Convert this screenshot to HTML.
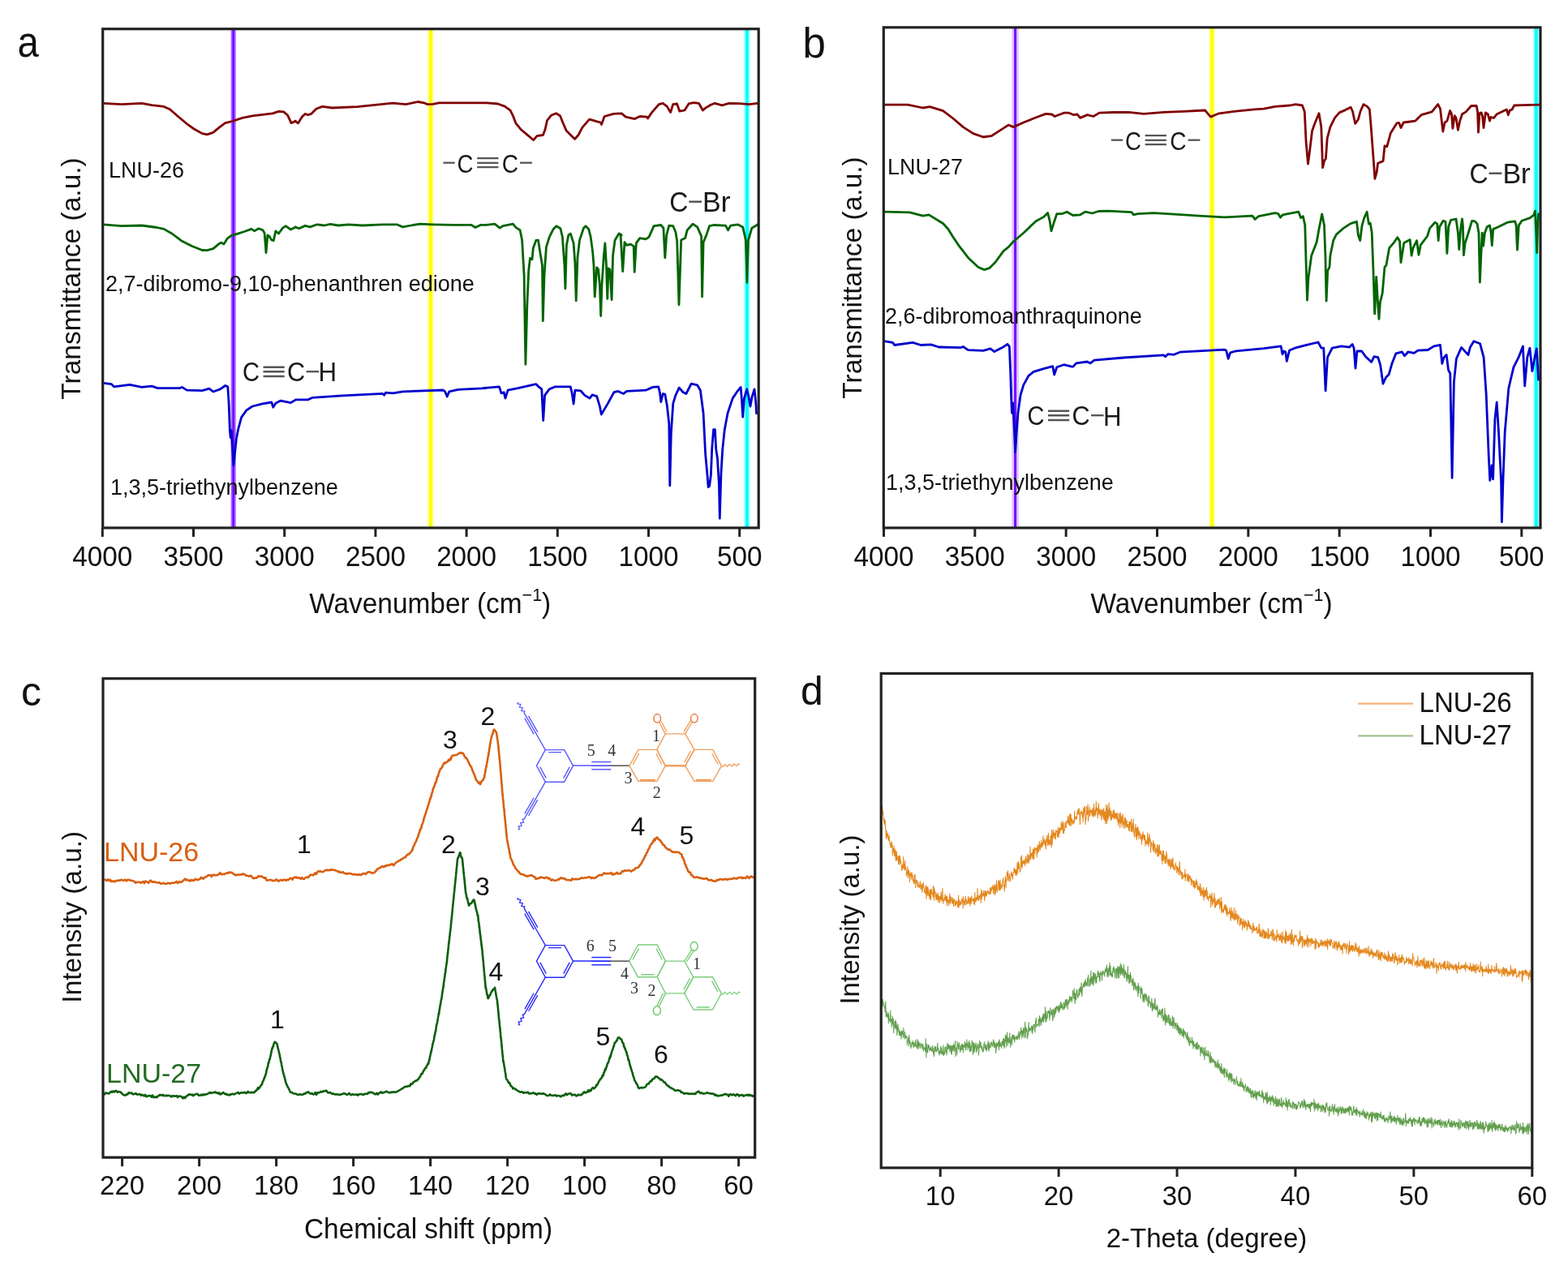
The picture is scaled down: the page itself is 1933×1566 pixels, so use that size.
<!DOCTYPE html>
<html><head><meta charset="utf-8"><title>Figure</title>
<style>html,body{margin:0;padding:0;background:#fff;}svg{display:block;}</style></head>
<body><svg width="1933" height="1566" viewBox="0 0 1933 1566">
<rect width="1933" height="1566" fill="#fff"/>
<line x1="287.7" y1="35.7" x2="287.7" y2="650.9" stroke="#A86AFF" stroke-width="6.2"/>
<line x1="287.7" y1="35.7" x2="287.7" y2="650.9" stroke="#7700FF" stroke-width="2.4"/>
<line x1="531" y1="35.7" x2="531" y2="650.9" stroke="#FFFFB8" stroke-width="8.0"/>
<line x1="531" y1="35.7" x2="531" y2="650.9" stroke="#FFFF00" stroke-width="4.2"/>
<line x1="920.9" y1="35.7" x2="920.9" y2="650.9" stroke="#B0FFFF" stroke-width="7.6"/>
<line x1="920.9" y1="35.7" x2="920.9" y2="650.9" stroke="#00FFFF" stroke-width="4.0"/>
<line x1="1251.6" y1="33.8" x2="1251.6" y2="650.9" stroke="#DCC8FF" stroke-width="8.6"/>
<line x1="1251.6" y1="33.8" x2="1251.6" y2="650.9" stroke="#7700FF" stroke-width="3.0"/>
<line x1="1494.1" y1="33.8" x2="1494.1" y2="650.9" stroke="#FFFFB8" stroke-width="8.0"/>
<line x1="1494.1" y1="33.8" x2="1494.1" y2="650.9" stroke="#FFFF00" stroke-width="4.2"/>
<line x1="1893.8" y1="33.8" x2="1893.8" y2="650.9" stroke="#B0FFFF" stroke-width="7.6"/>
<line x1="1893.8" y1="33.8" x2="1893.8" y2="650.9" stroke="#00FFFF" stroke-width="4.0"/>
<polyline points="127.5,127.4 149.8,128.6 174.7,127.4 187.1,129.6 202.0,131.4 209.4,134.8 219.4,143.5 230.5,152.8 239.2,159.0 249.2,164.6 255.4,165.9 262.8,163.4 270.3,157.2 277.7,151.6 286.4,149.5 298.8,145.4 311.2,142.9 336.1,139.8 343.5,137.3 349.7,137.9 354.7,142.3 359.0,151.6 364.6,149.5 363.7,149.1 367.4,152.0 372.4,144.1 376.1,140.4 379.9,141.7 383.6,140.4 389.8,134.2 397.2,131.4 409.7,133.0 440.7,131.7 484.2,127.1 500.3,128.6 515.2,125.5 522.6,126.8 527.0,128.6 533.8,128.4 541.3,126.8 599.6,126.8 613.6,128.0 622.3,131.1 629.1,136.1 632.2,142.3 636.0,152.2 642.2,159.7 649.6,165.9 657.7,172.7 662.0,167.7 669.5,166.5 672.0,159.7 674.5,148.5 679.4,142.3 685.6,139.8 690.6,142.9 694.3,152.2 698.1,160.9 703.0,165.9 708.6,171.5 713.0,166.5 717.9,157.2 726.6,147.2 735.3,149.7 740.3,151.0 741.5,153.5 745.2,143.5 756.4,140.4 766.3,139.8 771.3,144.1 782.5,146.6 788.7,143.5 797.4,144.1 798.6,146.0 803.6,138.6 812.3,128.6 817.2,127.4 822.2,131.1 826.6,138.6 829.7,128.6 834.6,128.0 837.8,137.2 844.0,136.0 849.0,127.9 855.2,126.7 861.4,127.3 866.4,136.0 870.1,132.9 876.3,129.2 881.3,127.3 890.0,129.8 898.7,127.3 911.1,127.6 923.5,128.6 934.0,127.3" fill="none" stroke="#800000" stroke-width="2.8" stroke-linejoin="round" stroke-linecap="round" />
<polyline points="127.5,276.8 149.8,278.7 174.7,278.0 193.3,280.5 202.0,282.4 211.9,288.0 219.4,293.6 224.3,297.3 236.7,303.5 249.2,308.5 255.4,308.7 262.8,306.6 270.3,300.4 272.7,299.1 275.9,301.0 280.2,294.2 285.2,290.5 290.1,289.2 301.3,285.5 310.0,282.4 313.7,284.9 318.7,281.8 323.7,283.6 326.1,287.3 328.0,311.6 329.9,289.8 331.7,291.1 334.8,296.0 337.3,296.7 339.8,284.9 343.5,288.0 348.5,281.1 352.2,278.7 358.4,283.0 364.6,279.9 363.7,279.9 368.7,281.7 376.1,278.4 382.3,279.9 391.0,276.8 399.7,278.0 407.2,276.4 417.1,278.0 429.5,276.8 446.9,278.0 471.7,276.8 489.1,276.8 496.6,279.9 506.5,278.0 517.7,276.1 533.8,276.8 558.7,277.4 581.0,277.4 586.0,280.5 592.2,277.4 599.6,277.4 609.9,276.2 616.2,281.2 619.9,278.7 632.4,276.2 636.1,280.6 641.1,283.7 643.6,296.1 646.1,339.7 647.9,449.3 649.8,377.1 651.7,333.5 653.5,318.5 656.0,319.8 657.3,306.1 661.0,296.1 663.5,296.1 666.0,312.3 668.5,327.3 669.3,395.7 671.0,339.7 673.4,304.8 677.2,292.4 682.2,282.4 685.9,278.7 690.9,281.8 693.4,292.4 695.9,327.3 696.9,355.9 698.4,302.4 700.8,289.9 703.3,288.0 707.1,299.9 708.9,324.8 710.2,370.8 712.0,317.3 714.5,296.1 719.5,281.2 722.0,278.7 725.7,282.4 728.2,292.4 730.7,311.1 732.0,327.3 733.2,365.9 735.7,329.8 737.6,332.2 739.4,352.2 740.7,389.5 741.9,352.2 744.4,314.8 745.9,299.9 747.5,327.3 748.8,368.4 750.0,331.0 751.9,332.2 754.1,369.6 755.6,314.8 758.1,296.1 763.1,288.0 766.2,289.9 765.0,288.7 767.7,334.7 770.0,298.6 772.5,302.4 777.5,301.1 781.2,303.6 782.2,335.4 784.3,299.9 788.7,293.6 796.1,294.9 799.9,292.4 806.1,278.7 814.8,277.5 817.9,281.2 819.8,317.9 821.7,289.9 824.8,278.1 829.8,278.7 832.9,286.2 834.7,297.4 837.0,375.8 839.7,296.1 844.7,293.6 847.2,283.7 854.0,276.2 859.6,279.9 864.6,291.1 865.6,365.9 867.1,298.6 870.8,289.9 874.6,278.7 879.6,277.5 894.5,278.1 897.6,283.7 900.7,278.1 909.4,276.8 915.7,279.9 919.4,296.1 920.9,348.4 922.5,296.1 926.9,281.2 934.3,276.8" fill="none" stroke="#006400" stroke-width="2.8" stroke-linejoin="round" stroke-linecap="round" />
<polyline points="127.5,472.4 137.4,473.7 140.5,476.8 159.8,474.3 174.7,477.4 187.1,476.1 194.5,478.6 221.8,478.6 224.3,477.4 230.5,481.1 249.2,481.7 257.9,479.2 262.8,483.0 271.5,479.9 277.7,475.5 280.8,476.8 282.1,497.2 283.3,529.5 284.2,539.5 285.2,530.8 287.0,559.3 287.9,574.2 289.5,559.3 291.4,540.7 293.9,528.3 297.6,514.6 303.8,505.9 311.2,501.0 323.7,497.9 334.8,496.0 336.7,502.2 339.8,497.2 346.0,494.1 358.4,496.6 364.6,492.9 365.0,492.8 379.9,492.8 384.8,490.4 422.1,487.9 471.7,485.4 473.6,487.2 475.5,484.1 484.2,484.8 496.6,482.9 546.2,481.0 548.7,482.9 551.2,489.1 553.7,482.9 564.9,480.4 599.6,478.6 595.0,478.7 615.5,476.8 618.0,484.9 621.1,483.7 623.0,491.1 626.1,481.2 638.6,478.7 657.3,474.3 661.0,473.7 664.7,477.4 667.8,479.9 669.7,518.5 671.6,487.4 677.2,479.9 684.7,476.8 703.3,476.8 705.2,484.9 707.1,498.0 708.9,481.2 715.8,481.8 720.8,487.4 727.0,491.1 730.1,486.8 735.7,488.6 739.4,501.1 741.3,511.1 745.7,503.6 749.4,497.4 756.9,483.7 761.9,482.4 768.7,485.5 772.5,482.4 796.1,481.2 804.8,477.4 811.7,476.8 813.6,484.9 814.8,495.5 817.3,485.5 819.8,486.1 822.3,499.8 824.8,522.3 825.8,598.8 827.3,534.7 829.8,497.4 832.9,487.4 837.2,478.1 842.2,483.7 845.9,485.5 852.2,473.1 859.6,474.9 863.4,481.2 867.1,509.8 869.6,559.6 872.1,587.0 873.1,600.7 874.6,599.5 876.4,585.8 877.7,553.4 879.6,529.7 881.4,529.7 882.7,553.4 884.5,565.8 886.4,597.0 887.3,639.3 888.9,584.5 890.8,553.4 893.3,529.7 897.0,509.8 903.2,491.1 908.2,483.7 913.2,477.4 914.4,492.4 915.7,514.2 917.5,491.1 920.7,479.9 923.1,489.9 925.0,501.1 926.9,489.9 930.0,479.9 931.9,497.4 932.5,509.8" fill="none" stroke="#0000CD" stroke-width="2.8" stroke-linejoin="round" stroke-linecap="round" />
<polyline points="1089.9,129.2 1119.0,129.2 1137.7,133.0 1146.4,131.7 1162.5,136.7 1174.9,146.0 1187.3,156.6 1199.7,164.6 1212.2,169.0 1222.1,167.7 1230.8,162.1 1243.2,154.1 1249.4,156.6 1261.8,151.0 1274.2,146.0 1289.1,140.4 1296.6,141.0 1300.3,143.5 1311.5,139.2 1317.7,139.2 1323.9,141.7 1328.0,141.0 1331.7,145.4 1340.4,141.6 1347.8,143.5 1355.3,139.1 1372.7,138.5 1391.3,138.3 1409.9,140.4 1434.7,138.3 1459.6,137.3 1485.6,136.0 1488.1,139.1 1492.5,144.1 1496.8,142.2 1503.0,139.8 1521.7,137.3 1546.5,134.8 1558.0,134.2 1572.0,131.4 1590.6,130.0 1597.1,128.6 1605.5,130.0 1608.3,137.9 1610.1,175.2 1612.5,202.2 1614.8,184.5 1617.6,161.2 1621.3,151.0 1626.0,139.8 1628.8,156.6 1630.6,206.8 1632.5,198.5 1634.4,195.7 1636.2,170.5 1639.9,156.6 1645.5,145.4 1651.1,138.9 1658.6,135.6 1665.1,132.3 1667.4,137.0 1670.7,152.4 1674.4,147.2 1677.2,137.0 1680.9,128.6 1685.6,131.4 1688.4,135.1 1690.2,156.6 1693.0,193.8 1694.9,220.3 1697.2,212.4 1698.6,201.3 1703.3,199.4 1705.1,198.5 1707.0,179.8 1709.8,180.8 1714.4,164.0 1721.9,151.9 1724.7,151.4 1727.0,157.5 1730.3,151.0 1738.2,150.0 1744.8,149.1 1752.2,141.7 1765.2,137.9 1772.7,128.6 1775.5,134.2 1778.8,162.1 1781.1,151.0 1783.9,149.1 1787.6,136.5 1789.5,140.7 1790.9,158.4 1793.2,142.6 1795.0,145.4 1797.4,160.3 1799.7,149.1 1802.5,140.7 1807.2,137.9 1813.7,130.5 1820.2,130.5 1821.6,137.9 1822.5,163.1 1823.9,139.8 1826.2,138.9 1827.6,143.5 1829.0,157.5 1831.4,138.9 1834.2,140.7 1836.5,149.1 1837.9,144.5 1841.6,145.4 1845.3,140.7 1857.4,135.1 1859.3,141.7 1861.2,136.1 1864.0,135.1 1866.7,130.0 1877.0,129.6 1898.4,129.1" fill="none" stroke="#800000" stroke-width="2.8" stroke-linejoin="round" stroke-linecap="round" />
<polyline points="1089.9,261.2 1121.5,261.8 1137.7,266.1 1145.1,264.9 1162.5,275.5 1168.7,282.3 1174.9,292.2 1182.4,303.4 1193.5,317.7 1206.0,329.5 1213.4,332.6 1219.6,330.7 1227.1,323.3 1237.0,309.6 1243.2,304.6 1249.4,297.8 1261.8,287.2 1276.7,273.0 1286.7,267.4 1291.6,262.4 1294.1,272.3 1296.0,284.8 1299.1,274.8 1302.8,263.7 1309.0,263.7 1315.2,261.2 1322.7,265.5 1331.7,264.8 1337.9,261.1 1346.6,263.0 1354.0,260.5 1366.5,260.1 1385.1,261.1 1395.0,261.7 1397.5,264.8 1402.5,263.6 1422.3,262.6 1447.2,264.2 1478.2,266.1 1509.2,267.9 1544.0,266.1 1547.1,270.4 1551.5,266.7 1558.0,265.4 1572.0,262.6 1575.7,263.5 1578.5,268.2 1581.3,264.9 1600.8,261.2 1603.6,268.6 1606.4,266.8 1608.8,277.9 1610.1,324.5 1611.5,370.1 1612.9,343.1 1614.8,329.2 1616.7,315.2 1623.2,298.4 1626.0,282.6 1629.7,264.0 1632.5,277.9 1633.9,315.2 1635.1,371.1 1636.7,333.8 1639.0,329.2 1639.9,315.2 1643.7,296.6 1647.4,289.1 1655.8,281.7 1665.1,275.6 1672.5,273.3 1674.4,290.0 1676.7,296.6 1679.1,277.9 1681.8,268.6 1685.1,261.2 1687.4,276.1 1689.3,275.1 1691.2,287.2 1693.0,333.8 1694.7,386.9 1696.7,341.3 1698.6,373.8 1700.0,393.4 1701.4,372.9 1704.2,361.7 1707.0,329.2 1708.9,327.3 1712.6,305.9 1718.2,299.4 1722.8,292.8 1725.6,297.5 1727.0,323.6 1730.8,299.4 1738.2,295.6 1740.1,315.2 1742.0,305.9 1746.6,296.6 1749.0,314.3 1751.3,302.1 1759.7,291.0 1762.5,281.7 1769.0,274.2 1771.8,276.1 1773.2,296.6 1774.6,279.8 1779.2,272.3 1782.0,273.3 1783.9,312.4 1785.7,279.8 1788.5,271.4 1795.0,270.0 1797.4,287.2 1798.8,307.7 1800.6,282.6 1802.5,270.0 1803.4,277.9 1804.4,314.7 1806.2,299.4 1809.0,291.0 1814.6,272.3 1818.3,272.8 1821.1,276.1 1823.0,287.2 1824.4,348.2 1825.8,315.2 1827.2,287.2 1828.6,303.1 1830.4,287.2 1833.2,279.8 1836.5,277.9 1837.9,285.4 1839.3,302.6 1840.7,282.6 1847.2,279.8 1858.4,274.2 1867.7,272.8 1869.1,277.9 1870.5,308.2 1872.3,277.9 1876.1,272.3 1886.3,268.6 1891.0,264.9 1892.4,260.2 1893.8,287.2 1894.7,311.5 1895.6,277.9 1896.5,264.0" fill="none" stroke="#006400" stroke-width="2.8" stroke-linejoin="round" stroke-linecap="round" />
<polyline points="1089.9,420.6 1100.4,422.4 1102.9,425.5 1125.2,422.4 1135.2,425.5 1147.6,424.9 1157.5,428.0 1184.8,428.6 1187.3,427.4 1193.5,431.7 1212.2,432.3 1220.9,429.9 1225.8,433.6 1235.7,428.6 1242.0,424.3 1244.4,427.4 1245.7,459.7 1246.9,496.9 1247.5,509.3 1248.8,496.9 1250.6,534.2 1251.6,557.7 1253.1,534.2 1255.0,509.3 1258.1,487.0 1261.8,474.6 1268.0,463.4 1274.2,458.4 1286.7,454.7 1297.8,451.6 1299.7,462.1 1302.8,452.8 1311.5,449.7 1321.4,452.2 1323.0,452.2 1326.7,447.9 1340.4,446.0 1344.1,447.9 1349.1,444.1 1385.1,441.0 1434.7,437.9 1436.6,439.8 1439.7,436.7 1447.2,437.3 1454.6,434.2 1509.2,431.1 1511.7,432.3 1514.2,442.3 1516.7,434.8 1522.9,433.0 1558.0,429.6 1579.1,426.8 1581.0,436.8 1582.9,433.0 1584.8,433.9 1586.3,445.4 1589.6,432.0 1596.3,429.2 1610.7,425.3 1625.0,422.0 1628.9,429.2 1631.8,429.2 1634.1,481.8 1636.5,440.7 1642.3,429.2 1653.8,426.8 1663.4,428.2 1667.2,424.4 1669.1,429.2 1671.0,454.1 1672.9,433.0 1678.7,433.0 1683.5,439.7 1690.7,446.4 1694.0,439.7 1698.8,440.7 1701.7,450.2 1705.0,473.2 1708.4,465.6 1712.2,461.7 1716.0,448.3 1720.8,435.9 1728.5,433.9 1731.4,438.7 1735.2,434.9 1732.6,437.6 1735.7,433.8 1743.3,435.3 1747.9,432.2 1760.2,431.5 1767.8,426.9 1775.5,425.3 1777.8,448.3 1780.1,440.7 1783.2,437.6 1785.5,456.0 1787.8,460.6 1790.1,589.3 1792.4,471.3 1795.4,442.2 1801.6,428.4 1810.0,437.6 1812.3,428.4 1816.9,420.7 1824.6,423.8 1829.1,440.7 1832.2,486.6 1835.3,563.3 1836.8,592.4 1839.1,574.0 1840.6,590.8 1842.9,517.3 1845.2,495.8 1847.5,532.6 1850.6,593.9 1851.4,643.7 1852.9,593.9 1855.2,532.6 1859.8,479.0 1865.9,452.9 1872.1,440.7 1877.4,426.9 1879.7,475.9 1882.8,440.7 1885.9,429.2 1888.9,457.5 1892.0,440.7 1894.3,429.9 1896.6,468.2" fill="none" stroke="#0000CD" stroke-width="2.8" stroke-linejoin="round" stroke-linecap="round" />
<polyline points="127.5,1085.3 128.9,1084.7 130.2,1084.8 131.6,1086.2 133.0,1084.4 134.4,1085.9 135.8,1084.7 137.1,1087.0 138.5,1086.6 139.9,1086.6 141.2,1087.3 142.6,1085.9 143.9,1086.4 145.2,1085.8 146.6,1085.4 147.9,1085.8 149.3,1084.7 150.6,1085.2 151.9,1085.7 153.3,1085.2 154.6,1084.7 155.9,1086.3 157.3,1084.7 158.7,1085.1 160.1,1085.1 161.5,1086.0 162.9,1085.9 164.3,1086.4 165.7,1086.8 167.1,1088.7 168.5,1087.8 169.8,1087.8 171.1,1087.8 172.4,1088.1 173.8,1088.9 175.1,1087.4 176.4,1087.1 177.8,1089.1 179.1,1086.5 180.4,1087.2 181.8,1087.8 183.1,1088.8 184.4,1086.7 185.7,1085.6 187.1,1087.2 188.4,1087.8 189.7,1087.2 191.1,1087.5 192.4,1088.2 193.7,1088.2 195.1,1088.4 196.4,1088.1 197.7,1089.4 199.1,1089.8 200.4,1089.0 201.7,1088.8 203.0,1089.8 204.4,1089.8 205.7,1089.7 207.0,1088.8 208.4,1089.0 209.7,1089.8 211.0,1088.9 212.4,1088.6 213.7,1088.7 215.0,1088.4 216.3,1088.2 217.7,1086.8 219.0,1089.0 220.3,1087.8 221.7,1087.0 223.0,1088.0 224.3,1087.2 225.3,1086.5 226.2,1085.3 227.1,1085.1 228.1,1083.5 229.5,1085.3 230.9,1084.6 232.4,1085.7 233.8,1086.5 235.3,1084.9 236.7,1085.9 238.1,1085.3 239.5,1085.8 240.9,1083.8 242.3,1084.4 243.6,1085.1 245.0,1084.5 246.4,1083.9 247.8,1081.9 249.2,1082.8 250.4,1083.9 251.6,1082.2 252.9,1081.8 254.1,1081.2 255.4,1080.4 256.7,1079.1 258.0,1079.1 259.4,1079.0 260.7,1080.9 262.0,1078.9 263.3,1079.1 264.7,1078.9 266.0,1079.3 267.3,1079.1 268.7,1078.8 270.0,1077.6 271.3,1076.2 272.7,1078.2 274.0,1077.9 275.4,1077.8 276.8,1078.1 278.2,1077.0 279.7,1076.4 281.1,1076.8 282.5,1075.3 283.9,1076.0 285.2,1075.8 286.4,1076.3 287.6,1077.6 288.9,1077.9 290.2,1079.4 291.5,1078.6 292.9,1079.0 294.2,1078.5 295.5,1078.7 296.8,1078.3 298.2,1078.6 299.5,1077.3 300.8,1078.2 302.1,1078.3 303.5,1079.8 304.8,1079.8 306.1,1080.2 307.4,1080.6 308.8,1079.7 310.0,1080.3 311.2,1082.0 312.5,1083.3 313.7,1082.8 315.0,1082.4 316.2,1082.7 317.4,1081.5 318.7,1080.1 319.9,1080.8 321.2,1080.4 322.4,1080.4 323.7,1081.7 324.9,1081.9 326.1,1083.0 327.4,1082.1 328.6,1085.4 329.9,1085.6 331.1,1085.3 332.4,1085.1 333.8,1084.8 335.1,1085.5 336.5,1085.9 337.8,1085.8 339.1,1085.9 340.5,1084.4 341.8,1085.0 343.1,1086.6 344.5,1086.0 345.8,1084.9 347.1,1085.3 348.5,1085.9 349.8,1084.7 351.2,1084.7 352.5,1085.8 353.9,1084.6 355.2,1085.1 356.6,1084.2 357.9,1082.8 359.2,1083.0 360.6,1084.7 361.9,1082.3 363.3,1081.8 364.6,1082.2 365.0,1081.4 366.4,1082.6 367.8,1082.2 369.2,1082.5 370.6,1083.8 372.1,1082.0 373.5,1083.8 374.9,1083.9 376.1,1082.6 377.4,1081.7 378.6,1081.5 379.9,1082.2 381.1,1080.7 382.3,1078.9 383.6,1078.8 384.8,1078.9 386.1,1079.3 387.3,1078.3 388.6,1076.3 389.8,1078.0 391.0,1075.6 392.3,1074.4 393.5,1074.6 394.9,1074.3 396.2,1074.9 397.6,1075.2 398.9,1074.6 400.2,1073.5 401.6,1073.3 402.9,1072.5 404.3,1073.3 405.6,1072.8 407.0,1073.2 408.3,1072.0 409.7,1072.7 410.9,1072.8 412.1,1072.9 413.4,1073.1 414.6,1073.6 415.9,1074.1 417.1,1075.2 418.5,1074.6 419.9,1076.0 421.3,1075.9 422.7,1075.2 424.1,1076.7 425.5,1076.8 426.9,1077.8 428.3,1077.0 429.6,1077.1 431.0,1077.2 432.3,1077.1 433.7,1077.7 435.0,1078.2 436.4,1078.1 437.7,1078.0 439.0,1078.7 440.4,1078.5 441.7,1078.8 443.1,1078.1 444.4,1078.9 445.7,1078.6 446.9,1077.3 448.2,1077.0 449.4,1077.2 450.6,1078.0 451.9,1076.8 453.1,1075.7 454.4,1075.2 455.9,1075.2 457.3,1076.1 458.8,1076.5 460.3,1076.5 461.8,1075.8 462.7,1074.6 463.7,1073.8 464.6,1072.3 465.5,1071.5 466.8,1070.8 468.0,1070.0 469.3,1070.0 470.5,1068.3 471.7,1068.5 473.0,1069.1 474.2,1067.8 475.5,1068.3 476.7,1066.7 478.0,1067.1 479.4,1066.6 480.8,1066.8 482.3,1065.5 483.7,1065.4 485.2,1067.2 486.6,1065.3 487.7,1064.0 488.8,1063.2 489.8,1062.5 490.9,1062.1 492.0,1061.2 493.0,1061.1 494.1,1059.7 495.6,1059.5 497.0,1058.1 498.5,1057.4 500.0,1057.0 501.0,1055.1 502.0,1054.0 503.0,1053.5 504.0,1053.5 505.0,1052.1 506.0,1051.5 507.0,1050.0 507.6,1049.4 508.1,1047.5 508.6,1047.8 509.2,1044.9 509.7,1043.6 510.3,1042.6 510.8,1042.4 511.3,1040.4 511.9,1038.8 512.4,1038.4 513.0,1037.7 513.5,1035.6 514.0,1034.5 514.5,1033.1 514.9,1032.8 515.4,1031.5 515.8,1030.2 516.2,1027.9 516.7,1027.3 517.1,1026.2 517.6,1023.5 518.0,1024.3 518.4,1022.3 518.9,1020.8 519.3,1021.3 519.8,1018.7 520.2,1016.8 520.6,1016.1 521.1,1014.9 521.5,1014.0 521.9,1012.9 522.2,1011.1 522.6,1009.3 523.0,1008.2 523.4,1006.8 523.8,1005.4 524.2,1004.9 524.6,1003.3 525.0,1002.4 525.4,1000.6 525.8,999.3 526.1,998.5 526.5,997.2 526.9,996.9 527.3,994.3 527.7,993.8 528.1,992.4 528.5,991.1 528.9,989.0 529.3,989.1 529.7,987.5 530.0,984.8 530.4,985.3 530.8,984.3 531.2,981.9 531.6,982.3 532.0,980.0 532.4,977.9 532.8,977.8 533.2,975.9 533.6,974.0 534.0,972.2 534.3,972.6 534.7,970.7 535.1,969.9 535.6,969.1 536.0,967.7 536.4,965.9 536.9,964.6 537.3,964.9 537.8,963.7 538.2,961.8 538.6,959.8 539.1,958.2 539.5,957.4 540.0,957.5 540.4,955.5 540.8,953.7 541.3,951.9 541.7,951.6 542.1,950.2 542.8,948.4 543.6,947.8 544.3,947.0 545.0,946.0 545.7,944.2 546.4,942.6 547.1,941.8 547.8,940.4 549.2,941.1 550.6,939.7 552.0,939.0 552.9,936.9 553.9,937.7 554.8,935.7 555.7,936.6 556.7,932.8 557.6,932.0 559.0,931.6 560.4,931.1 561.8,931.2 563.2,930.6 564.6,929.8 566.0,928.8 567.4,928.0 568.8,928.8 570.2,928.5 571.0,929.2 571.8,930.3 572.7,933.2 573.5,933.4 574.3,934.7 575.1,934.8 575.9,936.2 576.5,937.6 577.1,938.6 577.7,939.8 578.4,941.7 579.0,942.8 579.6,943.9 580.2,945.0 580.9,945.2 581.5,947.4 582.0,948.2 582.5,950.2 583.0,951.0 583.5,952.0 584.0,954.1 584.5,954.5 585.1,955.9 585.6,958.2 586.1,958.7 586.6,961.1 587.1,961.5 588.1,963.0 589.1,964.3 590.1,965.6 591.0,964.6 592.0,967.1 592.7,965.8 593.4,963.8 594.1,963.2 594.8,962.2 595.5,961.9 596.2,959.8 596.9,958.7 597.2,958.4 597.4,955.7 597.7,954.7 597.9,953.4 598.2,952.7 598.4,950.7 598.7,949.0 598.9,947.9 599.2,945.8 599.4,946.3 599.7,944.6 599.9,943.1 600.2,941.7 600.4,939.8 600.7,938.6 600.9,938.0 601.1,936.2 601.4,934.3 601.6,933.0 601.8,933.2 602.0,931.9 602.3,929.7 602.5,928.6 602.7,927.0 602.9,926.5 603.1,923.9 603.4,922.9 603.6,921.9 603.8,921.2 604.0,918.7 604.3,917.7 604.5,915.9 604.7,914.5 604.9,913.1 605.1,912.3 605.4,910.9 605.8,910.2 606.1,908.0 606.5,906.8 606.9,905.6 607.3,904.9 607.7,903.9 608.1,901.3 608.5,901.1 608.9,899.7 609.8,900.0 610.7,902.0 611.7,902.5 611.9,903.3 612.2,904.6 612.4,906.2 612.6,908.1 612.9,908.9 613.1,911.0 613.3,912.4 613.6,913.8 613.8,915.1 613.9,916.6 614.1,918.4 614.2,918.7 614.3,920.5 614.5,921.8 614.6,921.8 614.7,924.7 614.9,925.3 615.0,926.7 615.1,928.2 615.3,929.9 615.4,931.4 615.5,932.8 615.7,933.4 615.8,935.6 615.9,936.8 616.1,937.6 616.2,939.2 616.3,941.1 616.5,942.2 616.6,943.2 616.7,945.0 616.8,945.9 616.9,947.9 617.0,949.9 617.1,950.0 617.2,950.0 617.3,953.4 617.4,953.3 617.5,954.0 617.6,954.7 617.7,957.8 617.9,959.5 618.0,960.8 618.1,961.2 618.2,963.7 618.3,964.0 618.4,964.9 618.5,966.7 618.6,968.1 618.7,969.3 618.8,970.8 618.9,970.4 619.0,974.2 619.1,974.1 619.2,976.2 619.3,976.5 619.4,978.3 619.5,979.8 619.7,980.9 619.8,981.3 619.9,983.9 620.1,985.4 620.2,985.6 620.3,986.3 620.5,988.6 620.6,989.8 620.8,991.8 620.9,993.0 621.0,995.4 621.2,996.2 621.3,996.9 621.4,998.5 621.6,997.9 621.7,1000.5 621.8,1001.8 622.0,1003.7 622.1,1005.3 622.2,1006.4 622.4,1007.9 622.5,1009.7 622.6,1010.0 622.8,1012.0 622.9,1013.0 623.0,1014.5 623.2,1016.0 623.3,1017.0 623.4,1018.6 623.6,1019.8 623.7,1021.8 623.8,1022.4 624.0,1024.0 624.1,1026.9 624.2,1026.9 624.4,1028.2 624.5,1029.9 624.6,1029.9 624.8,1032.3 624.9,1033.7 625.0,1034.5 625.3,1036.1 625.5,1037.8 625.8,1039.0 626.0,1040.6 626.3,1040.7 626.5,1042.7 626.8,1043.4 627.0,1045.9 627.3,1046.5 627.5,1046.9 627.8,1049.1 628.0,1049.8 628.3,1052.4 628.5,1052.8 628.8,1052.9 629.0,1055.4 629.2,1057.0 629.8,1058.9 630.4,1059.8 630.9,1060.4 631.5,1062.5 632.1,1063.7 632.6,1065.6 633.2,1066.4 633.7,1067.4 634.3,1067.9 634.9,1069.7 635.8,1071.0 636.7,1072.2 637.7,1073.2 638.6,1074.6 639.5,1074.7 640.5,1076.7 641.7,1077.6 642.9,1077.7 644.1,1078.4 645.3,1078.6 646.5,1079.0 647.7,1079.9 648.9,1080.2 650.3,1080.6 651.7,1079.7 653.1,1080.0 654.5,1079.1 655.9,1079.5 657.1,1080.6 658.2,1081.2 659.3,1081.2 660.4,1083.6 661.6,1083.7 663.0,1082.8 664.4,1083.2 665.8,1082.0 667.2,1081.5 668.6,1082.3 670.0,1082.3 671.4,1083.0 672.7,1082.0 674.1,1081.8 675.5,1083.4 676.9,1082.8 678.2,1084.0 679.6,1085.6 681.0,1084.5 682.3,1085.3 683.7,1085.7 685.1,1085.7 686.5,1085.2 687.8,1084.2 689.2,1084.6 690.6,1082.9 691.9,1082.3 693.3,1083.0 694.7,1083.4 696.0,1083.1 697.4,1084.7 698.8,1085.0 700.2,1085.0 701.5,1085.3 702.9,1085.2 704.3,1085.7 705.6,1083.4 707.0,1084.2 708.4,1084.2 709.8,1083.8 711.1,1084.3 712.5,1084.3 713.9,1083.8 715.2,1083.7 716.6,1082.3 718.0,1082.6 719.4,1082.9 720.7,1082.4 722.1,1082.1 723.5,1082.2 724.8,1081.8 726.2,1081.1 727.6,1081.6 728.9,1083.1 730.3,1082.0 731.7,1082.9 733.1,1082.7 734.4,1082.0 735.8,1081.5 737.2,1079.8 738.5,1079.5 739.9,1078.6 741.3,1079.2 742.7,1078.9 744.0,1076.9 745.4,1076.5 746.8,1077.5 748.1,1077.3 749.5,1077.1 750.9,1077.3 752.3,1076.8 753.6,1076.2 755.0,1078.6 756.4,1077.6 757.7,1077.9 759.1,1077.3 760.5,1075.9 761.9,1077.5 763.2,1077.0 764.6,1077.5 765.5,1076.6 766.4,1075.1 767.3,1074.0 768.7,1074.4 770.1,1073.3 771.4,1073.6 772.8,1073.7 774.2,1073.2 775.6,1073.3 776.9,1073.9 778.3,1074.7 779.7,1073.3 780.8,1072.5 782.0,1072.5 783.2,1070.6 784.4,1070.3 785.5,1070.1 786.7,1069.6 787.9,1068.5 788.6,1066.7 789.3,1066.6 790.0,1065.2 790.6,1064.8 791.3,1063.4 792.0,1062.0 792.7,1060.3 793.4,1059.6 794.1,1057.7 794.8,1056.6 795.4,1054.8 796.1,1054.8 796.7,1052.8 797.2,1051.6 797.8,1051.1 798.3,1050.0 798.9,1047.8 799.4,1047.4 800.0,1046.5 800.5,1045.6 801.1,1043.7 801.6,1042.5 802.4,1041.6 803.3,1040.1 804.1,1039.9 805.0,1037.2 805.8,1037.3 806.6,1034.6 807.5,1036.1 808.3,1034.6 809.1,1032.9 810.3,1032.5 811.4,1034.4 812.6,1035.6 813.5,1035.8 814.4,1036.6 815.3,1038.6 816.2,1039.3 817.1,1041.6 818.1,1041.7 819.0,1042.4 819.9,1044.1 820.8,1045.2 822.0,1046.3 823.2,1047.3 824.3,1047.9 825.5,1047.4 826.7,1048.6 827.9,1049.8 829.0,1050.7 830.4,1050.2 831.8,1051.2 833.1,1050.5 834.5,1050.7 835.9,1050.7 837.3,1051.4 838.6,1052.6 840.0,1053.5 840.5,1053.7 841.0,1057.2 841.4,1056.7 841.9,1057.8 842.4,1058.4 842.9,1060.7 843.4,1061.0 843.9,1063.3 844.3,1065.1 844.8,1065.9 845.3,1066.5 845.8,1068.8 846.3,1069.1 846.8,1070.4 847.3,1071.6 847.7,1072.5 848.2,1074.0 849.2,1075.4 850.2,1075.4 851.2,1076.1 852.1,1079.1 853.1,1078.9 854.1,1080.3 855.1,1081.6 856.4,1082.0 857.8,1081.7 859.2,1081.4 860.6,1082.3 861.9,1082.0 863.3,1083.1 864.7,1082.7 866.0,1083.0 867.4,1083.9 868.8,1083.6 870.2,1082.9 871.5,1083.2 872.9,1084.9 874.3,1085.5 875.6,1085.0 877.0,1084.8 878.4,1086.3 879.8,1086.1 881.1,1086.7 882.5,1086.4 883.9,1084.8 885.2,1085.5 886.6,1084.5 888.0,1084.0 889.3,1084.3 890.7,1084.6 892.1,1084.6 893.5,1083.8 894.8,1083.9 896.2,1084.8 897.6,1084.3 898.9,1083.7 900.3,1084.1 901.7,1083.8 903.1,1083.6 904.4,1082.7 905.8,1083.0 907.2,1083.4 908.5,1083.5 909.9,1082.2 911.3,1082.3 912.7,1082.3 914.0,1081.6 915.4,1083.1 916.8,1082.3 918.1,1082.5 919.5,1082.9 920.9,1080.6 922.3,1081.4 923.6,1083.0 925.0,1080.9 926.4,1080.5 927.7,1081.8 929.1,1081.6" fill="none" stroke="#D95F0E" stroke-width="2.6" stroke-linejoin="round" stroke-linecap="round" />
<polyline points="127.5,1349.5 128.8,1349.4 130.2,1347.6 131.5,1347.9 132.9,1348.1 134.2,1348.6 135.6,1347.3 136.9,1345.8 138.2,1346.8 139.6,1345.4 140.9,1346.6 142.3,1345.3 143.6,1345.1 144.9,1346.9 146.1,1346.3 147.3,1346.3 148.6,1346.6 149.8,1348.0 151.1,1349.1 152.3,1350.2 153.6,1350.3 154.8,1350.7 156.0,1349.4 157.3,1349.5 158.5,1347.4 159.8,1347.6 161.1,1348.1 162.3,1347.5 163.6,1349.2 164.9,1349.1 166.2,1348.9 167.5,1348.2 168.8,1349.5 170.1,1349.6 171.4,1349.2 172.7,1349.3 173.9,1350.8 175.2,1349.9 176.5,1350.7 177.8,1351.5 179.1,1349.9 180.4,1352.2 181.7,1351.9 183.0,1351.0 184.3,1351.1 185.6,1351.1 186.8,1352.7 188.1,1350.7 189.4,1353.1 190.7,1352.9 192.0,1352.5 193.3,1353.2 194.5,1351.8 195.8,1350.9 197.0,1350.1 198.3,1350.0 199.6,1350.9 200.9,1349.9 202.2,1351.2 203.5,1351.3 204.8,1350.6 206.1,1351.2 207.4,1350.6 208.7,1351.1 210.0,1351.5 211.3,1352.5 212.6,1351.3 213.9,1351.4 215.2,1351.6 216.4,1351.6 217.7,1351.1 219.0,1353.1 220.3,1351.6 221.6,1351.8 222.9,1351.8 224.2,1352.8 225.5,1354.4 226.8,1352.6 228.1,1354.0 229.3,1352.2 230.5,1351.2 231.8,1350.5 233.0,1349.3 234.3,1349.5 235.6,1350.1 237.0,1349.6 238.3,1351.2 239.7,1349.7 241.0,1349.4 242.4,1348.9 243.7,1349.1 245.1,1350.8 246.5,1350.7 247.8,1349.8 249.2,1350.7 250.5,1349.3 251.8,1350.2 253.2,1349.4 254.5,1349.4 255.9,1348.9 257.2,1348.0 258.6,1347.0 259.9,1347.9 261.3,1347.5 262.6,1347.2 264.0,1347.3 265.3,1346.4 266.5,1347.6 267.8,1347.3 269.0,1348.6 270.3,1347.4 271.5,1349.5 272.7,1349.1 274.0,1347.8 275.2,1347.0 276.5,1348.4 277.7,1349.2 279.0,1348.7 280.2,1350.1 281.5,1349.8 282.9,1350.5 284.2,1349.2 285.5,1349.4 286.9,1348.8 288.2,1349.4 289.5,1349.0 290.8,1348.1 292.2,1347.6 293.5,1346.9 294.8,1348.7 296.2,1347.7 297.5,1347.3 298.8,1347.6 300.2,1347.2 301.6,1346.9 302.9,1347.9 304.3,1347.8 305.7,1345.8 307.0,1347.2 308.4,1347.2 309.7,1346.9 311.1,1347.1 312.5,1347.0 313.6,1347.1 314.7,1345.3 315.7,1345.0 316.8,1343.9 317.9,1341.3 319.0,1342.6 320.1,1340.6 321.2,1339.5 321.8,1338.1 322.4,1337.6 323.0,1337.3 323.7,1334.0 324.3,1332.9 324.9,1332.3 325.5,1329.7 326.1,1329.6 326.5,1327.5 326.8,1327.0 327.2,1326.1 327.6,1324.6 327.9,1323.5 328.3,1322.3 328.6,1320.0 329.0,1318.7 329.3,1317.4 329.7,1316.1 330.0,1315.7 330.4,1314.2 330.7,1310.9 331.1,1311.0 331.4,1310.0 331.8,1307.6 332.1,1306.3 332.4,1306.5 332.8,1305.2 333.1,1303.8 333.4,1302.2 333.8,1301.6 334.1,1298.3 334.4,1298.3 334.7,1296.0 335.1,1294.7 335.4,1292.7 335.7,1293.4 336.1,1291.1 336.6,1291.0 337.1,1289.2 337.6,1287.0 338.1,1286.3 338.6,1284.9 339.6,1285.0 340.6,1286.4 341.7,1287.4 342.0,1289.8 342.3,1291.2 342.6,1291.9 342.9,1293.4 343.2,1294.1 343.5,1295.8 343.8,1296.8 344.1,1298.6 344.5,1299.3 344.8,1301.0 345.0,1303.0 345.3,1303.6 345.6,1305.2 345.8,1306.3 346.1,1308.7 346.4,1309.6 346.6,1309.8 346.9,1311.1 347.2,1313.4 347.4,1314.4 347.7,1315.5 348.0,1317.2 348.2,1319.4 348.5,1319.7 348.8,1321.0 349.2,1323.3 349.5,1323.4 349.8,1324.9 350.2,1326.7 350.5,1327.8 350.9,1328.8 351.2,1329.8 351.5,1331.6 351.9,1333.0 352.2,1334.6 352.8,1335.8 353.5,1337.8 354.1,1338.6 354.7,1340.3 355.3,1340.9 355.9,1342.3 356.6,1343.7 357.2,1345.0 357.8,1346.4 358.4,1347.0 360.0,1347.1 361.5,1348.2 363.1,1348.5 364.6,1348.8 365.0,1348.7 366.5,1349.8 368.1,1349.9 369.6,1349.3 371.2,1349.9 372.4,1349.7 373.7,1349.4 374.9,1348.4 376.1,1348.7 377.4,1347.6 378.6,1346.8 380.1,1346.4 381.5,1347.9 383.0,1348.6 384.4,1348.0 385.9,1349.4 387.3,1349.3 388.7,1347.1 390.1,1349.9 391.5,1347.2 392.8,1347.4 394.2,1347.1 395.6,1345.9 397.0,1346.6 398.4,1345.4 399.7,1345.6 401.1,1345.0 402.4,1344.7 403.8,1347.0 405.1,1347.6 406.5,1347.0 407.8,1347.6 409.1,1348.8 410.5,1348.4 411.8,1349.2 413.2,1349.4 414.5,1349.5 415.9,1349.3 417.2,1349.7 418.5,1350.1 419.9,1349.5 421.2,1349.4 422.5,1348.9 423.9,1348.0 425.2,1348.7 426.5,1349.1 427.8,1350.0 429.2,1349.1 430.5,1348.0 431.8,1349.8 433.2,1350.2 434.5,1349.3 435.9,1349.6 437.2,1349.7 438.6,1349.7 440.0,1349.6 441.3,1350.6 442.7,1349.2 444.1,1349.3 445.4,1348.9 446.8,1349.6 448.2,1349.9 449.4,1349.1 450.6,1348.7 451.9,1348.8 453.1,1348.9 454.4,1346.9 455.6,1347.4 456.8,1346.8 458.1,1346.9 459.3,1347.4 460.6,1348.1 461.8,1349.1 463.1,1349.3 464.4,1347.9 465.8,1349.6 467.1,1348.2 468.5,1347.4 469.9,1346.4 471.2,1347.8 472.6,1347.2 474.0,1347.0 475.3,1346.1 476.7,1345.6 478.1,1346.9 479.5,1347.0 480.9,1347.5 482.3,1346.5 483.7,1347.0 485.1,1346.3 486.5,1346.8 487.9,1346.8 489.1,1346.0 490.4,1345.5 491.6,1344.8 492.9,1344.0 494.1,1343.3 495.3,1342.7 496.6,1341.9 497.8,1341.0 499.1,1340.2 500.3,1339.7 501.5,1339.9 502.8,1339.3 504.0,1338.9 505.3,1339.2 506.5,1336.3 507.7,1336.9 509.0,1335.7 510.0,1334.0 511.1,1333.7 512.1,1332.7 513.1,1332.4 514.2,1332.4 515.2,1330.7 516.0,1330.6 516.8,1328.7 517.6,1328.0 518.4,1326.6 519.2,1324.4 520.0,1324.0 520.7,1324.0 521.5,1321.4 522.2,1320.4 523.0,1319.5 523.7,1317.8 524.5,1316.9 525.2,1316.8 525.9,1314.5 526.7,1313.6 527.4,1311.8 528.2,1311.8 528.5,1309.2 528.8,1309.4 529.0,1308.1 529.3,1306.3 529.6,1306.4 529.9,1303.3 530.2,1302.9 530.5,1300.8 530.8,1299.9 531.1,1299.0 531.4,1296.4 531.7,1296.9 532.0,1294.7 532.3,1293.4 532.6,1292.0 532.8,1291.0 533.1,1288.6 533.4,1287.4 533.7,1287.1 534.0,1285.4 534.3,1283.9 534.6,1283.1 534.9,1282.6 535.2,1279.6 535.5,1277.3 535.8,1277.4 536.1,1275.2 536.3,1275.0 536.6,1273.6 536.8,1271.8 537.0,1271.2 537.3,1271.1 537.5,1268.5 537.7,1266.2 538.0,1265.3 538.2,1264.0 538.4,1262.5 538.7,1262.5 538.9,1261.0 539.1,1260.3 539.4,1258.9 539.6,1256.9 539.9,1255.4 540.1,1254.1 540.3,1253.1 540.6,1251.4 540.8,1249.5 541.0,1250.9 541.3,1249.0 541.5,1246.6 541.7,1245.2 542.0,1243.9 542.2,1243.2 542.4,1241.4 542.7,1238.9 542.9,1239.2 543.1,1238.1 543.4,1235.6 543.6,1234.2 543.8,1233.8 544.1,1231.9 544.3,1232.0 544.5,1230.0 544.7,1229.3 544.9,1226.3 545.1,1226.5 545.3,1223.9 545.4,1223.1 545.6,1223.1 545.8,1220.8 546.0,1220.1 546.2,1218.1 546.4,1218.4 546.6,1215.7 546.8,1216.5 546.9,1213.5 547.1,1211.6 547.3,1210.6 547.5,1209.1 547.7,1209.0 547.9,1206.0 548.1,1205.9 548.2,1205.0 548.4,1203.5 548.6,1200.6 548.8,1201.0 549.0,1199.4 549.2,1198.3 549.4,1195.6 549.5,1195.1 549.7,1194.4 549.9,1192.4 550.1,1191.2 550.3,1189.5 550.5,1188.3 550.7,1187.1 550.8,1185.8 551.0,1186.2 551.1,1183.1 551.3,1181.5 551.4,1179.8 551.6,1179.5 551.7,1178.0 551.9,1176.2 552.0,1174.1 552.2,1175.2 552.3,1172.5 552.5,1170.8 552.6,1170.1 552.8,1168.0 552.9,1167.1 553.1,1164.7 553.2,1164.3 553.4,1161.6 553.5,1162.5 553.7,1160.6 553.8,1159.2 554.0,1158.0 554.1,1155.8 554.3,1155.4 554.4,1154.0 554.6,1153.3 554.7,1150.9 554.9,1149.7 555.0,1148.7 555.2,1147.6 555.3,1146.2 555.5,1145.0 555.6,1144.0 555.8,1142.2 555.9,1141.0 556.0,1139.7 556.2,1138.1 556.3,1135.9 556.4,1135.9 556.6,1134.0 556.7,1132.8 556.8,1130.8 556.9,1131.4 557.1,1129.7 557.2,1127.4 557.3,1126.7 557.5,1125.6 557.6,1125.1 557.7,1122.5 557.9,1121.7 558.0,1119.2 558.1,1118.3 558.3,1117.0 558.4,1115.6 558.5,1113.7 558.7,1113.5 558.8,1111.2 558.9,1109.9 559.1,1109.1 559.2,1108.8 559.3,1107.3 559.5,1105.1 559.6,1103.2 559.7,1101.6 559.8,1101.3 560.0,1100.0 560.1,1099.2 560.2,1097.9 560.4,1095.9 560.5,1094.2 560.6,1093.7 560.8,1092.9 560.9,1090.7 561.0,1089.7 561.2,1087.9 561.3,1086.6 561.4,1086.4 561.6,1083.8 561.7,1083.7 561.8,1081.3 562.0,1080.2 562.1,1079.4 562.2,1078.0 562.4,1075.9 562.5,1074.9 562.6,1073.6 562.7,1072.3 562.9,1070.9 563.0,1070.2 563.1,1067.7 563.3,1067.6 563.4,1066.3 563.5,1063.6 563.7,1063.0 563.8,1061.2 563.9,1060.4 564.4,1058.1 564.8,1057.8 565.2,1056.9 565.7,1054.9 566.1,1054.1 566.6,1052.6 567.0,1051.2 567.4,1051.2 567.9,1053.7 568.3,1055.8 568.8,1057.4 569.2,1057.0 569.6,1058.1 570.1,1060.4 570.2,1062.0 570.3,1062.9 570.5,1064.5 570.6,1065.4 570.7,1067.5 570.9,1068.8 571.0,1069.4 571.1,1071.0 571.3,1072.2 571.4,1074.0 571.5,1075.1 571.6,1076.5 571.8,1078.0 571.9,1079.0 572.0,1079.9 572.2,1082.1 572.3,1082.5 572.4,1083.3 572.6,1084.9 572.7,1086.8 572.8,1087.8 573.0,1089.2 573.1,1090.9 573.2,1092.4 573.4,1093.2 573.5,1094.4 573.6,1096.1 573.8,1097.9 573.9,1097.8 574.0,1099.6 574.2,1101.3 574.5,1101.8 574.8,1103.4 575.2,1105.6 575.5,1107.8 575.9,1107.6 576.2,1108.3 576.5,1109.6 576.9,1112.0 577.2,1113.5 577.6,1114.7 577.9,1115.9 578.2,1116.6 579.1,1115.3 580.0,1114.1 580.9,1113.6 581.7,1113.1 582.6,1111.2 583.5,1109.8 584.4,1109.5 584.7,1111.6 585.0,1111.1 585.3,1114.5 585.6,1114.0 585.9,1116.5 586.2,1117.1 586.5,1119.5 586.8,1119.8 587.1,1121.4 587.4,1123.0 587.7,1123.8 588.0,1124.5 588.3,1126.2 588.6,1127.4 588.9,1129.4 589.2,1128.2 589.5,1132.0 589.6,1134.0 589.8,1135.9 590.0,1136.0 590.1,1136.6 590.3,1138.1 590.5,1139.3 590.6,1140.5 590.8,1143.4 591.0,1142.3 591.1,1144.5 591.3,1146.4 591.5,1146.8 591.6,1150.2 591.8,1150.2 591.9,1151.8 592.1,1152.8 592.3,1154.2 592.4,1155.1 592.6,1157.8 592.8,1157.7 592.9,1159.1 593.1,1161.4 593.3,1161.5 593.4,1164.8 593.6,1164.7 593.8,1166.1 593.9,1168.7 594.1,1167.9 594.3,1171.4 594.4,1171.0 594.6,1172.8 594.7,1173.7 594.8,1176.0 594.9,1177.9 595.1,1178.0 595.2,1179.5 595.3,1180.8 595.4,1182.0 595.5,1183.6 595.7,1184.8 595.8,1185.5 595.9,1186.7 596.0,1187.2 596.1,1190.2 596.3,1190.9 596.4,1192.7 596.5,1194.3 596.6,1195.3 596.7,1197.1 596.9,1198.1 597.0,1199.9 597.1,1200.5 597.2,1201.5 597.3,1203.7 597.5,1203.8 597.6,1206.7 597.7,1206.9 597.8,1208.1 598.0,1210.3 598.1,1212.3 598.2,1211.8 598.3,1213.5 598.4,1215.7 598.6,1218.2 598.7,1217.8 599.0,1217.7 599.3,1220.2 599.6,1221.3 599.9,1222.3 600.2,1225.8 600.5,1226.0 600.8,1227.2 601.1,1228.2 601.4,1230.6 601.7,1231.1 602.4,1230.4 603.0,1228.6 603.7,1227.2 604.3,1226.8 604.9,1225.3 605.6,1223.5 606.2,1222.7 606.8,1221.9 607.9,1220.0 608.9,1220.0 609.9,1217.8 610.2,1218.1 610.4,1220.9 610.7,1221.9 610.9,1223.1 611.2,1224.2 611.4,1226.7 611.7,1227.1 612.0,1229.5 612.2,1230.3 612.5,1231.5 612.7,1232.3 613.0,1234.1 613.1,1235.4 613.2,1237.0 613.4,1238.8 613.5,1238.7 613.6,1240.3 613.8,1241.5 613.9,1243.0 614.0,1243.6 614.2,1246.7 614.3,1248.4 614.4,1247.7 614.6,1251.0 614.7,1251.1 614.8,1253.1 615.0,1255.1 615.1,1255.3 615.2,1257.3 615.4,1258.0 615.5,1259.5 615.6,1260.4 615.8,1262.3 615.9,1263.5 616.0,1264.8 616.2,1266.8 616.3,1267.4 616.4,1267.8 616.6,1269.6 616.7,1272.3 616.8,1272.2 617.0,1274.3 617.1,1274.9 617.2,1276.9 617.4,1278.9 617.5,1280.7 617.6,1279.8 617.8,1281.4 617.9,1282.6 618.0,1284.1 618.2,1285.8 618.3,1287.1 618.4,1289.2 618.5,1290.1 618.7,1291.0 618.8,1292.5 618.9,1293.9 619.1,1295.6 619.2,1297.6 619.3,1297.5 619.5,1299.7 619.6,1300.5 619.7,1301.5 619.9,1303.3 620.0,1303.8 620.1,1305.6 620.3,1308.8 620.6,1308.7 620.8,1309.3 621.0,1310.9 621.2,1311.8 621.4,1313.2 621.6,1314.5 621.8,1315.4 622.1,1316.6 622.3,1319.4 622.5,1319.8 622.7,1321.5 622.9,1322.2 623.1,1323.4 623.4,1324.7 623.6,1328.0 623.8,1328.4 624.0,1329.5 624.2,1330.2 625.0,1331.4 625.7,1332.2 626.4,1333.9 627.2,1335.3 627.9,1334.9 628.7,1336.2 629.4,1338.5 630.2,1339.2 630.9,1340.0 631.6,1340.6 632.4,1342.4 633.7,1341.9 634.9,1342.8 636.2,1343.5 637.5,1344.5 638.8,1345.4 640.1,1345.8 641.3,1346.6 642.6,1346.5 644.0,1346.4 645.3,1347.9 646.7,1347.1 648.1,1347.3 649.4,1347.4 650.8,1346.6 652.1,1348.4 653.5,1348.4 654.9,1348.3 656.2,1348.0 657.6,1347.4 659.0,1348.6 660.3,1348.4 661.7,1349.9 663.0,1348.6 664.4,1348.2 665.8,1348.5 667.1,1348.6 668.5,1348.6 669.9,1348.4 671.2,1349.0 672.6,1349.5 673.9,1351.0 675.3,1351.0 676.7,1350.8 678.0,1349.4 679.4,1350.5 680.7,1350.9 682.1,1350.9 683.5,1350.6 684.8,1350.3 686.1,1351.7 687.4,1351.0 688.7,1351.0 690.0,1351.4 691.3,1352.3 692.5,1351.4 693.8,1350.7 695.1,1351.1 696.3,1349.7 697.6,1348.4 698.9,1350.1 700.1,1348.9 701.4,1348.6 702.7,1348.2 703.9,1348.6 705.2,1350.6 706.5,1349.9 707.7,1350.0 709.0,1349.9 710.3,1351.4 711.5,1351.1 712.8,1349.7 714.1,1350.2 715.3,1350.1 716.6,1350.2 717.9,1349.0 719.2,1347.4 720.4,1346.3 721.7,1347.6 722.8,1346.9 724.0,1346.6 725.1,1344.4 726.3,1345.9 727.4,1344.2 728.6,1344.8 729.8,1342.0 730.9,1341.2 732.1,1342.3 733.2,1341.5 734.4,1340.0 735.1,1338.0 735.8,1338.3 736.6,1337.0 737.3,1335.5 738.1,1333.7 738.8,1332.8 739.5,1331.6 740.3,1330.6 741.0,1329.5 741.8,1329.3 742.5,1326.4 743.2,1326.0 743.7,1326.4 744.2,1323.1 744.8,1322.7 745.3,1320.2 745.8,1320.2 746.3,1317.7 746.8,1318.8 747.3,1316.2 747.8,1315.5 748.3,1313.7 748.8,1311.7 749.3,1310.9 749.8,1310.3 750.3,1309.0 750.8,1307.0 751.3,1304.7 751.7,1305.1 752.1,1302.4 752.5,1303.3 753.0,1301.4 753.4,1299.5 753.8,1298.3 754.2,1296.8 754.6,1295.6 755.1,1294.8 755.5,1293.2 755.9,1292.3 756.3,1290.5 756.8,1290.2 757.2,1288.0 757.9,1285.5 758.6,1285.5 759.3,1284.5 760.1,1283.1 760.8,1282.6 761.5,1280.2 762.2,1279.2 763.5,1279.5 764.8,1280.9 766.0,1281.7 766.6,1282.7 767.1,1284.8 767.6,1285.6 768.1,1286.1 768.6,1287.0 769.1,1290.6 769.6,1290.1 770.1,1292.7 770.6,1292.9 771.1,1294.4 771.5,1295.4 771.9,1297.0 772.2,1296.9 772.6,1298.8 773.0,1300.9 773.4,1301.3 773.7,1302.5 774.1,1303.6 774.5,1306.8 774.8,1307.0 775.2,1306.9 775.6,1308.7 776.0,1310.9 776.3,1312.1 776.7,1313.9 777.1,1314.5 777.5,1315.9 777.8,1317.7 778.2,1318.4 778.6,1319.7 779.0,1321.0 779.4,1322.5 779.8,1322.9 780.2,1325.6 780.6,1326.7 781.0,1327.5 781.4,1329.2 781.7,1329.4 782.1,1331.4 782.5,1332.4 783.2,1333.5 783.8,1334.3 784.4,1336.2 785.1,1336.5 785.7,1337.8 786.3,1339.8 787.0,1341.1 787.6,1341.9 789.1,1341.4 790.6,1340.9 792.2,1341.4 793.7,1341.0 795.2,1340.6 796.1,1339.8 797.0,1338.2 797.9,1336.7 798.7,1336.5 799.6,1336.5 800.5,1335.0 801.4,1333.8 802.3,1332.9 803.2,1333.1 804.1,1331.1 805.3,1330.2 806.6,1329.7 807.9,1327.8 809.1,1327.3 810.4,1328.0 811.7,1329.0 812.9,1329.8 814.2,1331.5 815.5,1331.1 816.5,1332.1 817.6,1333.2 818.6,1334.6 819.7,1334.5 820.8,1336.3 821.8,1337.5 822.9,1338.8 824.0,1338.7 825.1,1340.5 826.2,1341.3 827.2,1341.4 828.3,1342.2 829.4,1342.5 830.7,1343.3 832.0,1344.8 833.2,1344.7 834.5,1344.4 835.8,1344.4 837.0,1344.8 838.3,1344.9 839.6,1346.9 840.8,1346.7 842.1,1347.6 843.5,1348.7 844.9,1348.1 846.3,1348.3 847.7,1348.4 849.1,1348.6 850.5,1348.9 852.0,1348.5 853.4,1348.7 854.8,1348.9 856.0,1348.5 857.3,1349.0 858.6,1347.1 859.8,1346.6 861.1,1345.6 862.4,1347.0 863.7,1348.2 865.1,1347.5 866.5,1348.5 867.8,1348.6 869.2,1348.3 870.6,1347.9 871.9,1347.3 873.3,1347.9 874.7,1348.4 876.0,1348.2 877.4,1348.7 878.8,1348.6 880.1,1348.9 881.4,1350.6 882.7,1349.8 883.9,1351.0 885.2,1351.4 886.5,1351.1 887.7,1351.0 889.0,1350.6 890.3,1350.4 891.5,1350.2 892.8,1349.5 894.2,1348.8 895.6,1349.5 897.0,1349.7 898.4,1351.7 899.8,1349.2 901.2,1349.5 902.7,1350.4 904.1,1349.3 905.5,1350.1 906.9,1351.1 908.3,1349.4 909.7,1349.5 911.1,1351.4 912.5,1350.4 913.9,1350.5 915.3,1350.1 916.7,1351.6 918.1,1350.8 919.6,1350.4 921.0,1349.8 922.4,1350.9 923.8,1349.7 925.3,1351.2 926.7,1350.5 928.1,1351.9 929.5,1350.8" fill="none" stroke="#0B5E0B" stroke-width="2.6" stroke-linejoin="round" stroke-linecap="round" />
<polyline points="1086.4,995.4 1086.8,999.2 1087.1,995.0 1087.4,993.8 1087.8,995.1 1088.1,1003.9 1088.5,1000.8 1088.8,1000.3 1089.2,1010.2 1089.5,1011.5 1089.9,1015.2 1090.2,1009.6 1090.6,1015.8 1090.9,1017.1 1091.3,1011.6 1091.6,1023.1 1092.0,1023.2 1092.3,1034.4 1092.7,1024.8 1093.0,1024.2 1093.4,1032.0 1093.7,1028.1 1094.1,1032.7 1094.4,1027.6 1094.8,1031.5 1095.1,1036.5 1095.5,1036.1 1095.8,1034.4 1096.2,1029.8 1096.5,1038.2 1096.9,1037.3 1097.2,1041.2 1097.6,1039.7 1097.9,1044.7 1098.3,1040.1 1098.6,1042.2 1099.0,1045.2 1099.3,1037.8 1099.7,1041.9 1100.0,1042.3 1100.4,1054.8 1100.7,1046.0 1101.1,1050.3 1101.4,1051.1 1101.8,1047.7 1102.1,1042.7 1102.5,1055.2 1102.8,1049.7 1103.2,1055.7 1103.5,1047.0 1103.9,1051.6 1104.2,1060.1 1104.6,1061.5 1104.9,1049.6 1105.3,1050.1 1105.6,1056.6 1106.0,1060.8 1106.3,1058.8 1106.7,1060.1 1107.0,1054.9 1107.4,1062.7 1107.7,1065.7 1108.1,1059.3 1108.4,1055.2 1108.8,1058.8 1109.1,1066.2 1109.5,1055.3 1109.8,1063.3 1110.2,1059.7 1110.5,1064.1 1110.9,1064.1 1111.2,1065.7 1111.6,1072.9 1111.9,1068.5 1112.3,1073.1 1112.6,1067.0 1113.0,1065.9 1113.3,1070.3 1113.7,1056.4 1114.0,1069.4 1114.4,1070.8 1114.7,1065.0 1115.1,1073.1 1115.4,1069.0 1115.8,1061.1 1116.1,1071.6 1116.5,1068.7 1116.8,1071.2 1117.2,1073.3 1117.5,1080.0 1117.9,1075.4 1118.2,1075.3 1118.6,1077.7 1118.9,1068.4 1119.3,1082.4 1119.6,1072.6 1120.0,1079.6 1120.3,1073.1 1120.7,1074.1 1121.0,1077.0 1121.4,1087.4 1121.7,1082.5 1122.1,1077.2 1122.4,1078.9 1122.8,1075.5 1123.1,1080.7 1123.5,1078.7 1123.8,1084.7 1124.2,1076.0 1124.5,1080.8 1124.9,1078.9 1125.2,1079.8 1125.6,1086.4 1125.9,1084.2 1126.3,1086.5 1126.6,1089.5 1127.0,1089.7 1127.3,1079.1 1127.7,1087.7 1128.0,1078.1 1128.4,1085.8 1128.7,1094.7 1129.1,1086.0 1129.4,1085.6 1129.8,1088.2 1130.1,1087.9 1130.5,1088.3 1130.8,1085.3 1131.2,1093.5 1131.5,1092.9 1131.9,1088.5 1132.2,1091.0 1132.6,1092.7 1132.9,1094.6 1133.3,1092.1 1133.6,1093.7 1134.0,1089.8 1134.3,1086.6 1134.7,1089.4 1135.0,1096.1 1135.4,1096.2 1135.7,1092.9 1136.1,1090.1 1136.4,1094.1 1136.8,1100.2 1137.1,1099.1 1137.5,1090.7 1137.8,1093.7 1138.2,1088.0 1138.5,1089.6 1138.9,1095.5 1139.2,1095.0 1139.6,1099.3 1139.9,1100.8 1140.3,1099.2 1140.6,1101.6 1141.0,1093.9 1141.3,1091.7 1141.7,1098.9 1142.0,1108.3 1142.4,1098.8 1142.7,1092.7 1143.1,1098.8 1143.4,1104.1 1143.8,1094.0 1144.1,1102.0 1144.5,1096.3 1144.8,1104.5 1145.2,1102.6 1145.5,1100.8 1145.9,1108.1 1146.2,1098.1 1146.6,1097.1 1146.9,1108.0 1147.3,1096.7 1147.6,1109.7 1148.0,1100.5 1148.3,1096.5 1148.7,1101.0 1149.0,1101.8 1149.4,1102.2 1149.7,1100.8 1150.1,1106.3 1150.4,1092.2 1150.8,1099.8 1151.1,1101.2 1151.5,1110.0 1151.8,1094.3 1152.2,1101.4 1152.5,1098.2 1152.9,1100.4 1153.2,1106.0 1153.6,1105.2 1153.9,1109.6 1154.3,1101.3 1154.6,1105.1 1155.0,1109.1 1155.3,1108.1 1155.7,1103.1 1156.0,1109.4 1156.4,1101.0 1156.7,1112.5 1157.1,1105.9 1157.4,1104.9 1157.8,1106.7 1158.1,1109.3 1158.5,1113.1 1158.8,1105.5 1159.2,1104.7 1159.5,1108.9 1159.9,1103.0 1160.2,1099.8 1160.6,1110.4 1160.9,1105.5 1161.3,1111.8 1161.6,1103.0 1162.0,1095.4 1162.3,1108.6 1162.7,1108.1 1163.0,1114.2 1163.4,1109.8 1163.7,1109.0 1164.1,1110.2 1164.4,1106.4 1164.8,1108.3 1165.1,1102.5 1165.5,1110.3 1165.8,1104.9 1166.2,1106.4 1166.5,1111.2 1166.9,1112.2 1167.2,1104.4 1167.6,1116.9 1167.9,1106.2 1168.3,1112.2 1168.6,1112.7 1169.0,1109.8 1169.3,1109.7 1169.7,1116.5 1170.0,1112.8 1170.4,1111.0 1170.7,1101.8 1171.1,1106.3 1171.4,1114.2 1171.8,1110.3 1172.1,1105.7 1172.5,1107.0 1172.8,1108.5 1173.2,1112.7 1173.5,1111.5 1173.9,1114.1 1174.2,1106.7 1174.6,1114.2 1174.9,1108.2 1175.3,1109.1 1175.6,1117.5 1176.0,1110.8 1176.3,1110.0 1176.7,1109.7 1177.0,1109.1 1177.4,1117.2 1177.7,1116.5 1178.1,1113.9 1178.4,1111.8 1178.8,1115.4 1179.1,1110.8 1179.5,1113.1 1179.8,1113.0 1180.2,1111.8 1180.5,1118.2 1180.9,1118.7 1181.2,1117.0 1181.6,1103.9 1181.9,1119.2 1182.3,1114.5 1182.6,1109.7 1183.0,1111.4 1183.3,1116.1 1183.7,1116.3 1184.0,1114.9 1184.4,1111.9 1184.7,1111.5 1185.1,1114.7 1185.4,1110.8 1185.8,1107.5 1186.1,1108.6 1186.5,1110.5 1186.8,1112.4 1187.2,1120.3 1187.5,1105.3 1187.9,1112.9 1188.2,1110.5 1188.6,1112.1 1188.9,1116.3 1189.3,1115.8 1189.6,1110.0 1190.0,1108.4 1190.3,1105.0 1190.7,1110.3 1191.0,1115.6 1191.4,1109.4 1191.7,1113.3 1192.1,1113.3 1192.4,1112.0 1192.8,1114.8 1193.1,1109.8 1193.5,1106.8 1193.8,1105.4 1194.2,1113.9 1194.5,1108.6 1194.9,1108.8 1195.2,1113.4 1195.6,1106.7 1195.9,1117.2 1196.3,1112.6 1196.6,1107.7 1197.0,1107.2 1197.3,1114.2 1197.7,1104.8 1198.0,1107.0 1198.4,1109.6 1198.7,1110.4 1199.1,1109.6 1199.4,1111.1 1199.8,1107.9 1200.1,1108.8 1200.5,1114.4 1200.8,1111.7 1201.2,1107.0 1201.5,1115.8 1201.9,1100.4 1202.2,1108.8 1202.6,1111.0 1202.9,1112.1 1203.3,1108.4 1203.6,1106.2 1204.0,1110.1 1204.3,1106.7 1204.7,1109.3 1205.0,1095.4 1205.4,1108.6 1205.7,1103.6 1206.1,1110.7 1206.4,1109.7 1206.8,1109.5 1207.1,1104.6 1207.5,1108.0 1207.8,1104.6 1208.2,1106.8 1208.5,1105.2 1208.9,1101.9 1209.2,1113.6 1209.6,1108.3 1209.9,1096.6 1210.3,1108.7 1210.6,1099.0 1211.0,1103.7 1211.3,1102.1 1211.7,1102.1 1212.0,1105.2 1212.4,1102.7 1212.7,1097.9 1213.1,1103.7 1213.4,1105.1 1213.8,1110.8 1214.1,1101.6 1214.5,1098.2 1214.8,1101.4 1215.2,1105.6 1215.5,1099.0 1215.9,1099.5 1216.2,1104.7 1216.6,1102.1 1216.9,1102.8 1217.3,1099.1 1217.6,1098.0 1218.0,1099.9 1218.3,1100.4 1218.7,1099.4 1219.0,1102.4 1219.4,1102.7 1219.7,1102.5 1220.1,1102.0 1220.4,1096.0 1220.8,1094.8 1221.1,1102.7 1221.5,1099.1 1221.8,1099.4 1222.2,1093.7 1222.5,1097.5 1222.9,1095.5 1223.2,1094.3 1223.6,1095.1 1223.9,1091.2 1224.3,1097.7 1224.6,1102.0 1225.0,1093.9 1225.3,1097.1 1225.7,1091.8 1226.0,1099.1 1226.4,1103.9 1226.7,1090.6 1227.1,1094.6 1227.4,1101.4 1227.8,1096.7 1228.1,1095.4 1228.5,1086.0 1228.8,1093.8 1229.2,1098.2 1229.5,1100.1 1229.9,1096.5 1230.2,1091.1 1230.6,1090.5 1230.9,1085.4 1231.3,1088.4 1231.6,1097.5 1232.0,1092.0 1232.3,1086.6 1232.7,1097.7 1233.0,1084.7 1233.4,1097.0 1233.7,1090.0 1234.1,1092.6 1234.4,1093.9 1234.8,1091.7 1235.1,1095.7 1235.5,1090.0 1235.8,1088.1 1236.2,1086.4 1236.5,1082.6 1236.9,1085.5 1237.2,1092.4 1237.6,1091.4 1237.9,1093.5 1238.3,1098.9 1238.6,1089.8 1239.0,1088.6 1239.3,1080.4 1239.7,1084.6 1240.0,1094.9 1240.4,1087.3 1240.7,1084.1 1241.1,1085.6 1241.4,1075.7 1241.8,1080.0 1242.1,1077.6 1242.5,1073.6 1242.8,1085.9 1243.2,1086.4 1243.5,1081.1 1243.9,1083.0 1244.2,1076.7 1244.6,1082.8 1244.9,1083.8 1245.3,1086.8 1245.6,1086.6 1246.0,1081.5 1246.3,1078.5 1246.7,1075.1 1247.0,1075.7 1247.4,1080.7 1247.7,1080.1 1248.1,1077.4 1248.4,1084.3 1248.8,1079.5 1249.1,1076.3 1249.5,1075.1 1249.8,1075.9 1250.2,1071.0 1250.5,1070.5 1250.9,1076.1 1251.2,1071.7 1251.6,1072.7 1251.9,1079.1 1252.3,1072.5 1252.6,1078.9 1253.0,1072.7 1253.3,1079.2 1253.7,1074.2 1254.0,1064.0 1254.4,1077.0 1254.7,1070.3 1255.1,1062.1 1255.4,1071.1 1255.8,1071.0 1256.1,1064.2 1256.5,1067.0 1256.8,1071.8 1257.2,1075.4 1257.5,1073.9 1257.9,1073.9 1258.2,1073.2 1258.6,1056.7 1258.9,1064.3 1259.3,1068.1 1259.6,1054.9 1260.0,1070.1 1260.3,1070.3 1260.7,1062.5 1261.0,1064.0 1261.4,1061.2 1261.7,1065.0 1262.1,1064.6 1262.4,1064.5 1262.8,1059.6 1263.1,1065.7 1263.5,1062.1 1263.8,1067.6 1264.2,1064.4 1264.5,1056.0 1264.9,1055.8 1265.2,1062.4 1265.6,1059.6 1265.9,1063.6 1266.3,1064.8 1266.6,1060.9 1267.0,1052.9 1267.3,1054.8 1267.7,1062.6 1268.0,1054.8 1268.4,1064.4 1268.7,1058.6 1269.1,1061.1 1269.4,1054.3 1269.8,1057.5 1270.1,1044.1 1270.5,1056.3 1270.8,1059.6 1271.2,1052.5 1271.5,1052.4 1271.9,1055.7 1272.2,1055.8 1272.6,1051.5 1272.9,1058.0 1273.3,1046.9 1273.6,1059.3 1274.0,1047.3 1274.3,1049.6 1274.7,1059.3 1275.0,1048.1 1275.4,1044.7 1275.7,1052.4 1276.1,1047.4 1276.4,1046.2 1276.8,1047.7 1277.1,1047.2 1277.5,1045.8 1277.8,1045.2 1278.2,1057.1 1278.5,1046.1 1278.9,1053.4 1279.2,1042.0 1279.6,1050.7 1279.9,1042.0 1280.3,1045.4 1280.6,1050.1 1281.0,1044.3 1281.3,1037.3 1281.7,1043.5 1282.0,1045.0 1282.4,1048.1 1282.7,1040.4 1283.1,1043.3 1283.4,1044.6 1283.8,1036.2 1284.1,1043.1 1284.5,1039.4 1284.8,1045.0 1285.2,1042.1 1285.5,1041.5 1285.9,1030.5 1286.2,1041.0 1286.6,1039.4 1286.9,1036.4 1287.3,1038.1 1287.6,1034.2 1288.0,1040.7 1288.3,1042.7 1288.7,1042.1 1289.0,1036.5 1289.4,1046.6 1289.7,1042.4 1290.1,1033.5 1290.4,1037.1 1290.8,1029.7 1291.1,1036.6 1291.5,1040.2 1291.8,1042.6 1292.2,1034.2 1292.5,1027.4 1292.9,1034.8 1293.2,1041.8 1293.6,1035.7 1293.9,1040.8 1294.3,1038.3 1294.6,1041.5 1295.0,1036.6 1295.3,1030.3 1295.7,1035.3 1296.0,1045.0 1296.4,1030.0 1296.7,1023.3 1297.1,1042.1 1297.4,1033.6 1297.8,1028.3 1298.1,1028.1 1298.5,1023.3 1298.8,1033.8 1299.2,1030.8 1299.5,1026.7 1299.9,1027.4 1300.2,1027.1 1300.6,1034.0 1300.9,1027.7 1301.3,1034.9 1301.6,1023.9 1302.0,1024.7 1302.3,1025.0 1302.7,1024.4 1303.0,1026.3 1303.4,1031.4 1303.7,1032.0 1304.1,1020.6 1304.4,1031.7 1304.8,1025.7 1305.1,1032.6 1305.5,1023.8 1305.8,1020.2 1306.2,1027.8 1306.5,1026.8 1306.9,1021.2 1307.2,1023.2 1307.6,1023.5 1307.9,1024.1 1308.3,1013.9 1308.6,1016.1 1309.0,1022.0 1309.3,1022.7 1309.7,1018.6 1310.0,1012.2 1310.4,1027.2 1310.7,1018.8 1311.1,1014.8 1311.4,1027.6 1311.8,1025.0 1312.1,1024.3 1312.5,1023.0 1312.8,1021.4 1313.2,1013.5 1313.5,1018.2 1313.9,1019.5 1314.2,1020.6 1314.6,1019.5 1314.9,1011.9 1315.3,1013.6 1315.6,1014.6 1316.0,1015.0 1316.3,1011.4 1316.7,1006.4 1317.0,1009.1 1317.4,1016.4 1317.7,1014.5 1318.1,1017.2 1318.4,1004.6 1318.8,1011.6 1319.1,1017.9 1319.5,1003.4 1319.8,1007.5 1320.2,1004.3 1320.5,1018.3 1320.9,1012.2 1321.2,1008.9 1321.6,1012.2 1321.9,1010.7 1322.3,1015.4 1322.6,1016.4 1323.0,1014.9 1323.3,1011.7 1323.7,1013.6 1324.0,1013.5 1324.4,1015.1 1324.7,999.9 1325.1,1010.6 1325.4,1009.1 1325.8,1009.4 1326.1,1007.1 1326.5,1007.8 1326.8,1010.5 1327.2,1008.9 1327.5,1008.3 1327.9,1002.1 1328.2,1001.0 1328.6,1003.4 1328.9,998.0 1329.3,1004.2 1329.6,1002.3 1330.0,997.4 1330.3,996.5 1330.7,1003.7 1331.0,1003.0 1331.4,1016.7 1331.7,1009.9 1332.1,1001.5 1332.4,1002.7 1332.8,999.9 1333.1,1000.9 1333.5,1002.9 1333.8,1004.3 1334.2,1001.2 1334.5,1008.3 1334.9,1007.3 1335.2,1013.7 1335.6,997.0 1335.9,1006.9 1336.3,1001.4 1336.6,995.0 1337.0,1001.4 1337.3,994.4 1337.7,1002.5 1338.0,1016.4 1338.4,1009.0 1338.7,1011.6 1339.1,1008.3 1339.4,994.3 1339.8,1004.2 1340.1,1002.8 1340.5,1004.2 1340.8,996.6 1341.2,991.8 1341.5,1012.5 1341.9,1007.8 1342.2,1003.2 1342.6,999.1 1342.9,1002.4 1343.3,995.1 1343.6,1006.2 1344.0,1002.1 1344.3,1000.4 1344.7,999.0 1345.0,1000.7 1345.4,1001.7 1345.7,998.9 1346.1,1005.8 1346.4,1001.9 1346.8,1000.2 1347.1,996.3 1347.5,1006.8 1347.8,1007.1 1348.2,1004.0 1348.5,991.0 1348.9,998.5 1349.2,1005.3 1349.6,1000.4 1349.9,1006.8 1350.3,998.1 1350.6,1004.5 1351.0,1003.2 1351.3,988.1 1351.7,998.6 1352.0,999.5 1352.4,997.6 1352.7,996.3 1353.1,1009.0 1353.4,1000.4 1353.8,1005.1 1354.1,994.3 1354.5,990.6 1354.8,998.9 1355.2,1003.4 1355.5,997.8 1355.9,1004.2 1356.2,1005.7 1356.6,999.4 1356.9,1001.4 1357.3,998.0 1357.6,1007.3 1358.0,1010.9 1358.3,1004.5 1358.7,999.5 1359.0,998.5 1359.4,1000.8 1359.7,1006.8 1360.1,998.5 1360.4,1009.9 1360.8,996.3 1361.1,1002.5 1361.5,1009.3 1361.8,1011.8 1362.2,1000.8 1362.5,1006.9 1362.9,1015.8 1363.2,1009.0 1363.6,992.1 1363.9,1004.7 1364.3,1015.4 1364.6,997.6 1365.0,1008.2 1365.3,993.0 1365.7,1011.8 1366.0,999.5 1366.4,1008.0 1366.7,1008.6 1367.1,990.0 1367.4,996.9 1367.8,1005.9 1368.1,996.6 1368.5,1004.3 1368.8,999.7 1369.2,1011.4 1369.5,1002.1 1369.9,1000.2 1370.2,1008.1 1370.6,1011.1 1370.9,1004.3 1371.3,1006.6 1371.6,1007.7 1372.0,1002.8 1372.3,999.4 1372.7,1008.2 1373.0,1003.8 1373.4,998.8 1373.7,1010.1 1374.1,1008.0 1374.4,1006.7 1374.8,1002.3 1375.1,1005.2 1375.5,1009.6 1375.8,1009.2 1376.2,1002.9 1376.5,1002.7 1376.9,1009.2 1377.2,1008.6 1377.6,1012.2 1377.9,1002.4 1378.3,1013.0 1378.6,1017.5 1379.0,1013.7 1379.3,1009.8 1379.7,1013.9 1380.0,1003.1 1380.4,1007.6 1380.7,1020.4 1381.1,1002.1 1381.4,1004.7 1381.8,1014.9 1382.1,1007.7 1382.5,1008.4 1382.8,1005.9 1383.2,1020.1 1383.5,1008.9 1383.9,1010.8 1384.2,1003.4 1384.6,1016.5 1384.9,1012.8 1385.3,1015.6 1385.6,1021.2 1386.0,1014.4 1386.3,1007.9 1386.7,1009.0 1387.0,1014.7 1387.4,1021.1 1387.7,1008.8 1388.1,1013.8 1388.4,1014.5 1388.8,1018.8 1389.1,1011.4 1389.5,1017.7 1389.8,1020.3 1390.2,1016.6 1390.5,1016.6 1390.9,1020.4 1391.2,1020.6 1391.6,1024.2 1391.9,1013.0 1392.3,1024.7 1392.6,1017.8 1393.0,1013.6 1393.3,1016.8 1393.7,1013.8 1394.0,1019.2 1394.4,1025.5 1394.7,1009.7 1395.1,1015.3 1395.4,1025.1 1395.8,1020.2 1396.1,1025.9 1396.5,1015.8 1396.8,1022.3 1397.2,1010.1 1397.5,1019.1 1397.9,1027.1 1398.2,1029.8 1398.6,1032.1 1398.9,1024.2 1399.3,1020.5 1399.6,1023.2 1400.0,1016.0 1400.3,1032.3 1400.7,1031.7 1401.0,1021.8 1401.4,1035.5 1401.7,1020.3 1402.1,1029.9 1402.4,1023.6 1402.8,1019.4 1403.1,1030.0 1403.5,1022.8 1403.8,1034.5 1404.2,1024.7 1404.5,1029.8 1404.9,1027.3 1405.2,1030.6 1405.6,1027.2 1405.9,1034.5 1406.3,1033.8 1406.6,1031.5 1407.0,1030.9 1407.3,1041.3 1407.7,1028.8 1408.0,1030.3 1408.4,1036.5 1408.7,1033.0 1409.1,1025.5 1409.4,1033.0 1409.8,1032.2 1410.1,1029.6 1410.5,1035.6 1410.8,1029.5 1411.2,1034.1 1411.5,1030.1 1411.9,1043.4 1412.2,1034.9 1412.6,1038.6 1412.9,1038.2 1413.3,1040.5 1413.6,1036.7 1414.0,1041.4 1414.3,1038.7 1414.7,1026.8 1415.0,1040.2 1415.4,1032.9 1415.7,1043.9 1416.1,1040.7 1416.4,1038.2 1416.8,1028.3 1417.1,1030.5 1417.5,1035.4 1417.8,1039.5 1418.2,1035.0 1418.5,1051.2 1418.9,1044.4 1419.2,1042.1 1419.6,1038.2 1419.9,1041.5 1420.3,1042.3 1420.6,1041.7 1421.0,1043.7 1421.3,1048.2 1421.7,1036.4 1422.0,1046.1 1422.4,1050.5 1422.7,1039.2 1423.1,1045.1 1423.4,1044.5 1423.8,1041.2 1424.1,1051.4 1424.5,1045.7 1424.8,1052.9 1425.2,1049.8 1425.5,1046.9 1425.9,1049.8 1426.2,1047.1 1426.6,1041.5 1426.9,1056.1 1427.3,1051.5 1427.6,1055.4 1428.0,1042.0 1428.3,1055.6 1428.7,1054.8 1429.0,1051.1 1429.4,1041.8 1429.7,1052.4 1430.1,1049.2 1430.4,1051.7 1430.8,1053.2 1431.1,1049.0 1431.5,1052.9 1431.8,1053.9 1432.2,1060.9 1432.5,1054.0 1432.9,1065.6 1433.2,1049.6 1433.6,1054.8 1433.9,1061.4 1434.3,1048.8 1434.6,1059.2 1435.0,1058.5 1435.3,1054.2 1435.7,1056.2 1436.0,1064.7 1436.4,1055.9 1436.7,1059.5 1437.1,1060.5 1437.4,1064.4 1437.8,1049.7 1438.1,1052.8 1438.5,1053.7 1438.8,1058.8 1439.2,1063.2 1439.5,1064.5 1439.9,1059.7 1440.2,1068.2 1440.6,1061.3 1440.9,1065.1 1441.3,1058.9 1441.6,1066.4 1442.0,1059.7 1442.3,1068.5 1442.7,1067.5 1443.0,1072.3 1443.4,1062.3 1443.7,1059.2 1444.1,1068.6 1444.4,1066.6 1444.8,1063.0 1445.1,1059.7 1445.5,1069.7 1445.8,1057.6 1446.2,1064.6 1446.5,1071.8 1446.9,1066.2 1447.2,1069.7 1447.6,1070.1 1447.9,1070.9 1448.3,1073.3 1448.6,1071.8 1449.0,1067.5 1449.3,1064.0 1449.7,1068.5 1450.0,1067.2 1450.4,1072.3 1450.7,1076.3 1451.1,1074.6 1451.4,1068.3 1451.8,1072.6 1452.1,1072.0 1452.5,1070.2 1452.8,1078.4 1453.2,1075.7 1453.5,1074.9 1453.9,1068.2 1454.2,1062.3 1454.6,1071.0 1454.9,1079.6 1455.3,1073.9 1455.6,1075.1 1456.0,1074.3 1456.3,1077.9 1456.7,1076.1 1457.0,1084.0 1457.4,1076.2 1457.7,1075.9 1458.1,1083.6 1458.4,1081.0 1458.8,1081.1 1459.1,1080.6 1459.5,1078.5 1459.8,1080.3 1460.2,1081.6 1460.5,1080.0 1460.9,1071.7 1461.2,1086.2 1461.6,1078.4 1461.9,1078.3 1462.3,1079.7 1462.6,1078.3 1463.0,1078.0 1463.3,1081.7 1463.7,1086.3 1464.0,1081.4 1464.4,1085.1 1464.7,1077.5 1465.1,1087.0 1465.4,1079.0 1465.8,1087.3 1466.1,1081.4 1466.5,1082.3 1466.8,1079.8 1467.2,1080.1 1467.5,1084.9 1467.9,1082.0 1468.2,1085.5 1468.6,1091.7 1468.9,1083.5 1469.3,1086.1 1469.6,1087.3 1470.0,1085.4 1470.3,1088.3 1470.7,1089.7 1471.0,1093.5 1471.4,1086.2 1471.7,1088.7 1472.1,1089.3 1472.4,1095.5 1472.8,1086.3 1473.1,1091.6 1473.5,1094.5 1473.8,1094.1 1474.2,1088.8 1474.5,1087.8 1474.9,1084.6 1475.2,1090.5 1475.6,1092.0 1475.9,1087.0 1476.3,1097.3 1476.6,1094.7 1477.0,1093.3 1477.3,1092.3 1477.7,1096.9 1478.0,1094.0 1478.4,1097.6 1478.7,1093.7 1479.1,1100.5 1479.4,1089.4 1479.8,1092.1 1480.1,1104.5 1480.5,1101.6 1480.8,1104.4 1481.2,1094.4 1481.5,1101.1 1481.9,1102.5 1482.2,1102.5 1482.6,1098.1 1482.9,1105.4 1483.3,1101.2 1483.6,1094.3 1484.0,1110.3 1484.3,1100.8 1484.7,1105.8 1485.0,1097.9 1485.4,1097.2 1485.7,1105.1 1486.1,1105.1 1486.4,1098.8 1486.8,1103.3 1487.1,1097.0 1487.5,1094.2 1487.8,1107.6 1488.2,1098.6 1488.5,1106.7 1488.9,1108.4 1489.2,1105.7 1489.6,1110.8 1489.9,1106.3 1490.3,1106.3 1490.6,1105.3 1491.0,1107.3 1491.3,1107.3 1491.7,1102.3 1492.0,1106.2 1492.4,1105.2 1492.7,1118.8 1493.1,1112.4 1493.4,1104.3 1493.8,1110.3 1494.1,1100.9 1494.5,1108.6 1494.8,1116.2 1495.2,1109.3 1495.5,1114.5 1495.9,1108.0 1496.2,1111.7 1496.6,1111.6 1496.9,1101.3 1497.3,1107.3 1497.6,1118.7 1498.0,1107.8 1498.3,1116.4 1498.7,1118.8 1499.0,1111.9 1499.4,1116.4 1499.7,1114.1 1500.1,1110.5 1500.4,1115.5 1500.8,1115.2 1501.1,1109.7 1501.5,1112.2 1501.8,1108.8 1502.2,1113.2 1502.5,1114.7 1502.9,1111.1 1503.2,1107.8 1503.6,1118.4 1503.9,1121.1 1504.3,1112.5 1504.6,1116.8 1505.0,1114.1 1505.3,1106.4 1505.7,1125.9 1506.0,1118.8 1506.4,1112.2 1506.7,1123.3 1507.1,1121.4 1507.4,1124.5 1507.8,1122.0 1508.1,1121.5 1508.5,1125.4 1508.8,1118.8 1509.2,1121.1 1509.5,1116.1 1509.9,1116.1 1510.2,1121.8 1510.6,1122.2 1510.9,1115.2 1511.3,1123.3 1511.6,1126.2 1512.0,1117.4 1512.3,1121.3 1512.7,1129.8 1513.0,1119.8 1513.4,1125.8 1513.7,1126.9 1514.1,1124.8 1514.4,1124.9 1514.8,1126.9 1515.1,1126.1 1515.5,1125.8 1515.8,1119.6 1516.2,1126.7 1516.5,1122.9 1516.9,1132.3 1517.2,1135.4 1517.6,1131.3 1517.9,1118.7 1518.3,1131.4 1518.6,1128.2 1519.0,1123.7 1519.3,1123.5 1519.7,1132.7 1520.0,1126.3 1520.4,1128.8 1520.7,1129.7 1521.1,1133.4 1521.4,1119.4 1521.8,1135.1 1522.1,1127.3 1522.5,1129.2 1522.8,1133.5 1523.2,1132.8 1523.5,1122.6 1523.9,1134.3 1524.2,1131.6 1524.6,1128.4 1524.9,1130.4 1525.3,1126.8 1525.6,1136.4 1526.0,1139.4 1526.3,1131.4 1526.7,1132.2 1527.0,1128.6 1527.4,1131.7 1527.7,1130.7 1528.1,1134.9 1528.4,1141.8 1528.8,1139.4 1529.1,1139.3 1529.5,1131.9 1529.8,1139.1 1530.2,1133.3 1530.5,1132.9 1530.9,1139.4 1531.2,1136.4 1531.6,1146.6 1531.9,1137.9 1532.3,1136.2 1532.6,1140.5 1533.0,1133.3 1533.3,1140.6 1533.7,1144.2 1534.0,1137.9 1534.4,1136.7 1534.7,1143.2 1535.1,1134.8 1535.4,1140.7 1535.8,1137.5 1536.1,1140.8 1536.5,1136.9 1536.8,1142.4 1537.2,1142.5 1537.5,1147.3 1537.9,1139.3 1538.2,1142.6 1538.6,1134.4 1538.9,1138.4 1539.3,1142.6 1539.6,1136.6 1540.0,1141.6 1540.3,1138.8 1540.7,1144.2 1541.0,1144.9 1541.4,1141.0 1541.7,1145.6 1542.1,1141.1 1542.4,1143.9 1542.8,1145.7 1543.1,1146.0 1543.5,1146.4 1543.8,1150.8 1544.2,1142.1 1544.5,1144.1 1544.9,1138.0 1545.2,1148.5 1545.6,1141.1 1545.9,1143.3 1546.3,1143.8 1546.6,1147.6 1547.0,1145.1 1547.3,1145.3 1547.7,1146.9 1548.0,1145.6 1548.4,1147.0 1548.7,1143.5 1549.1,1145.4 1549.4,1142.9 1549.8,1150.9 1550.1,1151.1 1550.5,1150.4 1550.8,1149.2 1551.2,1145.8 1551.5,1150.3 1551.9,1142.4 1552.2,1139.0 1552.6,1144.0 1552.9,1154.2 1553.3,1149.6 1553.6,1154.6 1554.0,1146.2 1554.3,1152.8 1554.7,1155.1 1555.0,1152.9 1555.4,1150.4 1555.7,1153.5 1556.1,1147.8 1556.4,1156.3 1556.8,1145.4 1557.1,1147.0 1557.5,1150.0 1557.8,1147.2 1558.2,1156.7 1558.5,1152.8 1558.9,1147.6 1559.2,1156.8 1559.6,1155.7 1559.9,1149.3 1560.3,1156.6 1560.6,1155.3 1561.0,1149.1 1561.3,1149.0 1561.7,1152.4 1562.0,1155.6 1562.4,1157.3 1562.7,1157.1 1563.1,1149.8 1563.4,1145.1 1563.8,1145.5 1564.1,1157.6 1564.5,1156.0 1564.8,1156.6 1565.2,1152.3 1565.5,1152.7 1565.9,1154.3 1566.2,1154.3 1566.6,1153.0 1566.9,1149.2 1567.3,1147.8 1567.6,1153.6 1568.0,1152.5 1568.3,1158.5 1568.7,1149.3 1569.0,1146.0 1569.4,1146.2 1569.7,1153.5 1570.1,1160.0 1570.4,1152.6 1570.8,1151.3 1571.1,1155.5 1571.5,1159.9 1571.8,1158.3 1572.2,1157.6 1572.5,1157.8 1572.9,1153.4 1573.2,1154.8 1573.6,1156.1 1573.9,1161.3 1574.3,1146.5 1574.6,1152.7 1575.0,1156.1 1575.3,1153.9 1575.7,1154.4 1576.0,1153.9 1576.4,1151.4 1576.7,1156.9 1577.1,1159.9 1577.4,1153.8 1577.8,1156.8 1578.1,1159.3 1578.5,1152.8 1578.8,1155.0 1579.2,1150.5 1579.5,1161.3 1579.9,1161.8 1580.2,1154.8 1580.6,1163.0 1580.9,1158.8 1581.3,1148.9 1581.6,1157.5 1582.0,1156.7 1582.3,1157.7 1582.7,1158.4 1583.0,1154.3 1583.4,1160.2 1583.7,1157.2 1584.1,1163.1 1584.4,1155.7 1584.8,1146.9 1585.1,1163.3 1585.5,1158.4 1585.8,1149.6 1586.2,1154.2 1586.5,1153.5 1586.9,1160.0 1587.2,1154.2 1587.6,1160.9 1587.9,1154.8 1588.3,1160.3 1588.6,1154.5 1589.0,1152.4 1589.3,1159.1 1589.7,1156.1 1590.0,1158.9 1590.4,1150.9 1590.7,1153.3 1591.1,1155.9 1591.4,1164.5 1591.8,1158.7 1592.1,1151.1 1592.5,1146.3 1592.8,1164.2 1593.2,1158.7 1593.5,1152.8 1593.9,1161.2 1594.2,1160.7 1594.6,1165.6 1594.9,1158.4 1595.3,1155.9 1595.6,1160.8 1596.0,1152.9 1596.3,1156.3 1596.7,1154.3 1597.0,1155.9 1597.4,1153.3 1597.7,1152.8 1598.1,1154.1 1598.4,1159.7 1598.8,1158.4 1599.1,1158.0 1599.5,1160.1 1599.8,1161.2 1600.2,1160.2 1600.5,1166.2 1600.9,1159.6 1601.2,1160.0 1601.6,1156.9 1601.9,1162.7 1602.3,1164.1 1602.6,1147.9 1603.0,1161.9 1603.3,1154.9 1603.7,1160.3 1604.0,1159.4 1604.4,1154.5 1604.7,1154.2 1605.1,1158.3 1605.4,1168.9 1605.8,1154.8 1606.1,1157.9 1606.5,1158.4 1606.8,1158.5 1607.2,1163.6 1607.5,1167.1 1607.9,1159.5 1608.2,1161.2 1608.6,1158.5 1608.9,1165.5 1609.3,1159.6 1609.6,1162.4 1610.0,1159.2 1610.3,1164.1 1610.7,1159.8 1611.0,1157.0 1611.4,1167.1 1611.7,1153.1 1612.1,1160.9 1612.4,1159.0 1612.8,1157.0 1613.1,1168.0 1613.5,1161.7 1613.8,1159.0 1614.2,1157.3 1614.5,1161.8 1614.9,1160.6 1615.2,1159.8 1615.6,1158.3 1615.9,1166.4 1616.3,1161.7 1616.6,1160.2 1617.0,1156.4 1617.3,1158.2 1617.7,1163.7 1618.0,1158.4 1618.4,1163.6 1618.7,1160.8 1619.1,1162.7 1619.4,1162.6 1619.8,1159.8 1620.1,1160.5 1620.5,1161.2 1620.8,1163.9 1621.2,1170.4 1621.5,1164.8 1621.9,1156.9 1622.2,1169.9 1622.6,1161.4 1622.9,1159.3 1623.3,1162.4 1623.6,1161.8 1624.0,1163.0 1624.3,1162.0 1624.7,1162.0 1625.0,1166.8 1625.4,1168.4 1625.7,1162.7 1626.1,1168.1 1626.4,1165.8 1626.8,1166.8 1627.1,1163.5 1627.5,1163.3 1627.8,1165.5 1628.2,1159.2 1628.5,1162.9 1628.9,1158.7 1629.2,1166.1 1629.6,1163.7 1629.9,1165.1 1630.3,1161.8 1630.6,1160.2 1631.0,1166.6 1631.3,1161.6 1631.7,1162.4 1632.0,1163.4 1632.4,1165.0 1632.7,1163.6 1633.1,1159.6 1633.4,1159.7 1633.8,1167.2 1634.1,1162.4 1634.5,1162.8 1634.8,1160.5 1635.2,1167.1 1635.5,1165.5 1635.9,1161.9 1636.2,1157.6 1636.6,1170.5 1636.9,1162.0 1637.3,1159.8 1637.6,1162.3 1638.0,1160.0 1638.3,1164.2 1638.7,1162.3 1639.0,1160.0 1639.4,1166.8 1639.7,1161.3 1640.1,1157.8 1640.4,1165.8 1640.8,1162.6 1641.1,1160.7 1641.5,1158.7 1641.8,1162.2 1642.2,1162.6 1642.5,1163.1 1642.9,1163.1 1643.2,1169.5 1643.6,1168.8 1643.9,1166.2 1644.3,1167.1 1644.6,1163.5 1645.0,1159.9 1645.3,1167.2 1645.7,1170.3 1646.0,1162.8 1646.4,1162.9 1646.7,1162.9 1647.1,1160.7 1647.4,1167.6 1647.8,1161.7 1648.1,1170.6 1648.5,1171.7 1648.8,1166.1 1649.2,1165.7 1649.5,1162.8 1649.9,1169.2 1650.2,1166.3 1650.6,1160.7 1650.9,1162.7 1651.3,1167.8 1651.6,1164.4 1652.0,1167.8 1652.3,1167.2 1652.7,1171.5 1653.0,1166.0 1653.4,1170.3 1653.7,1170.5 1654.1,1171.3 1654.4,1165.4 1654.8,1167.7 1655.1,1175.9 1655.5,1166.1 1655.8,1164.6 1656.2,1167.3 1656.5,1162.7 1656.9,1163.9 1657.2,1165.5 1657.6,1166.0 1657.9,1170.7 1658.3,1163.2 1658.6,1166.6 1659.0,1168.2 1659.3,1166.3 1659.7,1170.0 1660.0,1175.5 1660.4,1163.6 1660.7,1164.4 1661.1,1165.7 1661.4,1165.7 1661.8,1165.7 1662.1,1169.3 1662.5,1174.1 1662.8,1176.7 1663.2,1167.6 1663.5,1160.6 1663.9,1173.6 1664.2,1168.1 1664.6,1166.7 1664.9,1172.2 1665.3,1167.9 1665.6,1167.6 1666.0,1165.4 1666.3,1171.9 1666.7,1171.7 1667.0,1165.7 1667.4,1166.9 1667.7,1173.4 1668.1,1166.5 1668.4,1167.7 1668.8,1166.5 1669.1,1168.5 1669.5,1172.5 1669.8,1169.7 1670.2,1173.1 1670.5,1171.8 1670.9,1162.5 1671.2,1169.8 1671.6,1169.9 1671.9,1164.1 1672.3,1172.9 1672.6,1170.0 1673.0,1168.5 1673.3,1172.2 1673.7,1173.9 1674.0,1173.1 1674.4,1168.8 1674.7,1170.6 1675.1,1179.6 1675.4,1166.3 1675.8,1171.3 1676.1,1171.2 1676.5,1176.5 1676.8,1173.5 1677.2,1172.1 1677.5,1170.4 1677.9,1175.9 1678.2,1171.9 1678.6,1171.4 1678.9,1172.4 1679.3,1174.3 1679.6,1172.1 1680.0,1173.0 1680.3,1175.0 1680.7,1169.7 1681.0,1171.5 1681.4,1172.7 1681.7,1174.9 1682.1,1174.6 1682.4,1171.0 1682.8,1169.1 1683.1,1171.5 1683.5,1171.2 1683.8,1176.2 1684.2,1175.4 1684.5,1173.4 1684.9,1169.5 1685.2,1168.8 1685.6,1173.9 1685.9,1175.7 1686.3,1175.0 1686.6,1172.8 1687.0,1175.8 1687.3,1166.9 1687.7,1178.1 1688.0,1179.4 1688.4,1174.8 1688.7,1175.1 1689.1,1173.6 1689.4,1177.6 1689.8,1171.3 1690.1,1172.6 1690.5,1176.1 1690.8,1169.8 1691.2,1176.6 1691.5,1176.6 1691.9,1175.0 1692.2,1173.4 1692.6,1181.4 1692.9,1173.4 1693.3,1175.9 1693.6,1178.3 1694.0,1175.5 1694.3,1179.3 1694.7,1175.7 1695.0,1176.7 1695.4,1175.9 1695.7,1178.3 1696.1,1173.8 1696.4,1179.3 1696.8,1179.9 1697.1,1172.7 1697.5,1171.2 1697.8,1171.9 1698.2,1173.8 1698.5,1179.1 1698.9,1177.0 1699.2,1183.5 1699.6,1182.5 1699.9,1171.7 1700.3,1175.8 1700.6,1176.2 1701.0,1182.9 1701.3,1180.1 1701.7,1180.7 1702.0,1174.7 1702.4,1184.8 1702.7,1173.9 1703.1,1177.9 1703.4,1174.5 1703.8,1174.9 1704.1,1179.0 1704.5,1175.0 1704.8,1180.6 1705.2,1180.1 1705.5,1178.6 1705.9,1180.7 1706.2,1182.5 1706.6,1182.5 1706.9,1174.8 1707.3,1181.1 1707.6,1182.1 1708.0,1177.7 1708.3,1177.8 1708.7,1183.4 1709.0,1181.6 1709.4,1179.8 1709.7,1184.5 1710.1,1182.8 1710.4,1185.7 1710.8,1178.3 1711.1,1183.2 1711.5,1172.9 1711.8,1177.6 1712.2,1185.8 1712.5,1176.7 1712.9,1179.6 1713.2,1179.0 1713.6,1181.9 1713.9,1184.3 1714.3,1186.0 1714.6,1179.9 1715.0,1181.7 1715.3,1183.6 1715.7,1184.7 1716.0,1179.8 1716.4,1185.5 1716.7,1175.9 1717.1,1181.9 1717.4,1176.2 1717.8,1179.5 1718.1,1178.4 1718.5,1187.4 1718.8,1187.1 1719.2,1184.1 1719.5,1182.0 1719.9,1174.7 1720.2,1175.7 1720.6,1182.3 1720.9,1184.2 1721.3,1183.6 1721.6,1179.3 1722.0,1179.2 1722.3,1183.9 1722.7,1189.9 1723.0,1184.7 1723.4,1182.1 1723.7,1181.9 1724.1,1183.9 1724.4,1183.5 1724.8,1177.5 1725.1,1187.9 1725.5,1184.2 1725.8,1184.6 1726.2,1181.2 1726.5,1186.7 1726.9,1186.4 1727.2,1180.5 1727.6,1186.6 1727.9,1180.7 1728.3,1176.8 1728.6,1186.1 1729.0,1179.9 1729.3,1181.5 1729.7,1180.2 1730.0,1183.3 1730.4,1182.4 1730.7,1184.2 1731.1,1185.4 1731.4,1189.4 1731.8,1185.5 1732.1,1185.7 1732.5,1185.7 1732.8,1186.9 1733.2,1187.3 1733.5,1185.2 1733.9,1180.3 1734.2,1181.1 1734.6,1185.4 1734.9,1183.4 1735.3,1183.2 1735.6,1182.9 1736.0,1182.3 1736.3,1188.5 1736.7,1187.5 1737.0,1180.6 1737.4,1185.7 1737.7,1185.0 1738.1,1183.6 1738.4,1188.8 1738.8,1186.4 1739.1,1185.6 1739.5,1182.5 1739.8,1188.8 1740.2,1186.4 1740.5,1186.6 1740.9,1183.3 1741.2,1190.9 1741.6,1175.6 1741.9,1181.2 1742.3,1180.3 1742.6,1181.6 1743.0,1182.6 1743.3,1184.5 1743.7,1185.1 1744.0,1187.0 1744.4,1191.0 1744.7,1188.4 1745.1,1187.0 1745.4,1186.1 1745.8,1188.0 1746.1,1189.5 1746.5,1184.3 1746.8,1192.9 1747.2,1186.9 1747.5,1190.0 1747.9,1178.7 1748.2,1187.8 1748.6,1185.9 1748.9,1192.0 1749.3,1190.8 1749.6,1188.5 1750.0,1189.7 1750.3,1186.5 1750.7,1184.6 1751.0,1191.6 1751.4,1183.7 1751.7,1186.1 1752.1,1184.0 1752.4,1184.8 1752.8,1186.7 1753.1,1191.0 1753.5,1184.9 1753.8,1190.8 1754.2,1182.0 1754.5,1185.6 1754.9,1185.6 1755.2,1190.8 1755.6,1193.1 1755.9,1180.8 1756.3,1189.0 1756.6,1194.3 1757.0,1188.9 1757.3,1194.4 1757.7,1192.8 1758.0,1189.9 1758.4,1184.2 1758.7,1186.7 1759.1,1194.3 1759.4,1186.0 1759.8,1185.4 1760.1,1187.6 1760.5,1193.5 1760.8,1189.6 1761.2,1184.1 1761.5,1187.1 1761.9,1191.6 1762.2,1193.2 1762.6,1194.5 1762.9,1191.1 1763.3,1191.0 1763.6,1186.2 1764.0,1187.6 1764.3,1184.9 1764.7,1189.1 1765.0,1191.0 1765.4,1189.8 1765.7,1186.5 1766.1,1191.7 1766.4,1192.9 1766.8,1194.0 1767.1,1182.5 1767.5,1181.7 1767.8,1186.2 1768.2,1191.8 1768.5,1193.5 1768.9,1192.5 1769.2,1190.2 1769.6,1190.9 1769.9,1189.3 1770.3,1187.9 1770.6,1186.8 1771.0,1200.4 1771.3,1189.4 1771.7,1192.2 1772.0,1192.2 1772.4,1193.4 1772.7,1190.2 1773.1,1193.6 1773.4,1197.2 1773.8,1188.3 1774.1,1188.6 1774.5,1187.2 1774.8,1189.4 1775.2,1186.5 1775.5,1191.8 1775.9,1193.0 1776.2,1194.8 1776.6,1195.1 1776.9,1189.5 1777.3,1191.5 1777.6,1188.2 1778.0,1191.1 1778.3,1191.3 1778.7,1192.7 1779.0,1190.8 1779.4,1187.5 1779.7,1194.5 1780.1,1190.7 1780.4,1186.5 1780.8,1185.4 1781.1,1193.5 1781.5,1185.3 1781.8,1193.6 1782.2,1196.4 1782.5,1193.2 1782.9,1194.1 1783.2,1193.4 1783.6,1189.5 1783.9,1192.3 1784.3,1185.3 1784.6,1193.7 1785.0,1193.8 1785.3,1192.2 1785.7,1195.3 1786.0,1191.2 1786.4,1186.0 1786.7,1196.5 1787.1,1192.2 1787.4,1189.8 1787.8,1190.2 1788.1,1190.7 1788.5,1192.7 1788.8,1187.8 1789.2,1192.4 1789.5,1190.9 1789.9,1194.3 1790.2,1191.1 1790.6,1194.3 1790.9,1189.3 1791.3,1193.4 1791.6,1191.3 1792.0,1195.9 1792.3,1193.6 1792.7,1195.8 1793.0,1190.8 1793.4,1190.4 1793.7,1192.4 1794.1,1189.1 1794.4,1191.7 1794.8,1196.8 1795.1,1189.0 1795.5,1190.8 1795.8,1193.0 1796.2,1198.2 1796.5,1199.9 1796.9,1191.0 1797.2,1191.3 1797.6,1193.8 1797.9,1190.7 1798.3,1186.3 1798.6,1194.9 1799.0,1194.3 1799.3,1194.0 1799.7,1194.9 1800.0,1193.7 1800.4,1191.1 1800.7,1195.3 1801.1,1193.1 1801.4,1193.8 1801.8,1189.7 1802.1,1193.6 1802.5,1193.2 1802.8,1190.6 1803.2,1190.9 1803.5,1192.1 1803.9,1193.5 1804.2,1191.5 1804.6,1189.9 1804.9,1193.9 1805.3,1189.6 1805.6,1194.8 1806.0,1190.9 1806.3,1193.1 1806.7,1197.5 1807.0,1186.4 1807.4,1189.4 1807.7,1192.2 1808.1,1193.4 1808.4,1191.1 1808.8,1190.9 1809.1,1192.0 1809.5,1190.7 1809.8,1194.4 1810.2,1191.8 1810.5,1193.6 1810.9,1194.3 1811.2,1196.5 1811.6,1192.2 1811.9,1192.9 1812.3,1195.7 1812.6,1187.2 1813.0,1194.6 1813.3,1191.5 1813.7,1197.4 1814.0,1193.4 1814.4,1191.7 1814.7,1198.0 1815.1,1192.8 1815.4,1191.8 1815.8,1196.2 1816.1,1188.3 1816.5,1194.2 1816.8,1197.1 1817.2,1190.7 1817.5,1198.0 1817.9,1193.9 1818.2,1193.1 1818.6,1189.5 1818.9,1199.7 1819.3,1199.5 1819.6,1193.9 1820.0,1196.3 1820.3,1188.9 1820.7,1195.4 1821.0,1196.4 1821.4,1192.7 1821.7,1193.2 1822.1,1194.6 1822.4,1192.7 1822.8,1189.8 1823.1,1197.9 1823.5,1198.3 1823.8,1197.4 1824.2,1197.9 1824.5,1199.0 1824.9,1194.5 1825.2,1185.8 1825.6,1195.7 1825.9,1193.9 1826.3,1191.9 1826.6,1197.4 1827.0,1192.5 1827.3,1191.9 1827.7,1203.7 1828.0,1194.6 1828.4,1196.5 1828.7,1197.9 1829.1,1198.0 1829.4,1195.7 1829.8,1197.8 1830.1,1195.8 1830.5,1194.7 1830.8,1195.3 1831.2,1198.2 1831.5,1198.5 1831.9,1197.7 1832.2,1191.4 1832.6,1195.6 1832.9,1198.1 1833.3,1195.1 1833.6,1198.1 1834.0,1196.9 1834.3,1200.4 1834.7,1189.1 1835.0,1197.2 1835.4,1200.1 1835.7,1198.9 1836.1,1195.0 1836.4,1196.0 1836.8,1195.6 1837.1,1198.2 1837.5,1199.3 1837.8,1195.0 1838.2,1200.4 1838.5,1198.5 1838.9,1190.2 1839.2,1195.8 1839.6,1196.6 1839.9,1194.9 1840.3,1197.4 1840.6,1197.0 1841.0,1196.9 1841.3,1196.3 1841.7,1198.2 1842.0,1195.4 1842.4,1199.1 1842.7,1191.6 1843.1,1197.6 1843.4,1195.9 1843.8,1196.2 1844.1,1198.5 1844.5,1195.5 1844.8,1187.6 1845.2,1192.9 1845.5,1197.0 1845.9,1196.8 1846.2,1196.1 1846.6,1195.7 1846.9,1200.0 1847.3,1197.9 1847.6,1194.5 1848.0,1195.1 1848.3,1201.0 1848.7,1198.3 1849.0,1199.2 1849.4,1198.1 1849.7,1198.8 1850.1,1196.4 1850.4,1195.0 1850.8,1195.0 1851.1,1195.4 1851.5,1204.0 1851.8,1200.3 1852.2,1198.5 1852.5,1198.0 1852.9,1193.1 1853.2,1200.9 1853.6,1192.8 1853.9,1201.8 1854.3,1196.9 1854.6,1194.0 1855.0,1203.4 1855.3,1195.4 1855.7,1197.8 1856.0,1198.2 1856.4,1193.9 1856.7,1200.2 1857.1,1194.5 1857.4,1198.2 1857.8,1195.2 1858.1,1204.1 1858.5,1199.1 1858.8,1203.7 1859.2,1197.3 1859.5,1199.8 1859.9,1200.8 1860.2,1199.4 1860.6,1198.3 1860.9,1202.8 1861.3,1200.5 1861.6,1199.5 1862.0,1202.0 1862.3,1190.5 1862.7,1196.0 1863.0,1201.0 1863.4,1198.3 1863.7,1198.6 1864.1,1194.7 1864.4,1198.4 1864.8,1204.1 1865.1,1198.0 1865.5,1196.4 1865.8,1198.8 1866.2,1203.2 1866.5,1197.7 1866.9,1194.5 1867.2,1200.6 1867.6,1198.7 1867.9,1200.4 1868.3,1194.4 1868.6,1196.4 1869.0,1199.0 1869.3,1201.1 1869.7,1205.7 1870.0,1204.6 1870.4,1203.8 1870.7,1203.3 1871.1,1203.6 1871.4,1202.3 1871.8,1202.3 1872.1,1199.0 1872.5,1198.7 1872.8,1204.6 1873.2,1196.6 1873.5,1198.5 1873.9,1199.7 1874.2,1201.0 1874.6,1198.3 1874.9,1199.0 1875.3,1198.0 1875.6,1198.1 1876.0,1199.3 1876.3,1210.5 1876.7,1196.8 1877.0,1208.5 1877.4,1196.6 1877.7,1201.3 1878.1,1200.5 1878.4,1202.8 1878.8,1199.8 1879.1,1197.3 1879.5,1199.0 1879.8,1199.8 1880.2,1196.1 1880.5,1200.6 1880.9,1201.2 1881.2,1196.1 1881.6,1196.7 1881.9,1203.6 1882.3,1198.0 1882.6,1198.9 1883.0,1199.2 1883.3,1199.0 1883.7,1202.8 1884.0,1201.9 1884.4,1208.0 1884.7,1200.0 1885.1,1202.4 1885.4,1199.0 1885.8,1204.4 1886.1,1196.4 1886.5,1198.6 1886.8,1200.6 1887.2,1210.4" fill="none" stroke="#E4881E" stroke-width="1.05" stroke-linejoin="round" stroke-linecap="round" />
<polyline points="1086.6,1244.5 1086.9,1231.9 1087.3,1237.6 1087.6,1237.4 1088.0,1241.4 1088.3,1232.3 1088.7,1237.7 1089.0,1237.1 1089.4,1236.6 1089.7,1238.6 1090.1,1240.9 1090.4,1242.9 1090.8,1241.1 1091.1,1247.8 1091.5,1244.5 1091.8,1234.7 1092.2,1253.9 1092.5,1247.9 1092.9,1247.3 1093.2,1252.7 1093.6,1253.4 1093.9,1253.6 1094.3,1250.4 1094.6,1255.4 1095.0,1248.4 1095.3,1261.8 1095.7,1250.6 1096.0,1255.6 1096.4,1257.0 1096.7,1258.4 1097.1,1256.9 1097.4,1260.4 1097.8,1246.0 1098.1,1258.3 1098.5,1258.6 1098.8,1257.9 1099.2,1266.7 1099.5,1256.5 1099.9,1260.8 1100.2,1252.9 1100.6,1263.2 1100.9,1255.6 1101.3,1256.3 1101.6,1273.5 1102.0,1266.9 1102.3,1264.4 1102.7,1265.6 1103.0,1259.2 1103.4,1261.4 1103.7,1268.1 1104.1,1257.8 1104.4,1268.4 1104.8,1260.4 1105.1,1268.7 1105.5,1264.0 1105.8,1276.6 1106.2,1273.9 1106.5,1267.9 1106.9,1262.6 1107.2,1267.7 1107.6,1271.3 1107.9,1267.8 1108.3,1273.5 1108.6,1276.7 1109.0,1272.6 1109.3,1271.2 1109.7,1276.6 1110.0,1272.3 1110.4,1277.4 1110.7,1272.8 1111.1,1281.2 1111.4,1273.5 1111.8,1270.5 1112.1,1275.6 1112.5,1272.8 1112.8,1271.8 1113.2,1275.4 1113.5,1279.4 1113.9,1267.4 1114.2,1276.6 1114.6,1276.4 1114.9,1276.7 1115.3,1280.9 1115.6,1272.4 1116.0,1280.8 1116.3,1277.4 1116.7,1279.1 1117.0,1278.0 1117.4,1277.8 1117.7,1277.2 1118.1,1281.4 1118.4,1288.7 1118.8,1284.6 1119.1,1284.0 1119.5,1283.1 1119.8,1279.1 1120.2,1283.8 1120.5,1290.1 1120.9,1276.6 1121.2,1285.5 1121.6,1286.6 1121.9,1283.8 1122.3,1286.2 1122.6,1288.9 1123.0,1292.6 1123.3,1289.1 1123.7,1290.8 1124.0,1285.7 1124.4,1288.0 1124.7,1285.6 1125.1,1286.3 1125.4,1283.5 1125.8,1288.5 1126.1,1291.9 1126.5,1285.5 1126.8,1287.4 1127.2,1289.0 1127.5,1286.7 1127.9,1290.6 1128.2,1287.9 1128.6,1282.3 1128.9,1283.0 1129.3,1290.3 1129.6,1290.0 1130.0,1292.1 1130.3,1288.7 1130.7,1288.7 1131.0,1281.6 1131.4,1293.8 1131.7,1284.5 1132.1,1292.6 1132.4,1283.9 1132.8,1286.0 1133.1,1289.4 1133.5,1287.2 1133.8,1286.2 1134.2,1292.8 1134.5,1292.1 1134.9,1291.1 1135.2,1288.2 1135.6,1286.4 1135.9,1287.9 1136.3,1287.9 1136.6,1290.0 1137.0,1293.4 1137.3,1289.7 1137.7,1287.4 1138.0,1288.2 1138.4,1296.0 1138.7,1291.6 1139.1,1292.0 1139.4,1292.3 1139.8,1293.7 1140.1,1292.1 1140.5,1296.3 1140.8,1295.0 1141.2,1280.6 1141.5,1291.5 1141.9,1304.0 1142.2,1287.2 1142.6,1292.9 1142.9,1296.9 1143.3,1292.7 1143.6,1298.2 1144.0,1287.9 1144.3,1288.1 1144.7,1292.5 1145.0,1290.4 1145.4,1289.1 1145.7,1295.7 1146.1,1294.6 1146.4,1293.6 1146.8,1292.0 1147.1,1294.7 1147.5,1293.2 1147.8,1290.8 1148.2,1295.8 1148.5,1295.3 1148.9,1294.2 1149.2,1296.7 1149.6,1289.6 1149.9,1293.5 1150.3,1292.0 1150.6,1299.4 1151.0,1296.2 1151.3,1302.6 1151.7,1300.5 1152.0,1292.9 1152.4,1290.0 1152.7,1296.4 1153.1,1293.4 1153.4,1293.9 1153.8,1290.4 1154.1,1297.0 1154.5,1295.4 1154.8,1296.3 1155.2,1296.0 1155.5,1291.3 1155.9,1286.0 1156.2,1293.9 1156.6,1292.5 1156.9,1292.9 1157.3,1298.9 1157.6,1294.7 1158.0,1301.2 1158.3,1296.0 1158.7,1298.0 1159.0,1297.3 1159.4,1298.6 1159.7,1290.5 1160.1,1299.8 1160.4,1296.0 1160.8,1291.7 1161.1,1298.0 1161.5,1296.8 1161.8,1300.5 1162.2,1298.2 1162.5,1296.7 1162.9,1288.7 1163.2,1301.7 1163.6,1300.9 1163.9,1298.0 1164.3,1296.7 1164.6,1299.6 1165.0,1291.3 1165.3,1297.4 1165.7,1294.6 1166.0,1290.5 1166.4,1295.8 1166.7,1295.7 1167.1,1301.0 1167.4,1297.9 1167.8,1287.7 1168.1,1286.2 1168.5,1293.6 1168.8,1293.0 1169.2,1290.0 1169.5,1287.9 1169.9,1292.8 1170.2,1288.9 1170.6,1290.7 1170.9,1296.8 1171.3,1294.2 1171.6,1290.2 1172.0,1288.7 1172.3,1292.3 1172.7,1299.9 1173.0,1290.9 1173.4,1299.7 1173.7,1289.6 1174.1,1291.8 1174.4,1295.4 1174.8,1289.4 1175.1,1292.7 1175.5,1287.0 1175.8,1294.9 1176.2,1296.8 1176.5,1289.5 1176.9,1292.8 1177.2,1290.3 1177.6,1283.3 1177.9,1302.7 1178.3,1294.2 1178.6,1294.9 1179.0,1293.1 1179.3,1292.2 1179.7,1300.9 1180.0,1284.1 1180.4,1290.0 1180.7,1289.5 1181.1,1290.3 1181.4,1293.8 1181.8,1288.1 1182.1,1285.7 1182.5,1286.5 1182.8,1292.8 1183.2,1294.8 1183.5,1294.2 1183.9,1297.4 1184.2,1288.9 1184.6,1295.0 1184.9,1293.7 1185.3,1290.3 1185.6,1288.0 1186.0,1294.5 1186.3,1288.3 1186.7,1289.8 1187.0,1287.1 1187.4,1298.0 1187.7,1290.8 1188.1,1289.0 1188.4,1290.0 1188.8,1290.1 1189.1,1291.4 1189.5,1284.2 1189.8,1286.4 1190.2,1293.0 1190.5,1295.3 1190.9,1287.0 1191.2,1291.4 1191.6,1288.7 1191.9,1281.9 1192.3,1289.8 1192.6,1286.7 1193.0,1294.5 1193.3,1290.2 1193.7,1290.8 1194.0,1285.2 1194.4,1291.6 1194.7,1283.2 1195.1,1291.9 1195.4,1296.5 1195.8,1286.2 1196.1,1294.4 1196.5,1296.6 1196.8,1290.2 1197.2,1295.4 1197.5,1291.3 1197.9,1289.0 1198.2,1283.0 1198.6,1286.7 1198.9,1285.1 1199.3,1300.5 1199.6,1292.0 1200.0,1290.3 1200.3,1285.6 1200.7,1297.9 1201.0,1286.4 1201.4,1296.9 1201.7,1295.3 1202.1,1291.3 1202.4,1288.4 1202.8,1290.8 1203.1,1285.7 1203.5,1293.6 1203.8,1297.7 1204.2,1294.6 1204.5,1295.2 1204.9,1288.2 1205.2,1292.2 1205.6,1286.9 1205.9,1289.2 1206.3,1293.9 1206.6,1301.0 1207.0,1291.3 1207.3,1291.1 1207.7,1283.4 1208.0,1291.7 1208.4,1287.4 1208.7,1285.4 1209.1,1285.0 1209.4,1291.6 1209.8,1289.4 1210.1,1293.7 1210.5,1290.1 1210.8,1291.0 1211.2,1296.9 1211.5,1294.2 1211.9,1294.1 1212.2,1296.9 1212.6,1291.9 1212.9,1287.0 1213.3,1287.8 1213.6,1284.7 1214.0,1292.4 1214.3,1289.4 1214.7,1293.0 1215.0,1294.3 1215.4,1287.7 1215.7,1291.7 1216.1,1296.1 1216.4,1291.3 1216.8,1294.7 1217.1,1290.2 1217.5,1287.2 1217.8,1290.1 1218.2,1283.4 1218.5,1293.8 1218.9,1288.8 1219.2,1296.2 1219.6,1285.7 1219.9,1291.1 1220.3,1291.9 1220.6,1289.6 1221.0,1291.9 1221.3,1287.2 1221.7,1285.8 1222.0,1284.4 1222.4,1287.7 1222.7,1286.6 1223.1,1290.8 1223.4,1288.2 1223.8,1287.0 1224.1,1286.6 1224.5,1281.8 1224.8,1287.9 1225.2,1290.9 1225.5,1283.8 1225.9,1288.1 1226.2,1291.7 1226.6,1286.1 1226.9,1289.6 1227.3,1287.0 1227.6,1298.6 1228.0,1294.2 1228.3,1293.3 1228.7,1285.6 1229.0,1290.9 1229.4,1287.6 1229.7,1289.6 1230.1,1285.7 1230.4,1288.6 1230.8,1284.8 1231.1,1289.0 1231.5,1294.9 1231.8,1282.0 1232.2,1282.2 1232.5,1289.5 1232.9,1290.6 1233.2,1285.7 1233.6,1289.6 1233.9,1288.8 1234.3,1289.2 1234.6,1292.5 1235.0,1284.2 1235.3,1289.4 1235.7,1287.5 1236.0,1283.7 1236.4,1288.5 1236.7,1281.0 1237.1,1280.1 1237.4,1290.4 1237.8,1281.3 1238.1,1292.6 1238.5,1289.8 1238.8,1283.2 1239.2,1281.5 1239.5,1275.8 1239.9,1284.5 1240.2,1277.9 1240.6,1290.9 1240.9,1277.3 1241.3,1284.4 1241.6,1272.7 1242.0,1282.3 1242.3,1289.0 1242.7,1281.5 1243.0,1279.8 1243.4,1281.1 1243.7,1284.4 1244.1,1286.4 1244.4,1281.5 1244.8,1273.8 1245.1,1283.4 1245.5,1286.0 1245.8,1291.4 1246.2,1282.3 1246.5,1282.2 1246.9,1279.0 1247.2,1284.2 1247.6,1288.3 1247.9,1276.6 1248.3,1280.9 1248.6,1276.1 1249.0,1277.4 1249.3,1279.3 1249.7,1281.9 1250.0,1276.2 1250.4,1278.3 1250.7,1285.1 1251.1,1281.3 1251.4,1281.9 1251.8,1280.5 1252.1,1277.9 1252.5,1280.2 1252.8,1280.5 1253.2,1278.1 1253.5,1282.3 1253.9,1277.8 1254.2,1281.4 1254.6,1277.5 1254.9,1280.3 1255.3,1274.2 1255.6,1274.5 1256.0,1271.7 1256.3,1281.5 1256.7,1278.3 1257.0,1276.9 1257.4,1278.4 1257.7,1272.0 1258.1,1275.7 1258.4,1272.9 1258.8,1267.0 1259.1,1273.5 1259.5,1270.7 1259.8,1280.3 1260.2,1270.8 1260.5,1271.1 1260.9,1277.7 1261.2,1273.3 1261.6,1267.4 1261.9,1273.9 1262.3,1269.5 1262.6,1279.7 1263.0,1267.7 1263.3,1268.9 1263.7,1260.1 1264.0,1268.7 1264.4,1279.4 1264.7,1270.6 1265.1,1266.8 1265.4,1271.9 1265.8,1269.2 1266.1,1270.1 1266.5,1280.7 1266.8,1278.5 1267.2,1276.5 1267.5,1276.5 1267.9,1265.2 1268.2,1260.6 1268.6,1271.9 1268.9,1270.2 1269.3,1268.5 1269.6,1267.6 1270.0,1271.0 1270.3,1270.1 1270.7,1268.6 1271.0,1269.3 1271.4,1266.1 1271.7,1265.2 1272.1,1272.6 1272.4,1265.3 1272.8,1274.7 1273.1,1268.7 1273.5,1266.0 1273.8,1270.3 1274.2,1263.0 1274.5,1264.1 1274.9,1263.2 1275.2,1264.4 1275.6,1267.1 1275.9,1272.9 1276.3,1265.9 1276.6,1258.7 1277.0,1259.5 1277.3,1255.0 1277.7,1265.7 1278.0,1266.1 1278.4,1263.5 1278.7,1263.4 1279.1,1263.8 1279.4,1263.1 1279.8,1263.8 1280.1,1261.7 1280.5,1256.2 1280.8,1264.3 1281.2,1265.8 1281.5,1252.5 1281.9,1258.4 1282.2,1254.2 1282.6,1261.1 1282.9,1257.4 1283.3,1264.6 1283.6,1263.0 1284.0,1255.8 1284.3,1255.5 1284.7,1254.8 1285.0,1259.6 1285.4,1252.7 1285.7,1258.5 1286.1,1250.1 1286.4,1260.7 1286.8,1257.9 1287.1,1250.4 1287.5,1251.8 1287.8,1255.6 1288.2,1256.0 1288.5,1241.8 1288.9,1255.1 1289.2,1260.7 1289.6,1251.7 1289.9,1247.4 1290.3,1258.6 1290.6,1254.0 1291.0,1253.5 1291.3,1255.1 1291.7,1246.7 1292.0,1248.9 1292.4,1246.6 1292.7,1246.4 1293.1,1249.8 1293.4,1246.3 1293.8,1258.0 1294.1,1252.8 1294.5,1254.0 1294.8,1242.7 1295.2,1248.9 1295.5,1249.0 1295.9,1250.2 1296.2,1251.3 1296.6,1245.5 1296.9,1244.7 1297.3,1252.9 1297.6,1258.5 1298.0,1257.5 1298.3,1246.7 1298.7,1244.2 1299.0,1248.4 1299.4,1249.4 1299.7,1255.0 1300.1,1245.8 1300.4,1243.3 1300.8,1251.1 1301.1,1242.9 1301.5,1242.1 1301.8,1248.2 1302.2,1244.7 1302.5,1240.6 1302.9,1243.9 1303.2,1243.0 1303.6,1243.7 1303.9,1241.1 1304.3,1246.8 1304.6,1242.4 1305.0,1241.1 1305.3,1248.4 1305.7,1239.2 1306.0,1246.5 1306.4,1245.6 1306.7,1241.4 1307.1,1243.4 1307.4,1235.5 1307.8,1243.2 1308.1,1237.1 1308.5,1237.7 1308.8,1242.6 1309.2,1237.8 1309.5,1241.5 1309.9,1242.6 1310.2,1245.2 1310.6,1242.0 1310.9,1244.6 1311.3,1236.2 1311.6,1237.6 1312.0,1241.9 1312.3,1244.0 1312.7,1240.4 1313.0,1235.7 1313.4,1232.9 1313.7,1233.1 1314.1,1242.3 1314.4,1232.4 1314.8,1235.5 1315.1,1239.1 1315.5,1237.9 1315.8,1232.4 1316.2,1244.4 1316.5,1235.8 1316.9,1236.0 1317.2,1238.1 1317.6,1232.7 1317.9,1237.0 1318.3,1232.8 1318.6,1229.1 1319.0,1228.5 1319.3,1234.3 1319.7,1232.7 1320.0,1231.2 1320.4,1229.6 1320.7,1230.2 1321.1,1234.7 1321.4,1235.8 1321.8,1229.3 1322.1,1231.3 1322.5,1221.3 1322.8,1224.2 1323.2,1226.0 1323.5,1224.7 1323.9,1231.8 1324.2,1218.7 1324.6,1230.2 1324.9,1230.8 1325.3,1237.5 1325.6,1224.8 1326.0,1228.8 1326.3,1233.3 1326.7,1230.5 1327.0,1221.5 1327.4,1223.9 1327.7,1219.9 1328.1,1225.2 1328.4,1227.8 1328.8,1230.6 1329.1,1226.5 1329.5,1227.7 1329.8,1228.1 1330.2,1219.1 1330.5,1225.7 1330.9,1226.7 1331.2,1221.0 1331.6,1217.0 1331.9,1221.9 1332.3,1221.5 1332.6,1223.7 1333.0,1211.7 1333.3,1218.0 1333.7,1228.8 1334.0,1225.1 1334.4,1218.0 1334.7,1217.0 1335.1,1216.7 1335.4,1213.1 1335.8,1215.2 1336.1,1216.8 1336.5,1211.0 1336.8,1215.9 1337.2,1217.1 1337.5,1209.5 1337.9,1213.1 1338.2,1207.5 1338.6,1214.7 1338.9,1215.2 1339.3,1211.4 1339.6,1213.8 1340.0,1215.7 1340.3,1216.0 1340.7,1206.1 1341.0,1210.5 1341.4,1204.9 1341.7,1202.4 1342.1,1215.8 1342.4,1214.3 1342.8,1216.3 1343.1,1213.6 1343.5,1207.2 1343.8,1210.2 1344.2,1206.3 1344.5,1215.0 1344.9,1197.0 1345.2,1210.0 1345.6,1205.2 1345.9,1211.1 1346.3,1213.2 1346.6,1204.2 1347.0,1213.5 1347.3,1212.0 1347.7,1199.1 1348.0,1215.2 1348.4,1200.6 1348.7,1199.6 1349.1,1210.3 1349.4,1202.2 1349.8,1206.5 1350.1,1205.0 1350.5,1200.2 1350.8,1212.5 1351.2,1211.8 1351.5,1204.8 1351.9,1211.8 1352.2,1204.0 1352.6,1205.1 1352.9,1202.2 1353.3,1197.1 1353.6,1201.6 1354.0,1198.5 1354.3,1204.8 1354.7,1203.4 1355.0,1199.7 1355.4,1208.4 1355.7,1203.8 1356.1,1210.6 1356.4,1199.8 1356.8,1199.6 1357.1,1197.7 1357.5,1202.2 1357.8,1200.1 1358.2,1200.8 1358.5,1208.9 1358.9,1204.1 1359.2,1197.0 1359.6,1201.8 1359.9,1198.4 1360.3,1198.0 1360.6,1198.2 1361.0,1199.4 1361.3,1202.1 1361.7,1203.9 1362.0,1199.1 1362.4,1194.9 1362.7,1198.8 1363.1,1197.8 1363.4,1197.4 1363.8,1192.7 1364.1,1197.9 1364.5,1189.7 1364.8,1204.6 1365.2,1201.9 1365.5,1202.0 1365.9,1193.8 1366.2,1199.4 1366.6,1204.4 1366.9,1197.1 1367.3,1192.9 1367.6,1197.4 1368.0,1187.0 1368.3,1202.4 1368.7,1199.9 1369.0,1191.1 1369.4,1201.1 1369.7,1203.2 1370.1,1200.7 1370.4,1200.7 1370.8,1204.9 1371.1,1198.5 1371.5,1204.2 1371.8,1196.3 1372.2,1193.9 1372.5,1195.6 1372.9,1192.0 1373.2,1199.0 1373.6,1193.6 1373.9,1198.7 1374.3,1198.4 1374.6,1204.7 1375.0,1205.5 1375.3,1194.4 1375.7,1196.4 1376.0,1196.5 1376.4,1194.5 1376.7,1206.4 1377.1,1203.8 1377.4,1196.9 1377.8,1191.4 1378.1,1195.1 1378.5,1198.5 1378.8,1206.1 1379.2,1192.4 1379.5,1205.8 1379.9,1192.0 1380.2,1200.7 1380.6,1193.6 1380.9,1197.3 1381.3,1187.9 1381.6,1202.5 1382.0,1199.9 1382.3,1194.9 1382.7,1189.8 1383.0,1199.8 1383.4,1200.2 1383.7,1193.5 1384.1,1202.9 1384.4,1200.1 1384.8,1195.4 1385.1,1197.1 1385.5,1189.3 1385.8,1204.8 1386.2,1206.2 1386.5,1200.9 1386.9,1196.1 1387.2,1197.1 1387.6,1201.4 1387.9,1199.0 1388.3,1204.9 1388.6,1199.7 1389.0,1208.6 1389.3,1210.3 1389.7,1202.1 1390.0,1201.4 1390.4,1191.6 1390.7,1206.2 1391.1,1208.1 1391.4,1202.2 1391.8,1212.3 1392.1,1204.2 1392.5,1202.1 1392.8,1212.0 1393.2,1210.6 1393.5,1199.0 1393.9,1205.8 1394.2,1203.4 1394.6,1208.8 1394.9,1211.0 1395.3,1208.4 1395.6,1211.6 1396.0,1215.5 1396.3,1210.1 1396.7,1206.0 1397.0,1207.7 1397.4,1216.6 1397.7,1221.1 1398.1,1212.6 1398.4,1215.6 1398.8,1210.5 1399.1,1211.9 1399.5,1219.5 1399.8,1213.1 1400.2,1216.7 1400.5,1216.8 1400.9,1222.1 1401.2,1218.2 1401.6,1217.2 1401.9,1216.5 1402.3,1215.8 1402.6,1223.4 1403.0,1229.1 1403.3,1212.2 1403.7,1224.7 1404.0,1215.8 1404.4,1217.9 1404.7,1219.8 1405.1,1219.5 1405.4,1220.3 1405.8,1219.6 1406.1,1231.1 1406.5,1216.5 1406.8,1220.6 1407.2,1220.5 1407.5,1225.3 1407.9,1218.9 1408.2,1225.2 1408.6,1226.2 1408.9,1235.0 1409.3,1229.4 1409.6,1226.6 1410.0,1227.8 1410.3,1236.1 1410.7,1227.6 1411.0,1225.4 1411.4,1226.1 1411.7,1227.6 1412.1,1233.6 1412.4,1225.5 1412.8,1227.7 1413.1,1230.6 1413.5,1226.8 1413.8,1234.3 1414.2,1230.0 1414.5,1234.3 1414.9,1234.7 1415.2,1239.5 1415.6,1240.9 1415.9,1229.6 1416.3,1227.9 1416.6,1229.0 1417.0,1236.7 1417.3,1237.2 1417.7,1235.2 1418.0,1235.4 1418.4,1242.7 1418.7,1240.3 1419.1,1237.6 1419.4,1239.8 1419.8,1230.7 1420.1,1242.9 1420.5,1247.2 1420.8,1239.0 1421.2,1236.8 1421.5,1244.6 1421.9,1237.3 1422.2,1240.2 1422.6,1242.9 1422.9,1239.8 1423.3,1244.0 1423.6,1232.7 1424.0,1230.8 1424.3,1245.2 1424.7,1244.6 1425.0,1243.6 1425.4,1241.3 1425.7,1243.5 1426.1,1245.6 1426.4,1239.0 1426.8,1245.5 1427.1,1241.3 1427.5,1254.2 1427.8,1247.0 1428.2,1247.0 1428.5,1250.6 1428.9,1250.6 1429.2,1251.0 1429.6,1244.4 1429.9,1248.2 1430.3,1251.7 1430.6,1249.1 1431.0,1249.0 1431.3,1246.3 1431.7,1249.9 1432.0,1255.4 1432.4,1244.5 1432.7,1244.1 1433.1,1245.1 1433.4,1243.9 1433.8,1256.4 1434.1,1259.3 1434.5,1253.6 1434.8,1252.2 1435.2,1258.1 1435.5,1256.9 1435.9,1242.9 1436.2,1252.7 1436.6,1263.9 1436.9,1251.9 1437.3,1250.9 1437.6,1251.6 1438.0,1261.3 1438.3,1253.0 1438.7,1257.0 1439.0,1260.6 1439.4,1256.6 1439.7,1256.2 1440.1,1251.9 1440.4,1251.4 1440.8,1261.6 1441.1,1251.8 1441.5,1262.2 1441.8,1263.2 1442.2,1264.6 1442.5,1257.7 1442.9,1255.2 1443.2,1259.5 1443.6,1264.9 1443.9,1262.0 1444.3,1262.1 1444.6,1259.8 1445.0,1264.5 1445.3,1252.7 1445.7,1256.3 1446.0,1268.1 1446.4,1263.8 1446.7,1265.1 1447.1,1254.5 1447.4,1259.2 1447.8,1261.3 1448.1,1262.9 1448.5,1268.7 1448.8,1261.7 1449.2,1265.0 1449.5,1261.7 1449.9,1264.2 1450.2,1267.0 1450.6,1267.5 1450.9,1270.3 1451.3,1261.3 1451.6,1270.1 1452.0,1269.1 1452.3,1264.3 1452.7,1273.4 1453.0,1265.5 1453.4,1267.1 1453.7,1271.2 1454.1,1275.2 1454.4,1268.0 1454.8,1276.1 1455.1,1272.0 1455.5,1267.6 1455.8,1274.1 1456.2,1271.7 1456.5,1268.8 1456.9,1271.5 1457.2,1277.6 1457.6,1274.3 1457.9,1272.2 1458.3,1276.8 1458.6,1268.1 1459.0,1276.9 1459.3,1280.0 1459.7,1270.2 1460.0,1270.8 1460.4,1272.1 1460.7,1275.1 1461.1,1273.3 1461.4,1276.6 1461.8,1273.0 1462.1,1278.5 1462.5,1280.0 1462.8,1279.9 1463.2,1276.1 1463.5,1282.2 1463.9,1272.8 1464.2,1276.8 1464.6,1279.5 1464.9,1285.3 1465.3,1279.0 1465.6,1283.3 1466.0,1287.8 1466.3,1289.5 1466.7,1288.9 1467.0,1279.1 1467.4,1283.7 1467.7,1284.9 1468.1,1285.9 1468.4,1285.6 1468.8,1283.4 1469.1,1284.4 1469.5,1279.1 1469.8,1287.8 1470.2,1286.5 1470.5,1283.3 1470.9,1293.1 1471.2,1286.3 1471.6,1284.0 1471.9,1289.3 1472.3,1289.0 1472.6,1290.2 1473.0,1287.5 1473.3,1291.3 1473.7,1289.1 1474.0,1293.7 1474.4,1290.5 1474.7,1286.3 1475.1,1285.9 1475.4,1292.5 1475.8,1294.3 1476.1,1285.2 1476.5,1293.6 1476.8,1291.3 1477.2,1293.0 1477.5,1289.1 1477.9,1288.2 1478.2,1290.6 1478.6,1290.1 1478.9,1291.9 1479.3,1294.3 1479.6,1294.4 1480.0,1301.9 1480.3,1291.2 1480.7,1293.5 1481.0,1295.9 1481.4,1298.2 1481.7,1292.1 1482.1,1290.9 1482.4,1297.7 1482.8,1298.5 1483.1,1299.6 1483.5,1300.2 1483.8,1292.1 1484.2,1302.4 1484.5,1298.2 1484.9,1307.0 1485.2,1297.8 1485.6,1291.3 1485.9,1299.5 1486.3,1300.9 1486.6,1301.8 1487.0,1301.6 1487.3,1299.1 1487.7,1295.1 1488.0,1301.1 1488.4,1300.9 1488.7,1299.9 1489.1,1303.0 1489.4,1301.9 1489.8,1295.7 1490.1,1300.5 1490.5,1300.8 1490.8,1303.3 1491.2,1310.8 1491.5,1304.8 1491.9,1307.3 1492.2,1297.6 1492.6,1310.5 1492.9,1304.2 1493.3,1308.5 1493.6,1302.7 1494.0,1307.0 1494.3,1310.5 1494.7,1307.7 1495.0,1308.9 1495.4,1305.5 1495.7,1306.0 1496.1,1310.0 1496.4,1308.6 1496.8,1310.1 1497.1,1307.5 1497.5,1308.8 1497.8,1313.4 1498.2,1316.2 1498.5,1309.7 1498.9,1309.1 1499.2,1312.3 1499.6,1315.6 1499.9,1313.5 1500.3,1316.8 1500.6,1312.4 1501.0,1309.9 1501.3,1306.8 1501.7,1317.2 1502.0,1315.3 1502.4,1312.3 1502.7,1316.3 1503.1,1311.1 1503.4,1319.4 1503.8,1319.8 1504.1,1320.6 1504.5,1315.0 1504.8,1322.1 1505.2,1320.2 1505.5,1323.4 1505.9,1311.6 1506.2,1321.6 1506.6,1323.3 1506.9,1317.8 1507.3,1322.6 1507.6,1319.9 1508.0,1325.1 1508.3,1319.2 1508.7,1320.6 1509.0,1316.4 1509.4,1328.5 1509.7,1318.3 1510.1,1317.8 1510.4,1318.7 1510.8,1322.6 1511.1,1322.8 1511.5,1324.5 1511.8,1328.8 1512.2,1327.1 1512.5,1318.6 1512.9,1324.8 1513.2,1323.8 1513.6,1327.5 1513.9,1325.6 1514.3,1330.2 1514.6,1326.2 1515.0,1333.1 1515.3,1323.0 1515.7,1330.9 1516.0,1330.3 1516.4,1324.7 1516.7,1322.9 1517.1,1325.6 1517.4,1329.6 1517.8,1334.5 1518.1,1323.7 1518.5,1328.2 1518.8,1325.0 1519.2,1332.6 1519.5,1330.7 1519.9,1330.6 1520.2,1333.4 1520.6,1332.2 1520.9,1336.6 1521.3,1330.7 1521.6,1329.9 1522.0,1332.4 1522.3,1332.5 1522.7,1337.5 1523.0,1331.9 1523.4,1331.8 1523.7,1331.6 1524.1,1331.5 1524.4,1327.6 1524.8,1335.3 1525.1,1337.0 1525.5,1336.1 1525.8,1333.1 1526.2,1339.3 1526.5,1338.8 1526.9,1337.4 1527.2,1338.9 1527.6,1336.5 1527.9,1338.5 1528.3,1339.2 1528.6,1333.3 1529.0,1336.0 1529.3,1335.5 1529.7,1339.6 1530.0,1329.4 1530.4,1339.6 1530.7,1338.7 1531.1,1338.4 1531.4,1340.6 1531.8,1334.2 1532.1,1340.4 1532.5,1337.2 1532.8,1337.9 1533.2,1345.1 1533.5,1339.3 1533.9,1344.4 1534.2,1340.8 1534.6,1340.1 1534.9,1340.0 1535.3,1336.5 1535.6,1340.6 1536.0,1342.4 1536.3,1347.0 1536.7,1345.0 1537.0,1345.4 1537.4,1339.6 1537.7,1340.4 1538.1,1344.5 1538.4,1345.2 1538.8,1340.0 1539.1,1347.4 1539.5,1341.9 1539.8,1345.2 1540.2,1342.8 1540.5,1347.2 1540.9,1347.9 1541.2,1348.6 1541.6,1342.2 1541.9,1346.0 1542.3,1353.4 1542.6,1346.0 1543.0,1347.8 1543.3,1346.8 1543.7,1344.8 1544.0,1352.7 1544.4,1352.4 1544.7,1344.9 1545.1,1349.2 1545.4,1354.0 1545.8,1349.4 1546.1,1348.3 1546.5,1351.6 1546.8,1351.3 1547.2,1344.6 1547.5,1346.1 1547.9,1354.5 1548.2,1347.4 1548.6,1349.4 1548.9,1347.5 1549.3,1356.4 1549.6,1345.8 1550.0,1350.8 1550.3,1349.0 1550.7,1349.4 1551.0,1346.4 1551.4,1348.0 1551.7,1350.2 1552.1,1351.8 1552.4,1344.9 1552.8,1351.6 1553.1,1348.5 1553.5,1351.4 1553.8,1350.2 1554.2,1351.4 1554.5,1351.1 1554.9,1353.7 1555.2,1352.3 1555.6,1346.7 1555.9,1344.4 1556.3,1347.8 1556.6,1353.8 1557.0,1347.3 1557.3,1349.6 1557.7,1359.4 1558.0,1352.1 1558.4,1352.8 1558.7,1354.8 1559.1,1355.9 1559.4,1352.2 1559.8,1354.4 1560.1,1347.3 1560.5,1355.4 1560.8,1356.4 1561.2,1348.8 1561.5,1357.8 1561.9,1361.3 1562.2,1346.4 1562.6,1354.5 1562.9,1360.0 1563.3,1357.7 1563.6,1353.2 1564.0,1353.6 1564.3,1354.6 1564.7,1358.3 1565.0,1353.2 1565.4,1351.3 1565.7,1356.8 1566.1,1353.9 1566.4,1362.3 1566.8,1353.3 1567.1,1357.9 1567.5,1356.3 1567.8,1352.3 1568.2,1355.6 1568.5,1350.8 1568.9,1358.9 1569.2,1354.6 1569.6,1353.8 1569.9,1352.8 1570.3,1362.9 1570.6,1360.1 1571.0,1355.1 1571.3,1358.1 1571.7,1360.8 1572.0,1360.8 1572.4,1359.0 1572.7,1352.0 1573.1,1364.7 1573.4,1358.6 1573.8,1363.8 1574.1,1354.9 1574.5,1361.9 1574.8,1363.8 1575.2,1363.2 1575.5,1355.3 1575.9,1358.6 1576.2,1364.7 1576.6,1356.8 1576.9,1361.9 1577.3,1359.1 1577.6,1354.7 1578.0,1363.0 1578.3,1363.5 1578.7,1362.0 1579.0,1360.8 1579.4,1363.4 1579.7,1353.4 1580.1,1360.0 1580.4,1365.9 1580.8,1361.8 1581.1,1363.9 1581.5,1359.5 1581.8,1361.5 1582.2,1356.5 1582.5,1362.2 1582.9,1361.4 1583.2,1359.3 1583.6,1360.6 1583.9,1361.0 1584.3,1361.4 1584.6,1363.3 1585.0,1364.2 1585.3,1353.7 1585.7,1361.8 1586.0,1364.8 1586.4,1357.2 1586.7,1360.5 1587.1,1369.1 1587.4,1359.1 1587.8,1364.6 1588.1,1362.1 1588.5,1356.6 1588.8,1360.5 1589.2,1355.3 1589.5,1360.3 1589.9,1364.6 1590.2,1363.8 1590.6,1362.7 1590.9,1359.9 1591.3,1363.9 1591.6,1365.9 1592.0,1364.4 1592.3,1365.2 1592.7,1363.5 1593.0,1363.5 1593.4,1359.1 1593.7,1367.2 1594.1,1358.7 1594.4,1359.3 1594.8,1359.9 1595.1,1359.9 1595.5,1366.8 1595.8,1361.7 1596.2,1361.5 1596.5,1361.5 1596.9,1362.4 1597.2,1366.9 1597.6,1367.5 1597.9,1361.0 1598.3,1368.2 1598.6,1364.5 1599.0,1363.6 1599.3,1366.9 1599.7,1363.0 1600.0,1363.7 1600.4,1363.1 1600.7,1358.8 1601.1,1358.5 1601.4,1359.4 1601.8,1359.7 1602.1,1360.7 1602.5,1360.9 1602.8,1366.4 1603.2,1362.8 1603.5,1365.3 1603.9,1363.9 1604.2,1359.9 1604.6,1361.8 1604.9,1357.8 1605.3,1357.1 1605.6,1364.1 1606.0,1362.7 1606.3,1363.1 1606.7,1366.1 1607.0,1358.3 1607.4,1362.3 1607.7,1355.4 1608.1,1360.0 1608.4,1364.9 1608.8,1357.8 1609.1,1358.6 1609.5,1361.9 1609.8,1368.5 1610.2,1365.5 1610.5,1362.4 1610.9,1365.0 1611.2,1363.3 1611.6,1361.7 1611.9,1361.3 1612.3,1364.5 1612.6,1362.7 1613.0,1365.6 1613.3,1361.3 1613.7,1365.9 1614.0,1361.8 1614.4,1367.1 1614.7,1366.5 1615.1,1360.9 1615.4,1370.8 1615.8,1364.4 1616.1,1361.0 1616.5,1359.1 1616.8,1363.6 1617.2,1363.7 1617.5,1360.8 1617.9,1359.7 1618.2,1361.8 1618.6,1359.9 1618.9,1361.3 1619.3,1360.6 1619.6,1365.0 1620.0,1355.2 1620.3,1370.3 1620.7,1362.3 1621.0,1363.7 1621.4,1359.5 1621.7,1367.5 1622.1,1363.5 1622.4,1362.8 1622.8,1361.0 1623.1,1366.1 1623.5,1365.7 1623.8,1362.1 1624.2,1369.6 1624.5,1361.3 1624.9,1368.3 1625.2,1365.0 1625.6,1360.0 1625.9,1363.7 1626.3,1366.4 1626.6,1363.3 1627.0,1365.0 1627.3,1364.4 1627.7,1366.2 1628.0,1362.7 1628.4,1371.0 1628.7,1366.0 1629.1,1369.9 1629.4,1364.3 1629.8,1365.8 1630.1,1362.0 1630.5,1365.4 1630.8,1370.3 1631.2,1366.4 1631.5,1363.0 1631.9,1363.7 1632.2,1367.4 1632.6,1365.0 1632.9,1372.3 1633.3,1366.4 1633.6,1365.8 1634.0,1368.2 1634.3,1371.2 1634.7,1360.9 1635.0,1363.6 1635.4,1363.7 1635.7,1359.6 1636.1,1365.6 1636.4,1365.9 1636.8,1369.0 1637.1,1368.4 1637.5,1368.5 1637.8,1368.4 1638.2,1365.0 1638.5,1375.9 1638.9,1371.4 1639.2,1365.6 1639.6,1363.7 1639.9,1368.4 1640.3,1370.1 1640.6,1368.4 1641.0,1369.4 1641.3,1370.2 1641.7,1368.4 1642.0,1364.0 1642.4,1365.5 1642.7,1361.3 1643.1,1370.2 1643.4,1365.5 1643.8,1367.9 1644.1,1374.3 1644.5,1364.8 1644.8,1367.5 1645.2,1364.9 1645.5,1361.6 1645.9,1370.8 1646.2,1367.4 1646.6,1367.5 1646.9,1370.3 1647.3,1367.2 1647.6,1370.1 1648.0,1372.0 1648.3,1365.7 1648.7,1369.4 1649.0,1368.6 1649.4,1371.6 1649.7,1376.2 1650.1,1365.0 1650.4,1373.3 1650.8,1368.7 1651.1,1370.6 1651.5,1369.7 1651.8,1368.1 1652.2,1364.5 1652.5,1368.6 1652.9,1365.8 1653.2,1373.4 1653.6,1370.2 1653.9,1366.9 1654.3,1367.7 1654.6,1372.5 1655.0,1364.4 1655.3,1369.6 1655.7,1369.5 1656.0,1366.2 1656.4,1372.6 1656.7,1367.9 1657.1,1372.7 1657.4,1370.0 1657.8,1367.3 1658.1,1369.1 1658.5,1372.7 1658.8,1366.5 1659.2,1366.9 1659.5,1369.3 1659.9,1371.5 1660.2,1371.7 1660.6,1366.7 1660.9,1366.0 1661.3,1369.6 1661.6,1369.2 1662.0,1370.9 1662.3,1365.1 1662.7,1368.5 1663.0,1366.5 1663.4,1375.3 1663.7,1363.6 1664.1,1367.3 1664.4,1368.7 1664.8,1364.8 1665.1,1369.0 1665.5,1368.1 1665.8,1365.6 1666.2,1369.1 1666.5,1375.0 1666.9,1371.3 1667.2,1375.2 1667.6,1375.1 1667.9,1371.5 1668.3,1370.2 1668.6,1364.1 1669.0,1364.7 1669.3,1372.0 1669.7,1371.6 1670.0,1372.0 1670.4,1368.8 1670.7,1370.7 1671.1,1368.2 1671.4,1374.5 1671.8,1372.1 1672.1,1365.5 1672.5,1370.1 1672.8,1375.9 1673.2,1368.8 1673.5,1368.6 1673.9,1369.1 1674.2,1370.5 1674.6,1372.7 1674.9,1371.9 1675.3,1373.0 1675.6,1370.7 1676.0,1374.7 1676.3,1377.2 1676.7,1370.0 1677.0,1373.8 1677.4,1373.9 1677.7,1373.6 1678.1,1373.0 1678.4,1374.7 1678.8,1372.6 1679.1,1371.3 1679.5,1370.9 1679.8,1375.8 1680.2,1371.9 1680.5,1367.9 1680.9,1372.2 1681.2,1372.1 1681.6,1376.5 1681.9,1377.1 1682.3,1370.5 1682.6,1377.9 1683.0,1375.2 1683.3,1379.0 1683.7,1372.6 1684.0,1376.4 1684.4,1376.7 1684.7,1379.4 1685.1,1370.5 1685.4,1374.5 1685.8,1375.1 1686.1,1374.1 1686.5,1372.0 1686.8,1374.1 1687.2,1375.2 1687.5,1381.1 1687.9,1375.2 1688.2,1378.5 1688.6,1373.6 1688.9,1376.0 1689.3,1375.3 1689.6,1375.7 1690.0,1371.0 1690.3,1375.6 1690.7,1383.8 1691.0,1375.7 1691.4,1371.7 1691.7,1383.1 1692.1,1377.4 1692.4,1377.1 1692.8,1371.3 1693.1,1375.2 1693.5,1375.5 1693.8,1375.8 1694.2,1373.2 1694.5,1378.5 1694.9,1372.4 1695.2,1380.1 1695.6,1376.6 1695.9,1375.3 1696.3,1371.9 1696.6,1377.9 1697.0,1378.1 1697.3,1372.4 1697.7,1382.3 1698.0,1376.4 1698.4,1372.4 1698.7,1381.1 1699.1,1374.0 1699.4,1374.6 1699.8,1373.0 1700.1,1374.6 1700.5,1376.7 1700.8,1374.3 1701.2,1378.5 1701.5,1374.6 1701.9,1377.5 1702.2,1370.9 1702.6,1376.3 1702.9,1377.8 1703.3,1380.0 1703.6,1377.0 1704.0,1378.6 1704.3,1379.3 1704.7,1375.6 1705.0,1380.1 1705.4,1379.4 1705.7,1376.9 1706.1,1374.8 1706.4,1382.6 1706.8,1382.1 1707.1,1379.4 1707.5,1382.3 1707.8,1383.5 1708.2,1378.6 1708.5,1380.9 1708.9,1381.0 1709.2,1380.8 1709.6,1379.0 1709.9,1378.0 1710.3,1381.8 1710.6,1380.2 1711.0,1384.6 1711.3,1381.0 1711.7,1379.9 1712.0,1375.8 1712.4,1379.3 1712.7,1380.6 1713.1,1379.3 1713.4,1377.5 1713.8,1370.9 1714.1,1377.0 1714.5,1380.3 1714.8,1384.9 1715.2,1376.4 1715.5,1381.6 1715.9,1376.0 1716.2,1382.9 1716.6,1379.4 1716.9,1380.1 1717.3,1381.2 1717.6,1378.1 1718.0,1378.2 1718.3,1383.3 1718.7,1375.9 1719.0,1377.4 1719.4,1382.8 1719.7,1382.6 1720.1,1377.9 1720.4,1378.1 1720.8,1380.8 1721.1,1386.3 1721.5,1385.1 1721.8,1379.7 1722.2,1378.9 1722.5,1380.4 1722.9,1375.3 1723.2,1381.6 1723.6,1379.5 1723.9,1384.0 1724.3,1378.3 1724.6,1381.9 1725.0,1379.0 1725.3,1379.3 1725.7,1386.4 1726.0,1378.2 1726.4,1380.7 1726.7,1382.3 1727.1,1387.0 1727.4,1382.1 1727.8,1379.9 1728.1,1382.1 1728.5,1386.7 1728.8,1383.0 1729.2,1383.4 1729.5,1388.3 1729.9,1378.7 1730.2,1385.0 1730.6,1378.9 1730.9,1385.4 1731.3,1383.2 1731.6,1383.6 1732.0,1382.5 1732.3,1382.5 1732.7,1372.7 1733.0,1378.0 1733.4,1388.4 1733.7,1382.2 1734.1,1381.5 1734.4,1383.8 1734.8,1384.9 1735.1,1382.6 1735.5,1385.2 1735.8,1384.0 1736.2,1380.3 1736.5,1382.7 1736.9,1385.3 1737.2,1379.4 1737.6,1382.4 1737.9,1380.0 1738.3,1381.5 1738.6,1377.6 1739.0,1382.7 1739.3,1380.4 1739.7,1385.8 1740.0,1381.4 1740.4,1388.8 1740.7,1386.0 1741.1,1380.3 1741.4,1389.0 1741.8,1383.0 1742.1,1383.9 1742.5,1378.8 1742.8,1382.5 1743.2,1380.7 1743.5,1378.8 1743.9,1379.4 1744.2,1387.0 1744.6,1381.2 1744.9,1382.8 1745.3,1380.5 1745.6,1381.6 1746.0,1381.3 1746.3,1382.6 1746.7,1383.1 1747.0,1385.7 1747.4,1382.9 1747.7,1382.7 1748.1,1380.5 1748.4,1385.0 1748.8,1384.5 1749.1,1382.3 1749.5,1377.7 1749.8,1383.0 1750.2,1376.9 1750.5,1387.9 1750.9,1383.5 1751.2,1387.3 1751.6,1382.8 1751.9,1386.1 1752.3,1388.7 1752.6,1386.1 1753.0,1380.4 1753.3,1378.9 1753.7,1381.9 1754.0,1384.2 1754.4,1380.0 1754.7,1377.8 1755.1,1381.7 1755.4,1383.2 1755.8,1378.0 1756.1,1383.2 1756.5,1386.0 1756.8,1380.1 1757.2,1384.1 1757.5,1383.4 1757.9,1384.5 1758.2,1384.6 1758.6,1380.8 1758.9,1385.4 1759.3,1390.1 1759.6,1384.9 1760.0,1379.4 1760.3,1382.8 1760.7,1389.6 1761.0,1383.2 1761.4,1384.3 1761.7,1379.9 1762.1,1379.1 1762.4,1383.6 1762.8,1385.0 1763.1,1381.9 1763.5,1385.1 1763.8,1382.8 1764.2,1377.6 1764.5,1383.1 1764.9,1385.9 1765.2,1391.1 1765.6,1379.5 1765.9,1385.1 1766.3,1385.2 1766.6,1385.5 1767.0,1384.7 1767.3,1388.9 1767.7,1387.9 1768.0,1382.2 1768.4,1381.7 1768.7,1384.3 1769.1,1379.8 1769.4,1384.8 1769.8,1386.8 1770.1,1382.7 1770.5,1383.5 1770.8,1382.3 1771.2,1384.9 1771.5,1386.0 1771.9,1381.4 1772.2,1387.4 1772.6,1381.5 1772.9,1384.8 1773.3,1385.4 1773.6,1381.6 1774.0,1383.6 1774.3,1381.3 1774.7,1387.8 1775.0,1384.2 1775.4,1380.1 1775.7,1387.1 1776.1,1383.6 1776.4,1390.5 1776.8,1384.4 1777.1,1386.8 1777.5,1381.4 1777.8,1384.1 1778.2,1384.4 1778.5,1387.6 1778.9,1389.0 1779.2,1385.3 1779.6,1384.5 1779.9,1382.2 1780.3,1382.9 1780.6,1384.6 1781.0,1388.3 1781.3,1390.6 1781.7,1384.3 1782.0,1383.0 1782.4,1382.1 1782.7,1387.7 1783.1,1389.5 1783.4,1387.2 1783.8,1390.3 1784.1,1385.4 1784.5,1384.0 1784.8,1385.9 1785.2,1381.6 1785.5,1384.6 1785.9,1383.5 1786.2,1379.5 1786.6,1385.5 1786.9,1387.2 1787.3,1389.5 1787.6,1385.0 1788.0,1389.0 1788.3,1383.0 1788.7,1389.2 1789.0,1383.3 1789.4,1385.1 1789.7,1381.4 1790.1,1390.8 1790.4,1384.3 1790.8,1389.1 1791.1,1385.4 1791.5,1386.5 1791.8,1387.9 1792.2,1382.1 1792.5,1387.0 1792.9,1384.7 1793.2,1382.7 1793.6,1389.1 1793.9,1385.3 1794.3,1389.9 1794.6,1386.3 1795.0,1384.8 1795.3,1384.1 1795.7,1386.0 1796.0,1384.1 1796.4,1388.9 1796.7,1384.2 1797.1,1390.3 1797.4,1384.9 1797.8,1385.9 1798.1,1384.1 1798.5,1393.2 1798.8,1379.8 1799.2,1388.7 1799.5,1389.6 1799.9,1389.8 1800.2,1391.8 1800.6,1390.9 1800.9,1381.2 1801.3,1386.7 1801.6,1383.3 1802.0,1385.7 1802.3,1385.7 1802.7,1389.6 1803.0,1389.0 1803.4,1386.4 1803.7,1384.0 1804.1,1387.6 1804.4,1386.7 1804.8,1385.2 1805.1,1389.4 1805.5,1390.8 1805.8,1384.1 1806.2,1390.7 1806.5,1383.3 1806.9,1385.3 1807.2,1381.9 1807.6,1387.9 1807.9,1392.2 1808.3,1383.1 1808.6,1384.9 1809.0,1383.7 1809.3,1387.2 1809.7,1390.3 1810.0,1382.6 1810.4,1389.4 1810.7,1393.1 1811.1,1386.2 1811.4,1387.1 1811.8,1389.0 1812.1,1381.2 1812.5,1384.4 1812.8,1388.8 1813.2,1387.3 1813.5,1389.6 1813.9,1384.3 1814.2,1386.9 1814.6,1385.1 1814.9,1384.0 1815.3,1389.6 1815.6,1392.8 1816.0,1384.8 1816.3,1388.8 1816.7,1389.6 1817.0,1391.9 1817.4,1385.6 1817.7,1383.1 1818.1,1389.3 1818.4,1385.5 1818.8,1384.0 1819.1,1386.9 1819.5,1387.8 1819.8,1388.5 1820.2,1387.4 1820.5,1381.7 1820.9,1381.4 1821.2,1389.5 1821.6,1392.3 1821.9,1389.7 1822.3,1384.9 1822.6,1391.2 1823.0,1385.4 1823.3,1392.4 1823.7,1389.3 1824.0,1391.1 1824.4,1385.9 1824.7,1390.4 1825.1,1382.3 1825.4,1392.5 1825.8,1384.8 1826.1,1388.4 1826.5,1391.4 1826.8,1391.6 1827.2,1389.2 1827.5,1384.0 1827.9,1392.9 1828.2,1387.8 1828.6,1384.6 1828.9,1393.5 1829.3,1397.2 1829.6,1387.9 1830.0,1392.5 1830.3,1392.1 1830.7,1390.3 1831.0,1391.1 1831.4,1390.1 1831.7,1382.8 1832.1,1386.8 1832.4,1387.6 1832.8,1386.5 1833.1,1389.4 1833.5,1389.0 1833.8,1391.3 1834.2,1396.0 1834.5,1386.9 1834.9,1391.6 1835.2,1394.8 1835.6,1389.2 1835.9,1384.3 1836.3,1389.2 1836.6,1393.1 1837.0,1391.3 1837.3,1384.9 1837.7,1390.3 1838.0,1389.0 1838.4,1388.0 1838.7,1392.0 1839.1,1381.6 1839.4,1394.1 1839.8,1395.2 1840.1,1388.3 1840.5,1386.6 1840.8,1385.1 1841.2,1390.8 1841.5,1387.8 1841.9,1383.4 1842.2,1383.3 1842.6,1391.3 1842.9,1392.6 1843.3,1385.6 1843.6,1394.2 1844.0,1388.1 1844.3,1390.1 1844.7,1386.6 1845.0,1392.9 1845.4,1389.1 1845.7,1389.6 1846.1,1390.8 1846.4,1387.5 1846.8,1394.1 1847.1,1390.8 1847.5,1387.9 1847.8,1386.2 1848.2,1390.5 1848.5,1390.3 1848.9,1389.4 1849.2,1386.3 1849.6,1393.9 1849.9,1390.3 1850.3,1393.1 1850.6,1391.8 1851.0,1389.5 1851.3,1387.9 1851.7,1386.0 1852.0,1392.8 1852.4,1389.4 1852.7,1394.4 1853.1,1394.7 1853.4,1391.8 1853.8,1390.5 1854.1,1393.5 1854.5,1395.6 1854.8,1390.0 1855.2,1392.5 1855.5,1395.4 1855.9,1387.4 1856.2,1392.5 1856.6,1390.0 1856.9,1392.2 1857.3,1393.4 1857.6,1390.1 1858.0,1391.9 1858.3,1395.8 1858.7,1392.9 1859.0,1392.4 1859.4,1391.1 1859.7,1391.0 1860.1,1394.1 1860.4,1390.1 1860.8,1389.5 1861.1,1389.1 1861.5,1389.8 1861.8,1391.4 1862.2,1390.8 1862.5,1390.3 1862.9,1398.0 1863.2,1387.7 1863.6,1391.5 1863.9,1393.1 1864.3,1391.0 1864.6,1391.3 1865.0,1387.0 1865.3,1391.3 1865.7,1393.4 1866.0,1388.4 1866.4,1392.3 1866.7,1393.7 1867.1,1391.3 1867.4,1391.5 1867.8,1386.4 1868.1,1394.7 1868.5,1398.2 1868.8,1395.0 1869.2,1396.3 1869.5,1382.6 1869.9,1388.8 1870.2,1389.5 1870.6,1391.2 1870.9,1389.3 1871.3,1385.3 1871.6,1390.3 1872.0,1386.0 1872.3,1389.9 1872.7,1393.8 1873.0,1396.8 1873.4,1392.9 1873.7,1393.5 1874.1,1385.5 1874.4,1387.5 1874.8,1393.2 1875.1,1393.1 1875.5,1391.7 1875.8,1389.2 1876.2,1390.0 1876.5,1392.7 1876.9,1397.0 1877.2,1391.3 1877.6,1384.4 1877.9,1398.5 1878.3,1393.7 1878.6,1389.9 1879.0,1396.1 1879.3,1394.0 1879.7,1390.2 1880.0,1390.0 1880.4,1394.4 1880.7,1392.0 1881.1,1396.2 1881.4,1390.0 1881.8,1389.7 1882.1,1387.9 1882.5,1391.3 1882.8,1398.4 1883.2,1385.2 1883.5,1393.4 1883.9,1388.6 1884.2,1389.2 1884.6,1398.3 1884.9,1386.0 1885.3,1390.7 1885.6,1385.1 1886.0,1390.1 1886.3,1393.8 1886.7,1392.2 1887.0,1395.4 1887.4,1394.7" fill="none" stroke="#62A04E" stroke-width="1.05" stroke-linejoin="round" stroke-linecap="round" />
<rect x="126.7" y="35.7" width="808.5" height="615.1999999999999" fill="none" stroke="#222" stroke-width="3.2"/>
<rect x="1089.3" y="33.8" width="809.7" height="617.1" fill="none" stroke="#222" stroke-width="3.2"/>
<rect x="127" y="836.7" width="803.7" height="590.5" fill="none" stroke="#222" stroke-width="3.2"/>
<rect x="1086.2" y="830.4" width="802.5999999999999" height="609.6" fill="none" stroke="#222" stroke-width="3.2"/>
<line x1="126.3" y1="650.9" x2="126.3" y2="661.9" stroke="#222" stroke-width="3" />
<text transform="translate(126.3 697.8) scale(0.95 1)" font-size="35" text-anchor="middle" fill="#111" font-family="Liberation Sans, Arial, sans-serif" >4000</text>
<line x1="238.5" y1="650.9" x2="238.5" y2="661.9" stroke="#222" stroke-width="3" />
<text transform="translate(238.5 697.8) scale(0.95 1)" font-size="35" text-anchor="middle" fill="#111" font-family="Liberation Sans, Arial, sans-serif" >3500</text>
<line x1="350.7" y1="650.9" x2="350.7" y2="661.9" stroke="#222" stroke-width="3" />
<text transform="translate(350.7 697.8) scale(0.95 1)" font-size="35" text-anchor="middle" fill="#111" font-family="Liberation Sans, Arial, sans-serif" >3000</text>
<line x1="462.90000000000003" y1="650.9" x2="462.90000000000003" y2="661.9" stroke="#222" stroke-width="3" />
<text transform="translate(462.90000000000003 697.8) scale(0.95 1)" font-size="35" text-anchor="middle" fill="#111" font-family="Liberation Sans, Arial, sans-serif" >2500</text>
<line x1="575.1" y1="650.9" x2="575.1" y2="661.9" stroke="#222" stroke-width="3" />
<text transform="translate(575.1 697.8) scale(0.95 1)" font-size="35" text-anchor="middle" fill="#111" font-family="Liberation Sans, Arial, sans-serif" >2000</text>
<line x1="687.3" y1="650.9" x2="687.3" y2="661.9" stroke="#222" stroke-width="3" />
<text transform="translate(687.3 697.8) scale(0.95 1)" font-size="35" text-anchor="middle" fill="#111" font-family="Liberation Sans, Arial, sans-serif" >1500</text>
<line x1="799.5" y1="650.9" x2="799.5" y2="661.9" stroke="#222" stroke-width="3" />
<text transform="translate(799.5 697.8) scale(0.95 1)" font-size="35" text-anchor="middle" fill="#111" font-family="Liberation Sans, Arial, sans-serif" >1000</text>
<line x1="911.6999999999999" y1="650.9" x2="911.6999999999999" y2="661.9" stroke="#222" stroke-width="3" />
<text transform="translate(911.6999999999999 697.8) scale(0.95 1)" font-size="35" text-anchor="middle" fill="#111" font-family="Liberation Sans, Arial, sans-serif" >500</text>
<line x1="1089.5" y1="650.9" x2="1089.5" y2="661.9" stroke="#222" stroke-width="3" />
<text transform="translate(1089.5 697.8) scale(0.95 1)" font-size="35" text-anchor="middle" fill="#111" font-family="Liberation Sans, Arial, sans-serif" >4000</text>
<line x1="1201.83" y1="650.9" x2="1201.83" y2="661.9" stroke="#222" stroke-width="3" />
<text transform="translate(1201.83 697.8) scale(0.95 1)" font-size="35" text-anchor="middle" fill="#111" font-family="Liberation Sans, Arial, sans-serif" >3500</text>
<line x1="1314.16" y1="650.9" x2="1314.16" y2="661.9" stroke="#222" stroke-width="3" />
<text transform="translate(1314.16 697.8) scale(0.95 1)" font-size="35" text-anchor="middle" fill="#111" font-family="Liberation Sans, Arial, sans-serif" >3000</text>
<line x1="1426.49" y1="650.9" x2="1426.49" y2="661.9" stroke="#222" stroke-width="3" />
<text transform="translate(1426.49 697.8) scale(0.95 1)" font-size="35" text-anchor="middle" fill="#111" font-family="Liberation Sans, Arial, sans-serif" >2500</text>
<line x1="1538.82" y1="650.9" x2="1538.82" y2="661.9" stroke="#222" stroke-width="3" />
<text transform="translate(1538.82 697.8) scale(0.95 1)" font-size="35" text-anchor="middle" fill="#111" font-family="Liberation Sans, Arial, sans-serif" >2000</text>
<line x1="1651.15" y1="650.9" x2="1651.15" y2="661.9" stroke="#222" stroke-width="3" />
<text transform="translate(1651.15 697.8) scale(0.95 1)" font-size="35" text-anchor="middle" fill="#111" font-family="Liberation Sans, Arial, sans-serif" >1500</text>
<line x1="1763.48" y1="650.9" x2="1763.48" y2="661.9" stroke="#222" stroke-width="3" />
<text transform="translate(1763.48 697.8) scale(0.95 1)" font-size="35" text-anchor="middle" fill="#111" font-family="Liberation Sans, Arial, sans-serif" >1000</text>
<line x1="1875.81" y1="650.9" x2="1875.81" y2="661.9" stroke="#222" stroke-width="3" />
<text transform="translate(1875.81 697.8) scale(0.95 1)" font-size="35" text-anchor="middle" fill="#111" font-family="Liberation Sans, Arial, sans-serif" >500</text>
<line x1="150.6" y1="1427.2" x2="150.6" y2="1438.2" stroke="#222" stroke-width="3" />
<text transform="translate(150.6 1472.5)" font-size="33" text-anchor="middle" fill="#111" font-family="Liberation Sans, Arial, sans-serif" >220</text>
<line x1="245.6" y1="1427.2" x2="245.6" y2="1438.2" stroke="#222" stroke-width="3" />
<text transform="translate(245.6 1472.5)" font-size="33" text-anchor="middle" fill="#111" font-family="Liberation Sans, Arial, sans-serif" >200</text>
<line x1="340.6" y1="1427.2" x2="340.6" y2="1438.2" stroke="#222" stroke-width="3" />
<text transform="translate(340.6 1472.5)" font-size="33" text-anchor="middle" fill="#111" font-family="Liberation Sans, Arial, sans-serif" >180</text>
<line x1="435.6" y1="1427.2" x2="435.6" y2="1438.2" stroke="#222" stroke-width="3" />
<text transform="translate(435.6 1472.5)" font-size="33" text-anchor="middle" fill="#111" font-family="Liberation Sans, Arial, sans-serif" >160</text>
<line x1="530.6" y1="1427.2" x2="530.6" y2="1438.2" stroke="#222" stroke-width="3" />
<text transform="translate(530.6 1472.5)" font-size="33" text-anchor="middle" fill="#111" font-family="Liberation Sans, Arial, sans-serif" >140</text>
<line x1="625.6" y1="1427.2" x2="625.6" y2="1438.2" stroke="#222" stroke-width="3" />
<text transform="translate(625.6 1472.5)" font-size="33" text-anchor="middle" fill="#111" font-family="Liberation Sans, Arial, sans-serif" >120</text>
<line x1="720.6" y1="1427.2" x2="720.6" y2="1438.2" stroke="#222" stroke-width="3" />
<text transform="translate(720.6 1472.5)" font-size="33" text-anchor="middle" fill="#111" font-family="Liberation Sans, Arial, sans-serif" >100</text>
<line x1="815.6" y1="1427.2" x2="815.6" y2="1438.2" stroke="#222" stroke-width="3" />
<text transform="translate(815.6 1472.5)" font-size="33" text-anchor="middle" fill="#111" font-family="Liberation Sans, Arial, sans-serif" >80</text>
<line x1="910.6" y1="1427.2" x2="910.6" y2="1438.2" stroke="#222" stroke-width="3" />
<text transform="translate(910.6 1472.5)" font-size="33" text-anchor="middle" fill="#111" font-family="Liberation Sans, Arial, sans-serif" >60</text>
<line x1="1159.2" y1="1440" x2="1159.2" y2="1451" stroke="#222" stroke-width="3" />
<text transform="translate(1159.2 1485.7)" font-size="33" text-anchor="middle" fill="#111" font-family="Liberation Sans, Arial, sans-serif" >10</text>
<line x1="1305.1200000000001" y1="1440" x2="1305.1200000000001" y2="1451" stroke="#222" stroke-width="3" />
<text transform="translate(1305.1200000000001 1485.7)" font-size="33" text-anchor="middle" fill="#111" font-family="Liberation Sans, Arial, sans-serif" >20</text>
<line x1="1451.04" y1="1440" x2="1451.04" y2="1451" stroke="#222" stroke-width="3" />
<text transform="translate(1451.04 1485.7)" font-size="33" text-anchor="middle" fill="#111" font-family="Liberation Sans, Arial, sans-serif" >30</text>
<line x1="1596.96" y1="1440" x2="1596.96" y2="1451" stroke="#222" stroke-width="3" />
<text transform="translate(1596.96 1485.7)" font-size="33" text-anchor="middle" fill="#111" font-family="Liberation Sans, Arial, sans-serif" >40</text>
<line x1="1742.88" y1="1440" x2="1742.88" y2="1451" stroke="#222" stroke-width="3" />
<text transform="translate(1742.88 1485.7)" font-size="33" text-anchor="middle" fill="#111" font-family="Liberation Sans, Arial, sans-serif" >50</text>
<line x1="1888.8" y1="1440" x2="1888.8" y2="1451" stroke="#222" stroke-width="3" />
<text transform="translate(1888.8 1485.7)" font-size="33" text-anchor="middle" fill="#111" font-family="Liberation Sans, Arial, sans-serif" >60</text>
<text transform="translate(530.2 756.4) scale(0.955 1)" font-size="35" text-anchor="middle" fill="#111" font-family="Liberation Sans, Arial, sans-serif" >Wavenumber (cm<tspan dy="-15" font-size="22.5">−1</tspan><tspan dy="15">)</tspan></text>
<text transform="translate(1493.5 756.4) scale(0.955 1)" font-size="35" text-anchor="middle" fill="#111" font-family="Liberation Sans, Arial, sans-serif" >Wavenumber (cm<tspan dy="-15" font-size="22.5">−1</tspan><tspan dy="15">)</tspan></text>
<text transform="translate(528 1527) scale(0.954 1)" font-size="35" text-anchor="middle" fill="#111" font-family="Liberation Sans, Arial, sans-serif" >Chemical shift (ppm)</text>
<text transform="translate(1487.5 1538.4)" font-size="33" text-anchor="middle" fill="#111" font-family="Liberation Sans, Arial, sans-serif" >2-Theta (degree)</text>
<text transform="translate(98.8 343.5) rotate(-90)" font-size="33.5" text-anchor="middle" fill="#111" font-family="Liberation Sans, Arial, sans-serif" >Transmittance (a.u.)</text>
<text transform="translate(1061.7 342.5) rotate(-90)" font-size="33.5" text-anchor="middle" fill="#111" font-family="Liberation Sans, Arial, sans-serif" >Transmittance (a.u.)</text>
<text transform="translate(100.3 1130.7) rotate(-90) scale(0.984 1)" font-size="34" text-anchor="middle" fill="#111" font-family="Liberation Sans, Arial, sans-serif" >Intensity (a.u.)</text>
<text transform="translate(1058.8 1134) rotate(-90)" font-size="33" text-anchor="middle" fill="#111" font-family="Liberation Sans, Arial, sans-serif" >Intensity (a.u.)</text>
<text transform="translate(21.5 70) scale(0.93 1)" font-size="51" text-anchor="start" fill="#111" font-family="Liberation Sans, Arial, sans-serif" >a</text>
<text transform="translate(989.5 70.5)" font-size="51" text-anchor="start" fill="#111" font-family="Liberation Sans, Arial, sans-serif" >b</text>
<text transform="translate(26 869.5)" font-size="50" text-anchor="start" fill="#111" font-family="Liberation Sans, Arial, sans-serif" >c</text>
<text transform="translate(987 869)" font-size="50" text-anchor="start" fill="#111" font-family="Liberation Sans, Arial, sans-serif" >d</text>
<text transform="translate(134 218.8)" font-size="27" text-anchor="start" fill="#111" font-family="Liberation Sans, Arial, sans-serif" >LNU-26</text>
<text transform="translate(545.06 211.00) scale(0.925 1)" font-size="31.6" fill="#555" font-family="Liberation Sans, Arial, sans-serif">−</text>
<text transform="translate(563.50 213.20) scale(0.875 1)" font-size="31.6" fill="#1a1a1a" font-family="Liberation Sans, Arial, sans-serif">C</text>
<text transform="translate(585.57 211.20) scale(1.707 1)" font-size="31.6" fill="#555" font-family="Liberation Sans, Arial, sans-serif">≡</text>
<text transform="translate(618.77 213.20) scale(0.890 1)" font-size="31.6" fill="#1a1a1a" font-family="Liberation Sans, Arial, sans-serif">C</text>
<text transform="translate(639.39 211.00) scale(0.970 1)" font-size="31.6" fill="#555" font-family="Liberation Sans, Arial, sans-serif">−</text>
<text transform="translate(825.18 260.90) scale(0.925 1)" font-size="34.5" fill="#1a1a1a" font-family="Liberation Sans, Arial, sans-serif">C</text>
<text transform="translate(847.50 259.70) scale(0.943 1)" font-size="34.5" fill="#555" font-family="Liberation Sans, Arial, sans-serif">−</text>
<text transform="translate(866.11 261.00) scale(0.985 1)" font-size="34.5" fill="#1a1a1a" font-family="Liberation Sans, Arial, sans-serif">B</text>
<text transform="translate(888.39 261.00) scale(1.050 1)" font-size="34.5" fill="#1a1a1a" font-family="Liberation Sans, Arial, sans-serif">r</text>
<text transform="translate(130 358.5)" font-size="27" text-anchor="start" fill="#111" font-family="Liberation Sans, Arial, sans-serif" >2,7-dibromo-9,10-phenanthren edione</text>
<text transform="translate(299.02 470.10) scale(0.894 1)" font-size="32.5" fill="#1a1a1a" font-family="Liberation Sans, Arial, sans-serif">C</text>
<text transform="translate(322.17 469.00) scale(1.659 1)" font-size="32.5" fill="#555" font-family="Liberation Sans, Arial, sans-serif">≡</text>
<text transform="translate(353.94 470.10) scale(0.943 1)" font-size="32.5" fill="#1a1a1a" font-family="Liberation Sans, Arial, sans-serif">C</text>
<text transform="translate(375.63 468.90) scale(0.981 1)" font-size="32.5" fill="#555" font-family="Liberation Sans, Arial, sans-serif">−</text>
<text transform="translate(392.44 470.40) scale(0.960 1)" font-size="32.5" fill="#1a1a1a" font-family="Liberation Sans, Arial, sans-serif">H</text>
<text transform="translate(136 610)" font-size="27" text-anchor="start" fill="#111" font-family="Liberation Sans, Arial, sans-serif" >1,3,5-triethynylbenzene</text>
<text transform="translate(1094 214.7)" font-size="27" text-anchor="start" fill="#111" font-family="Liberation Sans, Arial, sans-serif" >LNU-27</text>
<text transform="translate(1368.56 182.70) scale(0.925 1)" font-size="31.6" fill="#555" font-family="Liberation Sans, Arial, sans-serif">−</text>
<text transform="translate(1387.00 184.90) scale(0.875 1)" font-size="31.6" fill="#1a1a1a" font-family="Liberation Sans, Arial, sans-serif">C</text>
<text transform="translate(1409.07 182.90) scale(1.707 1)" font-size="31.6" fill="#555" font-family="Liberation Sans, Arial, sans-serif">≡</text>
<text transform="translate(1442.27 184.90) scale(0.890 1)" font-size="31.6" fill="#1a1a1a" font-family="Liberation Sans, Arial, sans-serif">C</text>
<text transform="translate(1462.89 182.70) scale(0.970 1)" font-size="31.6" fill="#555" font-family="Liberation Sans, Arial, sans-serif">−</text>
<text transform="translate(1811.48 225.90) scale(0.925 1)" font-size="34.5" fill="#1a1a1a" font-family="Liberation Sans, Arial, sans-serif">C</text>
<text transform="translate(1833.80 224.70) scale(0.943 1)" font-size="34.5" fill="#555" font-family="Liberation Sans, Arial, sans-serif">−</text>
<text transform="translate(1852.41 226.00) scale(0.985 1)" font-size="34.5" fill="#1a1a1a" font-family="Liberation Sans, Arial, sans-serif">B</text>
<text transform="translate(1874.69 226.00) scale(1.050 1)" font-size="34.5" fill="#1a1a1a" font-family="Liberation Sans, Arial, sans-serif">r</text>
<text transform="translate(1091 398.8)" font-size="27" text-anchor="start" fill="#111" font-family="Liberation Sans, Arial, sans-serif" >2,6-dibromoanthraquinone</text>
<text transform="translate(1266.52 524.20) scale(0.894 1)" font-size="32.5" fill="#1a1a1a" font-family="Liberation Sans, Arial, sans-serif">C</text>
<text transform="translate(1289.67 523.10) scale(1.659 1)" font-size="32.5" fill="#555" font-family="Liberation Sans, Arial, sans-serif">≡</text>
<text transform="translate(1321.44 524.20) scale(0.943 1)" font-size="32.5" fill="#1a1a1a" font-family="Liberation Sans, Arial, sans-serif">C</text>
<text transform="translate(1343.13 523.00) scale(0.981 1)" font-size="32.5" fill="#555" font-family="Liberation Sans, Arial, sans-serif">−</text>
<text transform="translate(1359.94 524.50) scale(0.960 1)" font-size="32.5" fill="#1a1a1a" font-family="Liberation Sans, Arial, sans-serif">H</text>
<text transform="translate(1092 604.2)" font-size="27" text-anchor="start" fill="#111" font-family="Liberation Sans, Arial, sans-serif" >1,3,5-triethynylbenzene</text>
<text transform="translate(128 1061.5)" font-size="34" text-anchor="start" fill="#D95F0E" font-family="Liberation Sans, Arial, sans-serif" >LNU-26</text>
<text transform="translate(131 1334.8)" font-size="34" text-anchor="start" fill="#236A23" font-family="Liberation Sans, Arial, sans-serif" >LNU-27</text>
<text transform="translate(375 1052)" font-size="32" text-anchor="middle" fill="#111" font-family="Liberation Sans, Arial, sans-serif" >1</text>
<text transform="translate(555 923)" font-size="32" text-anchor="middle" fill="#111" font-family="Liberation Sans, Arial, sans-serif" >3</text>
<text transform="translate(601.5 894)" font-size="32" text-anchor="middle" fill="#111" font-family="Liberation Sans, Arial, sans-serif" >2</text>
<text transform="translate(786.5 1030.2)" font-size="32" text-anchor="middle" fill="#111" font-family="Liberation Sans, Arial, sans-serif" >4</text>
<text transform="translate(846.5 1041)" font-size="32" text-anchor="middle" fill="#111" font-family="Liberation Sans, Arial, sans-serif" >5</text>
<text transform="translate(342 1268)" font-size="32" text-anchor="middle" fill="#111" font-family="Liberation Sans, Arial, sans-serif" >1</text>
<text transform="translate(553 1052)" font-size="32" text-anchor="middle" fill="#111" font-family="Liberation Sans, Arial, sans-serif" >2</text>
<text transform="translate(595 1104.4)" font-size="32" text-anchor="middle" fill="#111" font-family="Liberation Sans, Arial, sans-serif" >3</text>
<text transform="translate(611.5 1208.6)" font-size="32" text-anchor="middle" fill="#111" font-family="Liberation Sans, Arial, sans-serif" >4</text>
<text transform="translate(743.5 1288.7)" font-size="32" text-anchor="middle" fill="#111" font-family="Liberation Sans, Arial, sans-serif" >5</text>
<text transform="translate(815 1310.8)" font-size="32" text-anchor="middle" fill="#111" font-family="Liberation Sans, Arial, sans-serif" >6</text>
<line x1="1674.2" y1="867.6" x2="1741.9" y2="867.6" stroke="#F5B27A" stroke-width="2.2" />
<line x1="1674.2" y1="907.4" x2="1741.9" y2="907.4" stroke="#9EC48E" stroke-width="2.2" />
<text transform="translate(1749.5 878.2) scale(0.96 1)" font-size="34.5" text-anchor="start" fill="#111" font-family="Liberation Sans, Arial, sans-serif" >LNU-26</text>
<text transform="translate(1749.5 918.1) scale(0.96 1)" font-size="34.5" text-anchor="start" fill="#111" font-family="Liberation Sans, Arial, sans-serif" >LNU-27</text>
<polygon points="672.3,924.6 695.7,924.6 706.5,944.1 695.7,964.2 672.3,964.2 661.5,944.1" fill="none" stroke="#5a5aff" stroke-width="1.4" stroke-linejoin="round"/>
<line x1="676.5" y1="927.6" x2="691.5" y2="927.6" stroke="#5a5aff" stroke-width="1.4" stroke-linecap="round"/>
<line x1="702.0" y1="946.2" x2="695.0" y2="959.1" stroke="#5a5aff" stroke-width="1.4" stroke-linecap="round"/>
<line x1="673.0" y1="959.1" x2="666.0" y2="946.2" stroke="#5a5aff" stroke-width="1.4" stroke-linecap="round"/>
<line x1="672.3" y1="924.6" x2="660.2" y2="903.5" stroke="#5a5aff" stroke-width="1.4" stroke-linecap="round"/>
<line x1="657.9" y1="904.8" x2="647.1" y2="886.1" stroke="#5a5aff" stroke-width="1.4" stroke-linecap="round"/>
<line x1="660.2" y1="903.5" x2="649.5" y2="884.8" stroke="#5a5aff" stroke-width="1.4" stroke-linecap="round"/>
<line x1="662.5" y1="902.2" x2="651.8" y2="883.4" stroke="#5a5aff" stroke-width="1.4" stroke-linecap="round"/>
<line x1="649.5" y1="884.8" x2="646.1" y2="878.9" stroke="#5a5aff" stroke-width="1.4" stroke-linecap="round"/>
<polyline points="646.1,878.9 646.8,877.1 644.9,876.7 642.9,876.4 643.6,874.6 644.3,872.8 642.4,872.4 640.5,872.1 641.2,870.3 641.8,868.5 639.9,868.1 638.0,867.8 638.7,866.0" fill="none" stroke="#5a5aff" stroke-width="1.3"/>
<line x1="672.3" y1="964.2" x2="660.2" y2="985.3" stroke="#5a5aff" stroke-width="1.4" stroke-linecap="round"/>
<line x1="662.5" y1="986.7" x2="651.8" y2="1005.5" stroke="#5a5aff" stroke-width="1.4" stroke-linecap="round"/>
<line x1="660.2" y1="985.3" x2="649.5" y2="1004.1" stroke="#5a5aff" stroke-width="1.4" stroke-linecap="round"/>
<line x1="657.9" y1="984.0" x2="647.1" y2="1002.8" stroke="#5a5aff" stroke-width="1.4" stroke-linecap="round"/>
<line x1="649.5" y1="1004.1" x2="646.1" y2="1010.0" stroke="#5a5aff" stroke-width="1.4" stroke-linecap="round"/>
<polyline points="646.1,1010.0 644.2,1010.3 644.9,1012.1 645.5,1014.0 643.6,1014.3 641.7,1014.6 642.4,1016.4 643.1,1018.3 641.2,1018.6 639.2,1018.9 639.9,1020.7 640.6,1022.6 638.7,1022.9" fill="none" stroke="#5a5aff" stroke-width="1.3"/>
<line x1="706.5" y1="944.1" x2="729.9" y2="944.1" stroke="#5a5aff" stroke-width="1.5" stroke-linecap="round"/>
<line x1="729.9" y1="939.5" x2="752.7" y2="939.5" stroke="#5a5aff" stroke-width="1.6" stroke-linecap="round"/>
<line x1="729.9" y1="944.1" x2="752.7" y2="944.1" stroke="#5a5aff" stroke-width="1.6" stroke-linecap="round"/>
<line x1="729.9" y1="948.7" x2="752.7" y2="948.7" stroke="#5a5aff" stroke-width="1.6" stroke-linecap="round"/>
<line x1="752.7" y1="944.1" x2="775.8" y2="944.1" stroke="#6a6a6a" stroke-width="1.8" stroke-linecap="round"/>
<polygon points="775.8,944.3 787.0,924.4 809.8,924.4 820.2,944.3 809.8,963.4 787.0,963.4" fill="none" stroke="#f0a060" stroke-width="1.4" stroke-linejoin="round"/>
<polygon points="809.8,924.4 820.2,904.9 844.7,904.9 855.9,924.4 844.7,944.3 820.2,944.3" fill="none" stroke="#f0a060" stroke-width="1.4" stroke-linejoin="round"/>
<polygon points="855.9,924.4 878.7,924.4 889.5,944.3 878.7,963.4 855.9,963.4 844.7,944.3" fill="none" stroke="#f0a060" stroke-width="1.4" stroke-linejoin="round"/>
<line x1="780.4" y1="942.2" x2="787.6" y2="929.5" stroke="#f0a060" stroke-width="1.4" stroke-linecap="round"/>
<line x1="809.1" y1="929.5" x2="815.7" y2="942.2" stroke="#f0a060" stroke-width="1.4" stroke-linecap="round"/>
<line x1="807.1" y1="961.8" x2="789.7" y2="961.8" stroke="#f0a060" stroke-width="2.2" stroke-linecap="round"/>
<line x1="851.3" y1="926.5" x2="844.1" y2="939.3" stroke="#f0a060" stroke-width="1.4" stroke-linecap="round"/>
<line x1="844.7" y1="944.3" x2="820.2" y2="944.3" stroke="#f0a060" stroke-width="2.6" stroke-linecap="round"/>
<line x1="878.0" y1="929.5" x2="885.0" y2="942.2" stroke="#f0a060" stroke-width="1.4" stroke-linecap="round"/>
<line x1="876.0" y1="961.8" x2="858.6" y2="961.8" stroke="#f0a060" stroke-width="2.2" stroke-linecap="round"/>
<line x1="820.2" y1="904.9" x2="812.8" y2="890.7" stroke="#f0a060" stroke-width="1.4" stroke-linecap="round"/>
<line x1="821.8" y1="902.3" x2="815.1" y2="889.5" stroke="#f0a060" stroke-width="1.4" stroke-linecap="round"/>
<line x1="844.7" y1="904.9" x2="853.1" y2="890.5" stroke="#f0a060" stroke-width="1.4" stroke-linecap="round"/>
<line x1="843.3" y1="902.1" x2="850.9" y2="889.2" stroke="#f0a060" stroke-width="1.4" stroke-linecap="round"/>
<ellipse cx="810.2" cy="885.8" rx="4.3" ry="5.2" fill="none" stroke="#e67a3a" stroke-width="1.5"/>
<ellipse cx="855.9" cy="885.8" rx="4.3" ry="5.2" fill="none" stroke="#e67a3a" stroke-width="1.5"/>
<polyline points="889.5,944.3 891.0,945.6 892.3,944.1 893.6,942.7 895.1,944.0 896.6,945.3 897.9,943.8 899.2,942.3 900.7,943.6 902.2,945.0 903.5,943.5 904.8,942.0 906.3,943.3 907.8,944.6 909.1,943.2 910.4,941.7 911.9,943.0" fill="none" stroke="#f0a060" stroke-width="1.3"/>
<text x="728.8" y="931.7" font-size="20" text-anchor="middle" fill="#333" font-family="Liberation Serif, Times New Roman, serif">5</text>
<text x="754.3" y="931.5" font-size="20" text-anchor="middle" fill="#333" font-family="Liberation Serif, Times New Roman, serif">4</text>
<text x="809" y="914" font-size="20" text-anchor="middle" fill="#333" font-family="Liberation Serif, Times New Roman, serif">1</text>
<text x="774.5" y="966.3" font-size="20" text-anchor="middle" fill="#333" font-family="Liberation Serif, Times New Roman, serif">3</text>
<text x="809.8" y="983.7" font-size="20" text-anchor="middle" fill="#333" font-family="Liberation Serif, Times New Roman, serif">2</text>
<polygon points="672.3,1165.6 695.7,1165.6 706.5,1185.1 695.7,1205.2 672.3,1205.2 661.5,1185.1" fill="none" stroke="#2a2aff" stroke-width="1.4" stroke-linejoin="round"/>
<line x1="676.5" y1="1168.6" x2="691.5" y2="1168.6" stroke="#2a2aff" stroke-width="1.4" stroke-linecap="round"/>
<line x1="702.0" y1="1187.2" x2="695.0" y2="1200.1" stroke="#2a2aff" stroke-width="1.4" stroke-linecap="round"/>
<line x1="673.0" y1="1200.1" x2="666.0" y2="1187.2" stroke="#2a2aff" stroke-width="1.4" stroke-linecap="round"/>
<line x1="672.3" y1="1165.6" x2="660.2" y2="1144.5" stroke="#2a2aff" stroke-width="1.4" stroke-linecap="round"/>
<line x1="657.9" y1="1145.8" x2="647.1" y2="1127.1" stroke="#2a2aff" stroke-width="1.4" stroke-linecap="round"/>
<line x1="660.2" y1="1144.5" x2="649.5" y2="1125.8" stroke="#2a2aff" stroke-width="1.4" stroke-linecap="round"/>
<line x1="662.5" y1="1143.2" x2="651.8" y2="1124.4" stroke="#2a2aff" stroke-width="1.4" stroke-linecap="round"/>
<line x1="649.5" y1="1125.8" x2="646.1" y2="1119.9" stroke="#2a2aff" stroke-width="1.4" stroke-linecap="round"/>
<polyline points="646.1,1119.9 646.8,1118.1 644.9,1117.7 642.9,1117.4 643.6,1115.6 644.3,1113.8 642.4,1113.4 640.5,1113.1 641.2,1111.3 641.8,1109.5 639.9,1109.1 638.0,1108.8 638.7,1107.0" fill="none" stroke="#2a2aff" stroke-width="1.3"/>
<line x1="672.3" y1="1205.2" x2="660.2" y2="1226.3" stroke="#2a2aff" stroke-width="1.4" stroke-linecap="round"/>
<line x1="662.5" y1="1227.7" x2="651.8" y2="1246.5" stroke="#2a2aff" stroke-width="1.4" stroke-linecap="round"/>
<line x1="660.2" y1="1226.3" x2="649.5" y2="1245.1" stroke="#2a2aff" stroke-width="1.4" stroke-linecap="round"/>
<line x1="657.9" y1="1225.0" x2="647.1" y2="1243.8" stroke="#2a2aff" stroke-width="1.4" stroke-linecap="round"/>
<line x1="649.5" y1="1245.1" x2="646.1" y2="1251.0" stroke="#2a2aff" stroke-width="1.4" stroke-linecap="round"/>
<polyline points="646.1,1251.0 644.2,1251.3 644.9,1253.1 645.5,1255.0 643.6,1255.3 641.7,1255.6 642.4,1257.4 643.1,1259.3 641.2,1259.6 639.2,1259.9 639.9,1261.7 640.6,1263.6 638.7,1263.9" fill="none" stroke="#2a2aff" stroke-width="1.3"/>
<line x1="706.5" y1="1185.1" x2="729.9" y2="1185.1" stroke="#2a2aff" stroke-width="1.5" stroke-linecap="round"/>
<line x1="729.9" y1="1180.5" x2="752.7" y2="1180.5" stroke="#2a2aff" stroke-width="1.6" stroke-linecap="round"/>
<line x1="729.9" y1="1185.1" x2="752.7" y2="1185.1" stroke="#2a2aff" stroke-width="1.6" stroke-linecap="round"/>
<line x1="729.9" y1="1189.7" x2="752.7" y2="1189.7" stroke="#2a2aff" stroke-width="1.6" stroke-linecap="round"/>
<line x1="752.7" y1="1185.1" x2="775.8" y2="1185.1" stroke="#6a6a6a" stroke-width="1.8" stroke-linecap="round"/>
<polygon points="775.7,1185.1 786.5,1165.0 810.1,1165.0 820.4,1185.1 810.1,1204.8 786.5,1204.8" fill="none" stroke="#7ccc7c" stroke-width="1.4" stroke-linejoin="round"/>
<polygon points="820.4,1185.1 843.7,1185.1 854.8,1204.8 843.7,1224.9 820.4,1224.9 810.1,1204.8" fill="none" stroke="#7ccc7c" stroke-width="1.4" stroke-linejoin="round"/>
<polygon points="854.8,1204.8 878.5,1204.8 889.3,1224.9 878.5,1245.0 854.8,1245.0 843.7,1224.9" fill="none" stroke="#7ccc7c" stroke-width="1.4" stroke-linejoin="round"/>
<line x1="780.2" y1="1183.0" x2="787.2" y2="1170.1" stroke="#7ccc7c" stroke-width="1.4" stroke-linecap="round"/>
<line x1="809.4" y1="1170.1" x2="816.0" y2="1183.0" stroke="#7ccc7c" stroke-width="1.4" stroke-linecap="round"/>
<line x1="805.8" y1="1201.8" x2="790.7" y2="1201.8" stroke="#7ccc7c" stroke-width="1.4" stroke-linecap="round"/>
<line x1="850.2" y1="1206.9" x2="843.1" y2="1219.8" stroke="#7ccc7c" stroke-width="1.4" stroke-linecap="round"/>
<line x1="877.8" y1="1209.9" x2="884.8" y2="1222.8" stroke="#7ccc7c" stroke-width="1.4" stroke-linecap="round"/>
<line x1="874.2" y1="1242.0" x2="859.1" y2="1242.0" stroke="#7ccc7c" stroke-width="1.4" stroke-linecap="round"/>
<line x1="843.7" y1="1185.1" x2="852.7" y2="1171.4" stroke="#7ccc7c" stroke-width="1.4" stroke-linecap="round"/>
<line x1="846.8" y1="1185.2" x2="854.9" y2="1172.8" stroke="#7ccc7c" stroke-width="1.4" stroke-linecap="round"/>
<line x1="820.4" y1="1224.9" x2="812.3" y2="1241.3" stroke="#7ccc7c" stroke-width="1.4" stroke-linecap="round"/>
<line x1="817.3" y1="1225.4" x2="810.0" y2="1240.1" stroke="#7ccc7c" stroke-width="1.4" stroke-linecap="round"/>
<ellipse cx="855.7" cy="1166.8" rx="4.5" ry="5.4" fill="none" stroke="#7ccc7c" stroke-width="1.6"/>
<ellipse cx="809.9" cy="1246.2" rx="4.5" ry="5.4" fill="none" stroke="#7ccc7c" stroke-width="1.6"/>
<polyline points="889.3,1224.9 890.8,1226.3 892.2,1224.8 893.6,1223.4 895.1,1224.8 896.6,1226.1 898.0,1224.7 899.4,1223.3 900.9,1224.7 902.4,1226.0 903.8,1224.6 905.2,1223.2 906.7,1224.5 908.2,1225.9 909.6,1224.5 911.0,1223.0 912.5,1224.4" fill="none" stroke="#7ccc7c" stroke-width="1.2"/>
<text x="727.7" y="1173" font-size="20" text-anchor="middle" fill="#333" font-family="Liberation Serif, Times New Roman, serif">6</text>
<text x="754.9" y="1173" font-size="20" text-anchor="middle" fill="#333" font-family="Liberation Serif, Times New Roman, serif">5</text>
<text x="769.9" y="1207.4" font-size="20" text-anchor="middle" fill="#333" font-family="Liberation Serif, Times New Roman, serif">4</text>
<text x="782" y="1225.3" font-size="20" text-anchor="middle" fill="#333" font-family="Liberation Serif, Times New Roman, serif">3</text>
<text x="803.4" y="1228" font-size="20" text-anchor="middle" fill="#333" font-family="Liberation Serif, Times New Roman, serif">2</text>
<text x="858.9" y="1194.9" font-size="20" text-anchor="middle" fill="#333" font-family="Liberation Serif, Times New Roman, serif">1</text>
</svg></body></html>
